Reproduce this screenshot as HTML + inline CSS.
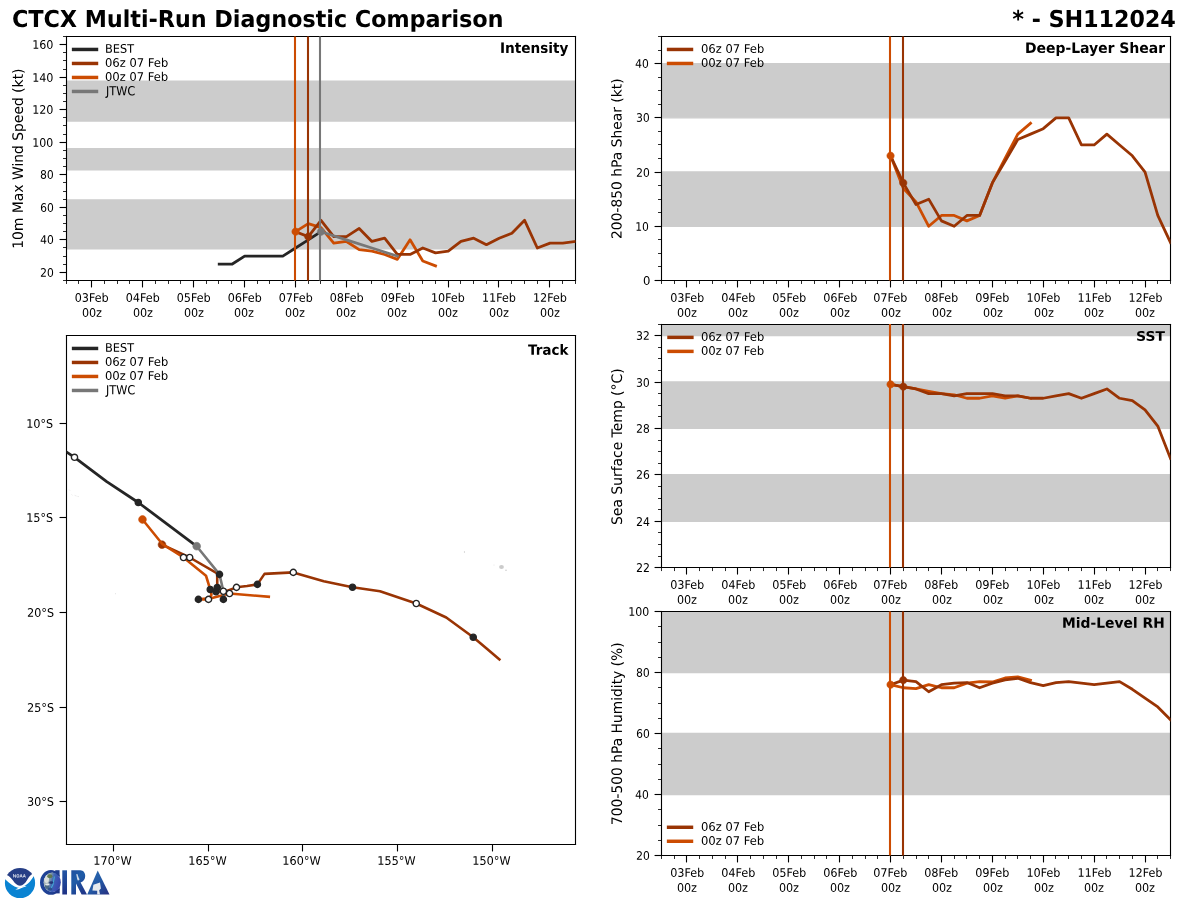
<!DOCTYPE html>
<html><head><meta charset="utf-8"><title>CTCX Multi-Run Diagnostic Comparison</title>
<style>
html,body{margin:0;padding:0;background:#fff;width:1200px;height:900px;overflow:hidden;font-family:"Liberation Sans",sans-serif;}
#fig{position:relative;width:1200px;height:900px;}
</style></head><body><div id="fig">
<svg width="1200" height="900" viewBox="0 0 864 648" style="display:block;position:absolute;left:0;top:0">
<defs>
<style type="text/css">*{stroke-linejoin: round; stroke-linecap: butt}</style>
</defs>
<g id="figure_1">
<g id="patch_1">
<path d="M 0 648 
L 864 648 
L 864 0 
L 0 0 
z
" style="fill: #ffffff"/>
</g>
<g id="axes_1">
<g id="patch_2">
<path d="M 47.88 201.96 
L 414.36 201.96 
L 414.36 26.28 
L 47.88 26.28 
z
" style="fill: #ffffff"/>
</g>
<g id="patch_3">
<path d="M 47.88 179.1216 
L 414.36 179.1216 
L 414.36 143.9856 
L 47.88 143.9856 
z
" clip-path="url(#pd9d3201587)" style="fill: #cccccc; stroke: #cccccc; stroke-linejoin: miter"/>
</g>
<g id="patch_4">
<path d="M 47.88 122.3184 
L 414.36 122.3184 
L 414.36 107.0928 
L 47.88 107.0928 
z
" clip-path="url(#pd9d3201587)" style="fill: #cccccc; stroke: #cccccc; stroke-linejoin: miter"/>
</g>
<g id="patch_5">
<path d="M 47.88 87.1824 
L 414.36 87.1824 
L 414.36 58.488 
L 47.88 58.488 
z
" clip-path="url(#pd9d3201587)" style="fill: #cccccc; stroke: #cccccc; stroke-linejoin: miter"/>
</g>
<g id="matplotlib.axis_1">
<g id="xtick_1">
<g id="line2d_1">
<defs>
<path id="me7126e2e17" d="M 0 0 
L 0 5 
" style="stroke: #000000; stroke-width: 0.8"/>
</defs>
<g>
<use href="#me7126e2e17" x="65.880" y="201.960" style="stroke: #000000; stroke-width: 0.8"/>
</g>
</g>
<g id="text_1">
<g transform="matrix(0.08029 0.00000 0.00000 -0.08500 53.801 217.311)">
<defs>
<path id="DejaVuSans-30" d="M 2034 4250 
Q 1547 4250 1301 3770 
Q 1056 3291 1056 2328 
Q 1056 1369 1301 889 
Q 1547 409 2034 409 
Q 2525 409 2770 889 
Q 3016 1369 3016 2328 
Q 3016 3291 2770 3770 
Q 2525 4250 2034 4250 
z
M 2034 4750 
Q 2819 4750 3233 4129 
Q 3647 3509 3647 2328 
Q 3647 1150 3233 529 
Q 2819 -91 2034 -91 
Q 1250 -91 836 529 
Q 422 1150 422 2328 
Q 422 3509 836 4129 
Q 1250 4750 2034 4750 
z
" transform="scale(0.015625)"/>
<path id="DejaVuSans-33" d="M 2597 2516 
Q 3050 2419 3304 2112 
Q 3559 1806 3559 1356 
Q 3559 666 3084 287 
Q 2609 -91 1734 -91 
Q 1441 -91 1130 -33 
Q 819 25 488 141 
L 488 750 
Q 750 597 1062 519 
Q 1375 441 1716 441 
Q 2309 441 2620 675 
Q 2931 909 2931 1356 
Q 2931 1769 2642 2001 
Q 2353 2234 1838 2234 
L 1294 2234 
L 1294 2753 
L 1863 2753 
Q 2328 2753 2575 2939 
Q 2822 3125 2822 3475 
Q 2822 3834 2567 4026 
Q 2313 4219 1838 4219 
Q 1578 4219 1281 4162 
Q 984 4106 628 3988 
L 628 4550 
Q 988 4650 1302 4700 
Q 1616 4750 1894 4750 
Q 2613 4750 3031 4423 
Q 3450 4097 3450 3541 
Q 3450 3153 3228 2886 
Q 3006 2619 2597 2516 
z
" transform="scale(0.015625)"/>
<path id="DejaVuSans-46" d="M 628 4666 
L 3309 4666 
L 3309 4134 
L 1259 4134 
L 1259 2759 
L 3109 2759 
L 3109 2228 
L 1259 2228 
L 1259 0 
L 628 0 
L 628 4666 
z
" transform="scale(0.015625)"/>
<path id="DejaVuSans-65" d="M 3597 1894 
L 3597 1613 
L 953 1613 
Q 991 1019 1311 708 
Q 1631 397 2203 397 
Q 2534 397 2845 478 
Q 3156 559 3463 722 
L 3463 178 
Q 3153 47 2828 -22 
Q 2503 -91 2169 -91 
Q 1331 -91 842 396 
Q 353 884 353 1716 
Q 353 2575 817 3079 
Q 1281 3584 2069 3584 
Q 2775 3584 3186 3129 
Q 3597 2675 3597 1894 
z
M 3022 2063 
Q 3016 2534 2758 2815 
Q 2500 3097 2075 3097 
Q 1594 3097 1305 2825 
Q 1016 2553 972 2059 
L 3022 2063 
z
" transform="scale(0.015625)"/>
<path id="DejaVuSans-62" d="M 3116 1747 
Q 3116 2381 2855 2742 
Q 2594 3103 2138 3103 
Q 1681 3103 1420 2742 
Q 1159 2381 1159 1747 
Q 1159 1113 1420 752 
Q 1681 391 2138 391 
Q 2594 391 2855 752 
Q 3116 1113 3116 1747 
z
M 1159 2969 
Q 1341 3281 1617 3432 
Q 1894 3584 2278 3584 
Q 2916 3584 3314 3078 
Q 3713 2572 3713 1747 
Q 3713 922 3314 415 
Q 2916 -91 2278 -91 
Q 1894 -91 1617 61 
Q 1341 213 1159 525 
L 1159 0 
L 581 0 
L 581 4863 
L 1159 4863 
L 1159 2969 
z
" transform="scale(0.015625)"/>
</defs>
<use href="#DejaVuSans-30"/>
<use href="#DejaVuSans-33" transform="translate(63.623047 0)"/>
<use href="#DejaVuSans-46" transform="translate(127.246094 0)"/>
<use href="#DejaVuSans-65" transform="translate(179.265625 0)"/>
<use href="#DejaVuSans-62" transform="translate(240.789062 0)"/>
</g>
<g transform="matrix(0.07965 0.00000 0.00000 -0.08507 59.063 228.102)">
<defs>
<path id="DejaVuSans-7a" d="M 353 3500 
L 3084 3500 
L 3084 2975 
L 922 459 
L 3084 459 
L 3084 0 
L 275 0 
L 275 525 
L 2438 3041 
L 353 3041 
L 353 3500 
z
" transform="scale(0.015625)"/>
</defs>
<use href="#DejaVuSans-30"/>
<use href="#DejaVuSans-30" transform="translate(63.623047 0)"/>
<use href="#DejaVuSans-7a" transform="translate(127.246094 0)"/>
</g>
</g>
</g>
<g id="xtick_2">
<g id="line2d_2">
<g>
<use href="#me7126e2e17" x="102.600" y="201.960" style="stroke: #000000; stroke-width: 0.8"/>
</g>
</g>
<g id="text_2">
<g transform="matrix(0.08060 0.00000 0.00000 -0.08500 90.520 217.319)">
<defs>
<path id="DejaVuSans-34" d="M 2419 4116 
L 825 1625 
L 2419 1625 
L 2419 4116 
z
M 2253 4666 
L 3047 4666 
L 3047 1625 
L 3713 1625 
L 3713 1100 
L 3047 1100 
L 3047 0 
L 2419 0 
L 2419 1100 
L 313 1100 
L 313 1709 
L 2253 4666 
z
" transform="scale(0.015625)"/>
</defs>
<use href="#DejaVuSans-30"/>
<use href="#DejaVuSans-34" transform="translate(63.623047 0)"/>
<use href="#DejaVuSans-46" transform="translate(127.246094 0)"/>
<use href="#DejaVuSans-65" transform="translate(179.265625 0)"/>
<use href="#DejaVuSans-62" transform="translate(240.789062 0)"/>
</g>
<g transform="matrix(0.07965 0.00000 0.00000 -0.08507 95.783 228.102)">
<use href="#DejaVuSans-30"/>
<use href="#DejaVuSans-30" transform="translate(63.623047 0)"/>
<use href="#DejaVuSans-7a" transform="translate(127.246094 0)"/>
</g>
</g>
</g>
<g id="xtick_3">
<g id="line2d_3">
<g>
<use href="#me7126e2e17" x="139.320" y="201.960" style="stroke: #000000; stroke-width: 0.8"/>
</g>
</g>
<g id="text_3">
<g transform="matrix(0.08029 0.00000 0.00000 -0.08500 127.241 217.311)">
<defs>
<path id="DejaVuSans-35" d="M 691 4666 
L 3169 4666 
L 3169 4134 
L 1269 4134 
L 1269 2991 
Q 1406 3038 1543 3061 
Q 1681 3084 1819 3084 
Q 2600 3084 3056 2656 
Q 3513 2228 3513 1497 
Q 3513 744 3044 326 
Q 2575 -91 1722 -91 
Q 1428 -91 1123 -41 
Q 819 9 494 109 
L 494 744 
Q 775 591 1075 516 
Q 1375 441 1709 441 
Q 2250 441 2565 725 
Q 2881 1009 2881 1497 
Q 2881 1984 2565 2268 
Q 2250 2553 1709 2553 
Q 1456 2553 1204 2497 
Q 953 2441 691 2322 
L 691 4666 
z
" transform="scale(0.015625)"/>
</defs>
<use href="#DejaVuSans-30"/>
<use href="#DejaVuSans-35" transform="translate(63.623047 0)"/>
<use href="#DejaVuSans-46" transform="translate(127.246094 0)"/>
<use href="#DejaVuSans-65" transform="translate(179.265625 0)"/>
<use href="#DejaVuSans-62" transform="translate(240.789062 0)"/>
</g>
<g transform="matrix(0.07965 0.00000 0.00000 -0.08507 132.503 228.102)">
<use href="#DejaVuSans-30"/>
<use href="#DejaVuSans-30" transform="translate(63.623047 0)"/>
<use href="#DejaVuSans-7a" transform="translate(127.246094 0)"/>
</g>
</g>
</g>
<g id="xtick_4">
<g id="line2d_4">
<g>
<use href="#me7126e2e17" x="176.040" y="201.960" style="stroke: #000000; stroke-width: 0.8"/>
</g>
</g>
<g id="text_4">
<g transform="matrix(0.08060 0.00000 0.00000 -0.08500 163.960 217.319)">
<defs>
<path id="DejaVuSans-36" d="M 2113 2584 
Q 1688 2584 1439 2293 
Q 1191 2003 1191 1497 
Q 1191 994 1439 701 
Q 1688 409 2113 409 
Q 2538 409 2786 701 
Q 3034 994 3034 1497 
Q 3034 2003 2786 2293 
Q 2538 2584 2113 2584 
z
M 3366 4563 
L 3366 3988 
Q 3128 4100 2886 4159 
Q 2644 4219 2406 4219 
Q 1781 4219 1451 3797 
Q 1122 3375 1075 2522 
Q 1259 2794 1537 2939 
Q 1816 3084 2150 3084 
Q 2853 3084 3261 2657 
Q 3669 2231 3669 1497 
Q 3669 778 3244 343 
Q 2819 -91 2113 -91 
Q 1303 -91 875 529 
Q 447 1150 447 2328 
Q 447 3434 972 4092 
Q 1497 4750 2381 4750 
Q 2619 4750 2861 4703 
Q 3103 4656 3366 4563 
z
" transform="scale(0.015625)"/>
</defs>
<use href="#DejaVuSans-30"/>
<use href="#DejaVuSans-36" transform="translate(63.623047 0)"/>
<use href="#DejaVuSans-46" transform="translate(127.246094 0)"/>
<use href="#DejaVuSans-65" transform="translate(179.265625 0)"/>
<use href="#DejaVuSans-62" transform="translate(240.789062 0)"/>
</g>
<g transform="matrix(0.07965 0.00000 0.00000 -0.08507 168.503 228.102)">
<use href="#DejaVuSans-30"/>
<use href="#DejaVuSans-30" transform="translate(63.623047 0)"/>
<use href="#DejaVuSans-7a" transform="translate(127.246094 0)"/>
</g>
</g>
</g>
<g id="xtick_5">
<g id="line2d_5">
<g>
<use href="#me7126e2e17" x="212.760" y="201.960" style="stroke: #000000; stroke-width: 0.8"/>
</g>
</g>
<g id="text_5">
<g transform="matrix(0.08060 0.00000 0.00000 -0.08500 200.680 217.319)">
<defs>
<path id="DejaVuSans-37" d="M 525 4666 
L 3525 4666 
L 3525 4397 
L 1831 0 
L 1172 0 
L 2766 4134 
L 525 4134 
L 525 4666 
z
" transform="scale(0.015625)"/>
</defs>
<use href="#DejaVuSans-30"/>
<use href="#DejaVuSans-37" transform="translate(63.623047 0)"/>
<use href="#DejaVuSans-46" transform="translate(127.246094 0)"/>
<use href="#DejaVuSans-65" transform="translate(179.265625 0)"/>
<use href="#DejaVuSans-62" transform="translate(240.789062 0)"/>
</g>
<g transform="matrix(0.07965 0.00000 0.00000 -0.08507 205.223 228.102)">
<use href="#DejaVuSans-30"/>
<use href="#DejaVuSans-30" transform="translate(63.623047 0)"/>
<use href="#DejaVuSans-7a" transform="translate(127.246094 0)"/>
</g>
</g>
</g>
<g id="xtick_6">
<g id="line2d_6">
<g>
<use href="#me7126e2e17" x="249.480" y="201.960" style="stroke: #000000; stroke-width: 0.8"/>
</g>
</g>
<g id="text_6">
<g transform="matrix(0.08029 0.00000 0.00000 -0.08500 237.401 217.311)">
<defs>
<path id="DejaVuSans-38" d="M 2034 2216 
Q 1584 2216 1326 1975 
Q 1069 1734 1069 1313 
Q 1069 891 1326 650 
Q 1584 409 2034 409 
Q 2484 409 2743 651 
Q 3003 894 3003 1313 
Q 3003 1734 2745 1975 
Q 2488 2216 2034 2216 
z
M 1403 2484 
Q 997 2584 770 2862 
Q 544 3141 544 3541 
Q 544 4100 942 4425 
Q 1341 4750 2034 4750 
Q 2731 4750 3128 4425 
Q 3525 4100 3525 3541 
Q 3525 3141 3298 2862 
Q 3072 2584 2669 2484 
Q 3125 2378 3379 2068 
Q 3634 1759 3634 1313 
Q 3634 634 3220 271 
Q 2806 -91 2034 -91 
Q 1263 -91 848 271 
Q 434 634 434 1313 
Q 434 1759 690 2068 
Q 947 2378 1403 2484 
z
M 1172 3481 
Q 1172 3119 1398 2916 
Q 1625 2713 2034 2713 
Q 2441 2713 2670 2916 
Q 2900 3119 2900 3481 
Q 2900 3844 2670 4047 
Q 2441 4250 2034 4250 
Q 1625 4250 1398 4047 
Q 1172 3844 1172 3481 
z
" transform="scale(0.015625)"/>
</defs>
<use href="#DejaVuSans-30"/>
<use href="#DejaVuSans-38" transform="translate(63.623047 0)"/>
<use href="#DejaVuSans-46" transform="translate(127.246094 0)"/>
<use href="#DejaVuSans-65" transform="translate(179.265625 0)"/>
<use href="#DejaVuSans-62" transform="translate(240.789062 0)"/>
</g>
<g transform="matrix(0.07965 0.00000 0.00000 -0.08507 241.943 228.102)">
<use href="#DejaVuSans-30"/>
<use href="#DejaVuSans-30" transform="translate(63.623047 0)"/>
<use href="#DejaVuSans-7a" transform="translate(127.246094 0)"/>
</g>
</g>
</g>
<g id="xtick_7">
<g id="line2d_7">
<g>
<use href="#me7126e2e17" x="286.200" y="201.960" style="stroke: #000000; stroke-width: 0.8"/>
</g>
</g>
<g id="text_7">
<g transform="matrix(0.08060 0.00000 0.00000 -0.08500 274.120 217.319)">
<defs>
<path id="DejaVuSans-39" d="M 703 97 
L 703 672 
Q 941 559 1184 500 
Q 1428 441 1663 441 
Q 2288 441 2617 861 
Q 2947 1281 2994 2138 
Q 2813 1869 2534 1725 
Q 2256 1581 1919 1581 
Q 1219 1581 811 2004 
Q 403 2428 403 3163 
Q 403 3881 828 4315 
Q 1253 4750 1959 4750 
Q 2769 4750 3195 4129 
Q 3622 3509 3622 2328 
Q 3622 1225 3098 567 
Q 2575 -91 1691 -91 
Q 1453 -91 1209 -44 
Q 966 3 703 97 
z
M 1959 2075 
Q 2384 2075 2632 2365 
Q 2881 2656 2881 3163 
Q 2881 3666 2632 3958 
Q 2384 4250 1959 4250 
Q 1534 4250 1286 3958 
Q 1038 3666 1038 3163 
Q 1038 2656 1286 2365 
Q 1534 2075 1959 2075 
z
" transform="scale(0.015625)"/>
</defs>
<use href="#DejaVuSans-30"/>
<use href="#DejaVuSans-39" transform="translate(63.623047 0)"/>
<use href="#DejaVuSans-46" transform="translate(127.246094 0)"/>
<use href="#DejaVuSans-65" transform="translate(179.265625 0)"/>
<use href="#DejaVuSans-62" transform="translate(240.789062 0)"/>
</g>
<g transform="matrix(0.07965 0.00000 0.00000 -0.08507 278.663 228.102)">
<use href="#DejaVuSans-30"/>
<use href="#DejaVuSans-30" transform="translate(63.623047 0)"/>
<use href="#DejaVuSans-7a" transform="translate(127.246094 0)"/>
</g>
</g>
</g>
<g id="xtick_8">
<g id="line2d_8">
<g>
<use href="#me7126e2e17" x="322.920" y="201.960" style="stroke: #000000; stroke-width: 0.8"/>
</g>
</g>
<g id="text_8">
<g transform="matrix(0.08001 0.00000 0.00000 -0.08500 310.299 217.319)">
<defs>
<path id="DejaVuSans-31" d="M 794 531 
L 1825 531 
L 1825 4091 
L 703 3866 
L 703 4441 
L 1819 4666 
L 2450 4666 
L 2450 531 
L 3481 531 
L 3481 0 
L 794 0 
L 794 531 
z
" transform="scale(0.015625)"/>
</defs>
<use href="#DejaVuSans-31"/>
<use href="#DejaVuSans-30" transform="translate(63.623047 0)"/>
<use href="#DejaVuSans-46" transform="translate(127.246094 0)"/>
<use href="#DejaVuSans-65" transform="translate(179.265625 0)"/>
<use href="#DejaVuSans-62" transform="translate(240.789062 0)"/>
</g>
<g transform="matrix(0.07965 0.00000 0.00000 -0.08507 315.383 228.102)">
<use href="#DejaVuSans-30"/>
<use href="#DejaVuSans-30" transform="translate(63.623047 0)"/>
<use href="#DejaVuSans-7a" transform="translate(127.246094 0)"/>
</g>
</g>
</g>
<g id="xtick_9">
<g id="line2d_9">
<g>
<use href="#me7126e2e17" x="358.920" y="201.960" style="stroke: #000000; stroke-width: 0.8"/>
</g>
</g>
<g id="text_9">
<g transform="matrix(0.08031 0.00000 0.00000 -0.08500 347.016 217.319)">
<use href="#DejaVuSans-31"/>
<use href="#DejaVuSans-31" transform="translate(63.623047 0)"/>
<use href="#DejaVuSans-46" transform="translate(127.246094 0)"/>
<use href="#DejaVuSans-65" transform="translate(179.265625 0)"/>
<use href="#DejaVuSans-62" transform="translate(240.789062 0)"/>
</g>
<g transform="matrix(0.07965 0.00000 0.00000 -0.08507 352.103 228.102)">
<use href="#DejaVuSans-30"/>
<use href="#DejaVuSans-30" transform="translate(63.623047 0)"/>
<use href="#DejaVuSans-7a" transform="translate(127.246094 0)"/>
</g>
</g>
</g>
<g id="xtick_10">
<g id="line2d_10">
<g>
<use href="#me7126e2e17" x="395.640" y="201.960" style="stroke: #000000; stroke-width: 0.8"/>
</g>
</g>
<g id="text_10">
<g transform="matrix(0.08031 0.00000 0.00000 -0.08500 383.736 217.319)">
<defs>
<path id="DejaVuSans-32" d="M 1228 531 
L 3431 531 
L 3431 0 
L 469 0 
L 469 531 
Q 828 903 1448 1529 
Q 2069 2156 2228 2338 
Q 2531 2678 2651 2914 
Q 2772 3150 2772 3378 
Q 2772 3750 2511 3984 
Q 2250 4219 1831 4219 
Q 1534 4219 1204 4116 
Q 875 4013 500 3803 
L 500 4441 
Q 881 4594 1212 4672 
Q 1544 4750 1819 4750 
Q 2544 4750 2975 4387 
Q 3406 4025 3406 3419 
Q 3406 3131 3298 2873 
Q 3191 2616 2906 2266 
Q 2828 2175 2409 1742 
Q 1991 1309 1228 531 
z
" transform="scale(0.015625)"/>
</defs>
<use href="#DejaVuSans-31"/>
<use href="#DejaVuSans-32" transform="translate(63.623047 0)"/>
<use href="#DejaVuSans-46" transform="translate(127.246094 0)"/>
<use href="#DejaVuSans-65" transform="translate(179.265625 0)"/>
<use href="#DejaVuSans-62" transform="translate(240.789062 0)"/>
</g>
<g transform="matrix(0.07965 0.00000 0.00000 -0.08507 388.823 228.102)">
<use href="#DejaVuSans-30"/>
<use href="#DejaVuSans-30" transform="translate(63.623047 0)"/>
<use href="#DejaVuSans-7a" transform="translate(127.246094 0)"/>
</g>
</g>
</g>
<g id="xtick_11">
<g id="line2d_11">
<defs>
<path id="me60ad57aef" d="M 0 0 
L 0 2.5 
" style="stroke: #000000; stroke-width: 0.6"/>
</defs>
<g>
<use href="#me60ad57aef" x="47.880" y="201.960" style="stroke: #000000; stroke-width: 0.6"/>
</g>
</g>
</g>
<g id="xtick_12">
<g id="line2d_12">
<g>
<use href="#me60ad57aef" x="56.520" y="201.960" style="stroke: #000000; stroke-width: 0.6"/>
</g>
</g>
</g>
<g id="xtick_13">
<g id="line2d_13">
<g>
<use href="#me60ad57aef" x="75.240" y="201.960" style="stroke: #000000; stroke-width: 0.6"/>
</g>
</g>
</g>
<g id="xtick_14">
<g id="line2d_14">
<g>
<use href="#me60ad57aef" x="84.600" y="201.960" style="stroke: #000000; stroke-width: 0.6"/>
</g>
</g>
</g>
<g id="xtick_15">
<g id="line2d_15">
<g>
<use href="#me60ad57aef" x="93.240" y="201.960" style="stroke: #000000; stroke-width: 0.6"/>
</g>
</g>
</g>
<g id="xtick_16">
<g id="line2d_16">
<g>
<use href="#me60ad57aef" x="111.960" y="201.960" style="stroke: #000000; stroke-width: 0.6"/>
</g>
</g>
</g>
<g id="xtick_17">
<g id="line2d_17">
<g>
<use href="#me60ad57aef" x="121.320" y="201.960" style="stroke: #000000; stroke-width: 0.6"/>
</g>
</g>
</g>
<g id="xtick_18">
<g id="line2d_18">
<g>
<use href="#me60ad57aef" x="129.960" y="201.960" style="stroke: #000000; stroke-width: 0.6"/>
</g>
</g>
</g>
<g id="xtick_19">
<g id="line2d_19">
<g>
<use href="#me60ad57aef" x="148.680" y="201.960" style="stroke: #000000; stroke-width: 0.6"/>
</g>
</g>
</g>
<g id="xtick_20">
<g id="line2d_20">
<g>
<use href="#me60ad57aef" x="157.320" y="201.960" style="stroke: #000000; stroke-width: 0.6"/>
</g>
</g>
</g>
<g id="xtick_21">
<g id="line2d_21">
<g>
<use href="#me60ad57aef" x="166.680" y="201.960" style="stroke: #000000; stroke-width: 0.6"/>
</g>
</g>
</g>
<g id="xtick_22">
<g id="line2d_22">
<g>
<use href="#me60ad57aef" x="185.400" y="201.960" style="stroke: #000000; stroke-width: 0.6"/>
</g>
</g>
</g>
<g id="xtick_23">
<g id="line2d_23">
<g>
<use href="#me60ad57aef" x="194.040" y="201.960" style="stroke: #000000; stroke-width: 0.6"/>
</g>
</g>
</g>
<g id="xtick_24">
<g id="line2d_24">
<g>
<use href="#me60ad57aef" x="203.400" y="201.960" style="stroke: #000000; stroke-width: 0.6"/>
</g>
</g>
</g>
<g id="xtick_25">
<g id="line2d_25">
<g>
<use href="#me60ad57aef" x="222.120" y="201.960" style="stroke: #000000; stroke-width: 0.6"/>
</g>
</g>
</g>
<g id="xtick_26">
<g id="line2d_26">
<g>
<use href="#me60ad57aef" x="230.760" y="201.960" style="stroke: #000000; stroke-width: 0.6"/>
</g>
</g>
</g>
<g id="xtick_27">
<g id="line2d_27">
<g>
<use href="#me60ad57aef" x="240.120" y="201.960" style="stroke: #000000; stroke-width: 0.6"/>
</g>
</g>
</g>
<g id="xtick_28">
<g id="line2d_28">
<g>
<use href="#me60ad57aef" x="258.120" y="201.960" style="stroke: #000000; stroke-width: 0.6"/>
</g>
</g>
</g>
<g id="xtick_29">
<g id="line2d_29">
<g>
<use href="#me60ad57aef" x="267.480" y="201.960" style="stroke: #000000; stroke-width: 0.6"/>
</g>
</g>
</g>
<g id="xtick_30">
<g id="line2d_30">
<g>
<use href="#me60ad57aef" x="276.840" y="201.960" style="stroke: #000000; stroke-width: 0.6"/>
</g>
</g>
</g>
<g id="xtick_31">
<g id="line2d_31">
<g>
<use href="#me60ad57aef" x="294.840" y="201.960" style="stroke: #000000; stroke-width: 0.6"/>
</g>
</g>
</g>
<g id="xtick_32">
<g id="line2d_32">
<g>
<use href="#me60ad57aef" x="304.200" y="201.960" style="stroke: #000000; stroke-width: 0.6"/>
</g>
</g>
</g>
<g id="xtick_33">
<g id="line2d_33">
<g>
<use href="#me60ad57aef" x="313.560" y="201.960" style="stroke: #000000; stroke-width: 0.6"/>
</g>
</g>
</g>
<g id="xtick_34">
<g id="line2d_34">
<g>
<use href="#me60ad57aef" x="331.560" y="201.960" style="stroke: #000000; stroke-width: 0.6"/>
</g>
</g>
</g>
<g id="xtick_35">
<g id="line2d_35">
<g>
<use href="#me60ad57aef" x="340.920" y="201.960" style="stroke: #000000; stroke-width: 0.6"/>
</g>
</g>
</g>
<g id="xtick_36">
<g id="line2d_36">
<g>
<use href="#me60ad57aef" x="350.280" y="201.960" style="stroke: #000000; stroke-width: 0.6"/>
</g>
</g>
</g>
<g id="xtick_37">
<g id="line2d_37">
<g>
<use href="#me60ad57aef" x="368.280" y="201.960" style="stroke: #000000; stroke-width: 0.6"/>
</g>
</g>
</g>
<g id="xtick_38">
<g id="line2d_38">
<g>
<use href="#me60ad57aef" x="377.640" y="201.960" style="stroke: #000000; stroke-width: 0.6"/>
</g>
</g>
</g>
<g id="xtick_39">
<g id="line2d_39">
<g>
<use href="#me60ad57aef" x="387.000" y="201.960" style="stroke: #000000; stroke-width: 0.6"/>
</g>
</g>
</g>
<g id="xtick_40">
<g id="line2d_40">
<g>
<use href="#me60ad57aef" x="405.000" y="201.960" style="stroke: #000000; stroke-width: 0.6"/>
</g>
</g>
</g>
<g id="xtick_41">
<g id="line2d_41">
<g>
<use href="#me60ad57aef" x="414.360" y="201.960" style="stroke: #000000; stroke-width: 0.6"/>
</g>
</g>
</g>
</g>
<g id="matplotlib.axis_2">
<g id="ytick_1">
<g id="line2d_42">
<defs>
<path id="med81453d1f" d="M 0 0 
L -5 0 
" style="stroke: #000000; stroke-width: 0.8"/>
</defs>
<g>
<use href="#med81453d1f" x="47.880" y="196.200" style="stroke: #000000; stroke-width: 0.8"/>
</g>
</g>
<g id="text_11">
<g transform="matrix(0.07777 0.00000 0.00000 -0.08522 28.863 199.319)">
<use href="#DejaVuSans-32"/>
<use href="#DejaVuSans-30" transform="translate(63.623047 0)"/>
</g>
</g>
</g>
<g id="ytick_2">
<g id="line2d_43">
<g>
<use href="#med81453d1f" x="47.880" y="172.440" style="stroke: #000000; stroke-width: 0.8"/>
</g>
</g>
<g id="text_12">
<g transform="matrix(0.07772 0.00000 0.00000 -0.08496 28.869 175.528)">
<use href="#DejaVuSans-34"/>
<use href="#DejaVuSans-30" transform="translate(63.623047 0)"/>
</g>
</g>
</g>
<g id="ytick_3">
<g id="line2d_44">
<g>
<use href="#med81453d1f" x="47.880" y="149.400" style="stroke: #000000; stroke-width: 0.8"/>
</g>
</g>
<g id="text_13">
<g transform="matrix(0.07741 0.00000 0.00000 -0.08488 28.906 152.488)">
<use href="#DejaVuSans-36"/>
<use href="#DejaVuSans-30" transform="translate(63.623047 0)"/>
</g>
</g>
</g>
<g id="ytick_4">
<g id="line2d_45">
<g>
<use href="#med81453d1f" x="47.880" y="125.640" style="stroke: #000000; stroke-width: 0.8"/>
</g>
</g>
<g id="text_14">
<g transform="matrix(0.07717 0.00000 0.00000 -0.08470 28.847 128.723)">
<use href="#DejaVuSans-38"/>
<use href="#DejaVuSans-30" transform="translate(63.623047 0)"/>
</g>
</g>
</g>
<g id="ytick_5">
<g id="line2d_46">
<g>
<use href="#med81453d1f" x="47.880" y="102.600" style="stroke: #000000; stroke-width: 0.8"/>
</g>
</g>
<g id="text_15">
<g transform="matrix(0.07893 0.00000 0.00000 -0.08556 23.252 105.718)">
<use href="#DejaVuSans-31"/>
<use href="#DejaVuSans-30" transform="translate(63.623047 0)"/>
<use href="#DejaVuSans-30" transform="translate(127.246094 0)"/>
</g>
</g>
</g>
<g id="ytick_6">
<g id="line2d_47">
<g>
<use href="#med81453d1f" x="47.880" y="78.840" style="stroke: #000000; stroke-width: 0.8"/>
</g>
</g>
<g id="text_16">
<g transform="matrix(0.07945 0.00000 0.00000 -0.08556 23.246 81.958)">
<use href="#DejaVuSans-31"/>
<use href="#DejaVuSans-32" transform="translate(63.623047 0)"/>
<use href="#DejaVuSans-30" transform="translate(127.246094 0)"/>
</g>
</g>
</g>
<g id="ytick_7">
<g id="line2d_48">
<g>
<use href="#med81453d1f" x="47.880" y="55.800" style="stroke: #000000; stroke-width: 0.8"/>
</g>
</g>
<g id="text_17">
<g transform="matrix(0.07945 0.00000 0.00000 -0.08567 23.246 58.918)">
<use href="#DejaVuSans-31"/>
<use href="#DejaVuSans-34" transform="translate(63.623047 0)"/>
<use href="#DejaVuSans-30" transform="translate(127.246094 0)"/>
</g>
</g>
</g>
<g id="ytick_8">
<g id="line2d_49">
<g>
<use href="#med81453d1f" x="47.880" y="32.040" style="stroke: #000000; stroke-width: 0.8"/>
</g>
</g>
<g id="text_18">
<g transform="matrix(0.07945 0.00000 0.00000 -0.08556 23.246 35.158)">
<use href="#DejaVuSans-31"/>
<use href="#DejaVuSans-36" transform="translate(63.623047 0)"/>
<use href="#DejaVuSans-30" transform="translate(127.246094 0)"/>
</g>
</g>
</g>
<g id="ytick_9">
<g id="line2d_50">
<defs>
<path id="mf9979f3be9" d="M 0 0 
L -2.5 0 
" style="stroke: #000000; stroke-width: 0.6"/>
</defs>
<g>
<use href="#mf9979f3be9" x="47.880" y="201.960" style="stroke: #000000; stroke-width: 0.6"/>
</g>
</g>
</g>
<g id="ytick_10">
<g id="line2d_51">
<g>
<use href="#mf9979f3be9" x="47.880" y="190.440" style="stroke: #000000; stroke-width: 0.6"/>
</g>
</g>
</g>
<g id="ytick_11">
<g id="line2d_52">
<g>
<use href="#mf9979f3be9" x="47.880" y="184.680" style="stroke: #000000; stroke-width: 0.6"/>
</g>
</g>
</g>
<g id="ytick_12">
<g id="line2d_53">
<g>
<use href="#mf9979f3be9" x="47.880" y="178.200" style="stroke: #000000; stroke-width: 0.6"/>
</g>
</g>
</g>
<g id="ytick_13">
<g id="line2d_54">
<g>
<use href="#mf9979f3be9" x="47.880" y="166.680" style="stroke: #000000; stroke-width: 0.6"/>
</g>
</g>
</g>
<g id="ytick_14">
<g id="line2d_55">
<g>
<use href="#mf9979f3be9" x="47.880" y="160.920" style="stroke: #000000; stroke-width: 0.6"/>
</g>
</g>
</g>
<g id="ytick_15">
<g id="line2d_56">
<g>
<use href="#mf9979f3be9" x="47.880" y="155.160" style="stroke: #000000; stroke-width: 0.6"/>
</g>
</g>
</g>
<g id="ytick_16">
<g id="line2d_57">
<g>
<use href="#mf9979f3be9" x="47.880" y="143.640" style="stroke: #000000; stroke-width: 0.6"/>
</g>
</g>
</g>
<g id="ytick_17">
<g id="line2d_58">
<g>
<use href="#mf9979f3be9" x="47.880" y="137.880" style="stroke: #000000; stroke-width: 0.6"/>
</g>
</g>
</g>
<g id="ytick_18">
<g id="line2d_59">
<g>
<use href="#mf9979f3be9" x="47.880" y="131.400" style="stroke: #000000; stroke-width: 0.6"/>
</g>
</g>
</g>
<g id="ytick_19">
<g id="line2d_60">
<g>
<use href="#mf9979f3be9" x="47.880" y="119.880" style="stroke: #000000; stroke-width: 0.6"/>
</g>
</g>
</g>
<g id="ytick_20">
<g id="line2d_61">
<g>
<use href="#mf9979f3be9" x="47.880" y="114.120" style="stroke: #000000; stroke-width: 0.6"/>
</g>
</g>
</g>
<g id="ytick_21">
<g id="line2d_62">
<g>
<use href="#mf9979f3be9" x="47.880" y="108.360" style="stroke: #000000; stroke-width: 0.6"/>
</g>
</g>
</g>
<g id="ytick_22">
<g id="line2d_63">
<g>
<use href="#mf9979f3be9" x="47.880" y="96.840" style="stroke: #000000; stroke-width: 0.6"/>
</g>
</g>
</g>
<g id="ytick_23">
<g id="line2d_64">
<g>
<use href="#mf9979f3be9" x="47.880" y="90.360" style="stroke: #000000; stroke-width: 0.6"/>
</g>
</g>
</g>
<g id="ytick_24">
<g id="line2d_65">
<g>
<use href="#mf9979f3be9" x="47.880" y="84.600" style="stroke: #000000; stroke-width: 0.6"/>
</g>
</g>
</g>
<g id="ytick_25">
<g id="line2d_66">
<g>
<use href="#mf9979f3be9" x="47.880" y="73.080" style="stroke: #000000; stroke-width: 0.6"/>
</g>
</g>
</g>
<g id="ytick_26">
<g id="line2d_67">
<g>
<use href="#mf9979f3be9" x="47.880" y="67.320" style="stroke: #000000; stroke-width: 0.6"/>
</g>
</g>
</g>
<g id="ytick_27">
<g id="line2d_68">
<g>
<use href="#mf9979f3be9" x="47.880" y="61.560" style="stroke: #000000; stroke-width: 0.6"/>
</g>
</g>
</g>
<g id="ytick_28">
<g id="line2d_69">
<g>
<use href="#mf9979f3be9" x="47.880" y="50.040" style="stroke: #000000; stroke-width: 0.6"/>
</g>
</g>
</g>
<g id="ytick_29">
<g id="line2d_70">
<g>
<use href="#mf9979f3be9" x="47.880" y="43.560" style="stroke: #000000; stroke-width: 0.6"/>
</g>
</g>
</g>
<g id="ytick_30">
<g id="line2d_71">
<g>
<use href="#mf9979f3be9" x="47.880" y="37.800" style="stroke: #000000; stroke-width: 0.6"/>
</g>
</g>
</g>
<g id="ytick_31">
<g id="line2d_72">
<g>
<use href="#mf9979f3be9" x="47.880" y="26.280" style="stroke: #000000; stroke-width: 0.6"/>
</g>
</g>
</g>
<g id="text_19">
<g transform="matrix(0.00000 -0.09997 -0.10316 -0.00000 16.481 179.141)">
<defs>
<path id="DejaVuSans-6d" d="M 3328 2828 
Q 3544 3216 3844 3400 
Q 4144 3584 4550 3584 
Q 5097 3584 5394 3201 
Q 5691 2819 5691 2113 
L 5691 0 
L 5113 0 
L 5113 2094 
Q 5113 2597 4934 2840 
Q 4756 3084 4391 3084 
Q 3944 3084 3684 2787 
Q 3425 2491 3425 1978 
L 3425 0 
L 2847 0 
L 2847 2094 
Q 2847 2600 2669 2842 
Q 2491 3084 2119 3084 
Q 1678 3084 1418 2786 
Q 1159 2488 1159 1978 
L 1159 0 
L 581 0 
L 581 3500 
L 1159 3500 
L 1159 2956 
Q 1356 3278 1631 3431 
Q 1906 3584 2284 3584 
Q 2666 3584 2933 3390 
Q 3200 3197 3328 2828 
z
" transform="scale(0.015625)"/>
<path id="DejaVuSans-20" transform="scale(0.015625)"/>
<path id="DejaVuSans-4d" d="M 628 4666 
L 1569 4666 
L 2759 1491 
L 3956 4666 
L 4897 4666 
L 4897 0 
L 4281 0 
L 4281 4097 
L 3078 897 
L 2444 897 
L 1241 4097 
L 1241 0 
L 628 0 
L 628 4666 
z
" transform="scale(0.015625)"/>
<path id="DejaVuSans-61" d="M 2194 1759 
Q 1497 1759 1228 1600 
Q 959 1441 959 1056 
Q 959 750 1161 570 
Q 1363 391 1709 391 
Q 2188 391 2477 730 
Q 2766 1069 2766 1631 
L 2766 1759 
L 2194 1759 
z
M 3341 1997 
L 3341 0 
L 2766 0 
L 2766 531 
Q 2569 213 2275 61 
Q 1981 -91 1556 -91 
Q 1019 -91 701 211 
Q 384 513 384 1019 
Q 384 1609 779 1909 
Q 1175 2209 1959 2209 
L 2766 2209 
L 2766 2266 
Q 2766 2663 2505 2880 
Q 2244 3097 1772 3097 
Q 1472 3097 1187 3025 
Q 903 2953 641 2809 
L 641 3341 
Q 956 3463 1253 3523 
Q 1550 3584 1831 3584 
Q 2591 3584 2966 3190 
Q 3341 2797 3341 1997 
z
" transform="scale(0.015625)"/>
<path id="DejaVuSans-78" d="M 3513 3500 
L 2247 1797 
L 3578 0 
L 2900 0 
L 1881 1375 
L 863 0 
L 184 0 
L 1544 1831 
L 300 3500 
L 978 3500 
L 1906 2253 
L 2834 3500 
L 3513 3500 
z
" transform="scale(0.015625)"/>
<path id="DejaVuSans-57" d="M 213 4666 
L 850 4666 
L 1831 722 
L 2809 4666 
L 3519 4666 
L 4500 722 
L 5478 4666 
L 6119 4666 
L 4947 0 
L 4153 0 
L 3169 4050 
L 2175 0 
L 1381 0 
L 213 4666 
z
" transform="scale(0.015625)"/>
<path id="DejaVuSans-69" d="M 603 3500 
L 1178 3500 
L 1178 0 
L 603 0 
L 603 3500 
z
M 603 4863 
L 1178 4863 
L 1178 4134 
L 603 4134 
L 603 4863 
z
" transform="scale(0.015625)"/>
<path id="DejaVuSans-6e" d="M 3513 2113 
L 3513 0 
L 2938 0 
L 2938 2094 
Q 2938 2591 2744 2837 
Q 2550 3084 2163 3084 
Q 1697 3084 1428 2787 
Q 1159 2491 1159 1978 
L 1159 0 
L 581 0 
L 581 3500 
L 1159 3500 
L 1159 2956 
Q 1366 3272 1645 3428 
Q 1925 3584 2291 3584 
Q 2894 3584 3203 3211 
Q 3513 2838 3513 2113 
z
" transform="scale(0.015625)"/>
<path id="DejaVuSans-64" d="M 2906 2969 
L 2906 4863 
L 3481 4863 
L 3481 0 
L 2906 0 
L 2906 525 
Q 2725 213 2448 61 
Q 2172 -91 1784 -91 
Q 1150 -91 751 415 
Q 353 922 353 1747 
Q 353 2572 751 3078 
Q 1150 3584 1784 3584 
Q 2172 3584 2448 3432 
Q 2725 3281 2906 2969 
z
M 947 1747 
Q 947 1113 1208 752 
Q 1469 391 1925 391 
Q 2381 391 2643 752 
Q 2906 1113 2906 1747 
Q 2906 2381 2643 2742 
Q 2381 3103 1925 3103 
Q 1469 3103 1208 2742 
Q 947 2381 947 1747 
z
" transform="scale(0.015625)"/>
<path id="DejaVuSans-53" d="M 3425 4513 
L 3425 3897 
Q 3066 4069 2747 4153 
Q 2428 4238 2131 4238 
Q 1616 4238 1336 4038 
Q 1056 3838 1056 3469 
Q 1056 3159 1242 3001 
Q 1428 2844 1947 2747 
L 2328 2669 
Q 3034 2534 3370 2195 
Q 3706 1856 3706 1288 
Q 3706 609 3251 259 
Q 2797 -91 1919 -91 
Q 1588 -91 1214 -16 
Q 841 59 441 206 
L 441 856 
Q 825 641 1194 531 
Q 1563 422 1919 422 
Q 2459 422 2753 634 
Q 3047 847 3047 1241 
Q 3047 1584 2836 1778 
Q 2625 1972 2144 2069 
L 1759 2144 
Q 1053 2284 737 2584 
Q 422 2884 422 3419 
Q 422 4038 858 4394 
Q 1294 4750 2059 4750 
Q 2388 4750 2728 4690 
Q 3069 4631 3425 4513 
z
" transform="scale(0.015625)"/>
<path id="DejaVuSans-70" d="M 1159 525 
L 1159 -1331 
L 581 -1331 
L 581 3500 
L 1159 3500 
L 1159 2969 
Q 1341 3281 1617 3432 
Q 1894 3584 2278 3584 
Q 2916 3584 3314 3078 
Q 3713 2572 3713 1747 
Q 3713 922 3314 415 
Q 2916 -91 2278 -91 
Q 1894 -91 1617 61 
Q 1341 213 1159 525 
z
M 3116 1747 
Q 3116 2381 2855 2742 
Q 2594 3103 2138 3103 
Q 1681 3103 1420 2742 
Q 1159 2381 1159 1747 
Q 1159 1113 1420 752 
Q 1681 391 2138 391 
Q 2594 391 2855 752 
Q 3116 1113 3116 1747 
z
" transform="scale(0.015625)"/>
<path id="DejaVuSans-28" d="M 1984 4856 
Q 1566 4138 1362 3434 
Q 1159 2731 1159 2009 
Q 1159 1288 1364 580 
Q 1569 -128 1984 -844 
L 1484 -844 
Q 1016 -109 783 600 
Q 550 1309 550 2009 
Q 550 2706 781 3412 
Q 1013 4119 1484 4856 
L 1984 4856 
z
" transform="scale(0.015625)"/>
<path id="DejaVuSans-6b" d="M 581 4863 
L 1159 4863 
L 1159 1991 
L 2875 3500 
L 3609 3500 
L 1753 1863 
L 3688 0 
L 2938 0 
L 1159 1709 
L 1159 0 
L 581 0 
L 581 4863 
z
" transform="scale(0.015625)"/>
<path id="DejaVuSans-74" d="M 1172 4494 
L 1172 3500 
L 2356 3500 
L 2356 3053 
L 1172 3053 
L 1172 1153 
Q 1172 725 1289 603 
Q 1406 481 1766 481 
L 2356 481 
L 2356 0 
L 1766 0 
Q 1100 0 847 248 
Q 594 497 594 1153 
L 594 3053 
L 172 3053 
L 172 3500 
L 594 3500 
L 594 4494 
L 1172 4494 
z
" transform="scale(0.015625)"/>
<path id="DejaVuSans-29" d="M 513 4856 
L 1013 4856 
Q 1481 4119 1714 3412 
Q 1947 2706 1947 2009 
Q 1947 1309 1714 600 
Q 1481 -109 1013 -844 
L 513 -844 
Q 928 -128 1133 580 
Q 1338 1288 1338 2009 
Q 1338 2731 1133 3434 
Q 928 4138 513 4856 
z
" transform="scale(0.015625)"/>
</defs>
<use href="#DejaVuSans-31"/>
<use href="#DejaVuSans-30" transform="translate(63.623047 0)"/>
<use href="#DejaVuSans-6d" transform="translate(127.246094 0)"/>
<use href="#DejaVuSans-20" transform="translate(224.658203 0)"/>
<use href="#DejaVuSans-4d" transform="translate(256.445312 0)"/>
<use href="#DejaVuSans-61" transform="translate(342.724609 0)"/>
<use href="#DejaVuSans-78" transform="translate(404.003906 0)"/>
<use href="#DejaVuSans-20" transform="translate(463.183594 0)"/>
<use href="#DejaVuSans-57" transform="translate(494.970703 0)"/>
<use href="#DejaVuSans-69" transform="translate(591.597656 0)"/>
<use href="#DejaVuSans-6e" transform="translate(619.380859 0)"/>
<use href="#DejaVuSans-64" transform="translate(682.759766 0)"/>
<use href="#DejaVuSans-20" transform="translate(746.236328 0)"/>
<use href="#DejaVuSans-53" transform="translate(778.023438 0)"/>
<use href="#DejaVuSans-70" transform="translate(841.5 0)"/>
<use href="#DejaVuSans-65" transform="translate(904.976562 0)"/>
<use href="#DejaVuSans-65" transform="translate(966.5 0)"/>
<use href="#DejaVuSans-64" transform="translate(1028.023438 0)"/>
<use href="#DejaVuSans-20" transform="translate(1091.5 0)"/>
<use href="#DejaVuSans-28" transform="translate(1123.287109 0)"/>
<use href="#DejaVuSans-6b" transform="translate(1162.300781 0)"/>
<use href="#DejaVuSans-74" transform="translate(1220.210938 0)"/>
<use href="#DejaVuSans-29" transform="translate(1259.419922 0)"/>
</g>
</g>
</g>
<g id="patch_6">
<path d="M 47.880 201.960 
L 47.880 26.280 
" style="fill: none; stroke: #000000; stroke-width: 0.8; stroke-linejoin: miter; stroke-linecap: square"/>
</g>
<g id="patch_7">
<path d="M 414.360 201.960 
L 414.360 26.280 
" style="fill: none; stroke: #000000; stroke-width: 0.8; stroke-linejoin: miter; stroke-linecap: square"/>
</g>
<g id="patch_8">
<path d="M 47.880 201.960 
L 414.360 201.960 
" style="fill: none; stroke: #000000; stroke-width: 0.8; stroke-linejoin: miter; stroke-linecap: square"/>
</g>
<g id="patch_9">
<path d="M 47.880 26.280 
L 414.360 26.280 
" style="fill: none; stroke: #000000; stroke-width: 0.8; stroke-linejoin: miter; stroke-linecap: square"/>
</g>
<g id="text_20">
<g transform="matrix(0.09804 0.00000 0.00000 -0.10332 359.997 38.091)">
<defs>
<path id="DejaVuSans-Bold-49" d="M 588 4666 
L 1791 4666 
L 1791 0 
L 588 0 
L 588 4666 
z
" transform="scale(0.015625)"/>
<path id="DejaVuSans-Bold-6e" d="M 4056 2131 
L 4056 0 
L 2931 0 
L 2931 347 
L 2931 1631 
Q 2931 2084 2911 2256 
Q 2891 2428 2841 2509 
Q 2775 2619 2662 2680 
Q 2550 2741 2406 2741 
Q 2056 2741 1856 2470 
Q 1656 2200 1656 1722 
L 1656 0 
L 538 0 
L 538 3500 
L 1656 3500 
L 1656 2988 
Q 1909 3294 2193 3439 
Q 2478 3584 2822 3584 
Q 3428 3584 3742 3212 
Q 4056 2841 4056 2131 
z
" transform="scale(0.015625)"/>
<path id="DejaVuSans-Bold-74" d="M 1759 4494 
L 1759 3500 
L 2913 3500 
L 2913 2700 
L 1759 2700 
L 1759 1216 
Q 1759 972 1856 886 
Q 1953 800 2241 800 
L 2816 800 
L 2816 0 
L 1856 0 
Q 1194 0 917 276 
Q 641 553 641 1216 
L 641 2700 
L 84 2700 
L 84 3500 
L 641 3500 
L 641 4494 
L 1759 4494 
z
" transform="scale(0.015625)"/>
<path id="DejaVuSans-Bold-65" d="M 4031 1759 
L 4031 1441 
L 1416 1441 
Q 1456 1047 1700 850 
Q 1944 653 2381 653 
Q 2734 653 3104 758 
Q 3475 863 3866 1075 
L 3866 213 
Q 3469 63 3072 -14 
Q 2675 -91 2278 -91 
Q 1328 -91 801 392 
Q 275 875 275 1747 
Q 275 2603 792 3093 
Q 1309 3584 2216 3584 
Q 3041 3584 3536 3087 
Q 4031 2591 4031 1759 
z
M 2881 2131 
Q 2881 2450 2695 2645 
Q 2509 2841 2209 2841 
Q 1884 2841 1681 2658 
Q 1478 2475 1428 2131 
L 2881 2131 
z
" transform="scale(0.015625)"/>
<path id="DejaVuSans-Bold-73" d="M 3272 3391 
L 3272 2541 
Q 2913 2691 2578 2766 
Q 2244 2841 1947 2841 
Q 1628 2841 1473 2761 
Q 1319 2681 1319 2516 
Q 1319 2381 1436 2309 
Q 1553 2238 1856 2203 
L 2053 2175 
Q 2913 2066 3209 1816 
Q 3506 1566 3506 1031 
Q 3506 472 3093 190 
Q 2681 -91 1863 -91 
Q 1516 -91 1145 -36 
Q 775 19 384 128 
L 384 978 
Q 719 816 1070 734 
Q 1422 653 1784 653 
Q 2113 653 2278 743 
Q 2444 834 2444 1013 
Q 2444 1163 2330 1236 
Q 2216 1309 1875 1350 
L 1678 1375 
Q 931 1469 631 1722 
Q 331 1975 331 2491 
Q 331 3047 712 3315 
Q 1094 3584 1881 3584 
Q 2191 3584 2531 3537 
Q 2872 3491 3272 3391 
z
" transform="scale(0.015625)"/>
<path id="DejaVuSans-Bold-69" d="M 538 3500 
L 1656 3500 
L 1656 0 
L 538 0 
L 538 3500 
z
M 538 4863 
L 1656 4863 
L 1656 3950 
L 538 3950 
L 538 4863 
z
" transform="scale(0.015625)"/>
<path id="DejaVuSans-Bold-79" d="M 78 3500 
L 1197 3500 
L 2138 1125 
L 2938 3500 
L 4056 3500 
L 2584 -331 
Q 2363 -916 2067 -1148 
Q 1772 -1381 1288 -1381 
L 641 -1381 
L 641 -647 
L 991 -647 
Q 1275 -647 1404 -556 
Q 1534 -466 1606 -231 
L 1638 -134 
L 78 3500 
z
" transform="scale(0.015625)"/>
</defs>
<use href="#DejaVuSans-Bold-49"/>
<use href="#DejaVuSans-Bold-6e" transform="translate(37.207031 0)"/>
<use href="#DejaVuSans-Bold-74" transform="translate(108.398438 0)"/>
<use href="#DejaVuSans-Bold-65" transform="translate(156.201172 0)"/>
<use href="#DejaVuSans-Bold-6e" transform="translate(224.023438 0)"/>
<use href="#DejaVuSans-Bold-73" transform="translate(295.214844 0)"/>
<use href="#DejaVuSans-Bold-69" transform="translate(354.736328 0)"/>
<use href="#DejaVuSans-Bold-74" transform="translate(389.013672 0)"/>
<use href="#DejaVuSans-Bold-79" transform="translate(436.816406 0)"/>
</g>
</g>
<g id="line2d_73">
<path d="M 157.824 190.248 
L 166.986 190.248 
L 176.148 184.392 
L 185.31 184.392 
L 194.472 184.392 
L 203.634 184.392 
L 212.796 178.536 
L 221.958 172.68 
L 231.12 166.824 
" clip-path="url(#pd9d3201587)" style="fill: none; stroke: #252525; stroke-width: 2; stroke-linecap: square"/>
</g>
<g id="line2d_74">
<path d="M 212.796 166.824 
L 221.958 160.968 
L 231.12 163.896 
L 240.282 175.0224 
L 249.444 173.8512 
L 258.606 179.7072 
L 267.768 180.8784 
L 276.93 183.2208 
L 286.092 186.7344 
L 295.254 172.68 
L 304.416 187.9056 
L 313.578 191.4192 
" clip-path="url(#pd9d3201587)" style="fill: none; stroke: #cc4c02; stroke-width: 2; stroke-linecap: square"/>
</g>
<g id="line2d_75">
<path d="M 212.4 201.96 
L 212.4 26.28 
" clip-path="url(#pd9d3201587)" style="fill: none; stroke: #cc4c02; stroke-width: 1.5; stroke-linecap: square"/>
</g>
<g id="line2d_76">
<path d="M 212.796 166.824 
L 221.958 170.3376 
L 231.12 158.6256 
L 240.282 170.3376 
L 249.444 170.3376 
L 258.606 164.4816 
L 267.768 173.8512 
L 276.93 171.5088 
L 286.092 183.2208 
L 295.254 183.2208 
L 304.416 178.536 
L 313.578 182.0496 
L 322.74 180.8784 
L 331.902 173.8512 
L 341.064 171.5088 
L 350.226 176.1936 
L 359.388 171.5088 
L 368.55 167.9952 
L 377.712 158.6256 
L 386.874 178.536 
L 396.036 175.0224 
L 405.198 175.0224 
L 414.36 173.8512 
" clip-path="url(#pd9d3201587)" style="fill: none; stroke: #993404; stroke-width: 2; stroke-linecap: square"/>
</g>
<g id="line2d_77">
<path d="M 221.76 201.96 
L 221.76 26.28 
" clip-path="url(#pd9d3201587)" style="fill: none; stroke: #993404; stroke-width: 1.5; stroke-linecap: square"/>
</g>
<g id="legend_1">
<g id="line2d_78">
<path d="M 52.98 35.605 
L 61.225 35.605 
L 69.47 35.605 
" style="fill: none; stroke: #252525; stroke-width: 2.5; stroke-linecap: square"/>
</g>
<g id="text_21">
<g transform="matrix(0.08167 0.00000 0.00000 -0.08556 75.606 38.030)">
<defs>
<path id="DejaVuSans-42" d="M 1259 2228 
L 1259 519 
L 2272 519 
Q 2781 519 3026 730 
Q 3272 941 3272 1375 
Q 3272 1813 3026 2020 
Q 2781 2228 2272 2228 
L 1259 2228 
z
M 1259 4147 
L 1259 2741 
L 2194 2741 
Q 2656 2741 2882 2914 
Q 3109 3088 3109 3444 
Q 3109 3797 2882 3972 
Q 2656 4147 2194 4147 
L 1259 4147 
z
M 628 4666 
L 2241 4666 
Q 2963 4666 3353 4366 
Q 3744 4066 3744 3513 
Q 3744 3084 3544 2831 
Q 3344 2578 2956 2516 
Q 3422 2416 3680 2098 
Q 3938 1781 3938 1306 
Q 3938 681 3513 340 
Q 3088 0 2303 0 
L 628 0 
L 628 4666 
z
" transform="scale(0.015625)"/>
<path id="DejaVuSans-45" d="M 628 4666 
L 3578 4666 
L 3578 4134 
L 1259 4134 
L 1259 2753 
L 3481 2753 
L 3481 2222 
L 1259 2222 
L 1259 531 
L 3634 531 
L 3634 0 
L 628 0 
L 628 4666 
z
" transform="scale(0.015625)"/>
<path id="DejaVuSans-54" d="M -19 4666 
L 3928 4666 
L 3928 4134 
L 2272 4134 
L 2272 0 
L 1638 0 
L 1638 4134 
L -19 4134 
L -19 4666 
z
" transform="scale(0.015625)"/>
</defs>
<use href="#DejaVuSans-42"/>
<use href="#DejaVuSans-45" transform="translate(68.603516 0)"/>
<use href="#DejaVuSans-53" transform="translate(131.787109 0)"/>
<use href="#DejaVuSans-54" transform="translate(195.263672 0)"/>
</g>
</g>
<g id="line2d_79">
<path d="M 52.98 45.6875 
L 61.225 45.6875 
L 69.47 45.6875 
" style="fill: none; stroke: #993404; stroke-width: 2.5; stroke-linecap: square"/>
</g>
<g id="text_22">
<g transform="matrix(0.08321 0.00000 0.00000 -0.08500 75.599 48.111)">
<use href="#DejaVuSans-30"/>
<use href="#DejaVuSans-36" transform="translate(63.623047 0)"/>
<use href="#DejaVuSans-7a" transform="translate(127.246094 0)"/>
<use href="#DejaVuSans-20" transform="translate(179.736328 0)"/>
<use href="#DejaVuSans-30" transform="translate(211.523438 0)"/>
<use href="#DejaVuSans-37" transform="translate(275.146484 0)"/>
<use href="#DejaVuSans-20" transform="translate(338.769531 0)"/>
<use href="#DejaVuSans-46" transform="translate(370.556641 0)"/>
<use href="#DejaVuSans-65" transform="translate(422.576172 0)"/>
<use href="#DejaVuSans-62" transform="translate(484.099609 0)"/>
</g>
</g>
<g id="line2d_80">
<path d="M 52.98 55.77 
L 61.225 55.77 
L 69.47 55.77 
" style="fill: none; stroke: #cc4c02; stroke-width: 2.5; stroke-linecap: square"/>
</g>
<g id="text_23">
<g transform="matrix(0.08304 0.00000 0.00000 -0.08500 75.600 58.182)">
<use href="#DejaVuSans-30"/>
<use href="#DejaVuSans-30" transform="translate(63.623047 0)"/>
<use href="#DejaVuSans-7a" transform="translate(127.246094 0)"/>
<use href="#DejaVuSans-20" transform="translate(179.736328 0)"/>
<use href="#DejaVuSans-30" transform="translate(211.523438 0)"/>
<use href="#DejaVuSans-37" transform="translate(275.146484 0)"/>
<use href="#DejaVuSans-20" transform="translate(338.769531 0)"/>
<use href="#DejaVuSans-46" transform="translate(370.556641 0)"/>
<use href="#DejaVuSans-65" transform="translate(422.576172 0)"/>
<use href="#DejaVuSans-62" transform="translate(484.099609 0)"/>
</g>
</g>
<g id="line2d_81">
<path d="M 52.98 65.8525 
L 61.225 65.8525 
L 69.47 65.8525 
" style="fill: none; stroke: #777777; stroke-width: 2.5; stroke-linecap: square"/>
</g>
<g id="text_24">
<g transform="matrix(0.08117 0.00000 0.00000 -0.09079 76.308 68.658)">
<defs>
<path id="DejaVuSans-4a" d="M 628 4666 
L 1259 4666 
L 1259 325 
Q 1259 -519 939 -900 
Q 619 -1281 -91 -1281 
L -331 -1281 
L -331 -750 
L -134 -750 
Q 284 -750 456 -515 
Q 628 -281 628 325 
L 628 4666 
z
" transform="scale(0.015625)"/>
<path id="DejaVuSans-43" d="M 4122 4306 
L 4122 3641 
Q 3803 3938 3442 4084 
Q 3081 4231 2675 4231 
Q 1875 4231 1450 3742 
Q 1025 3253 1025 2328 
Q 1025 1406 1450 917 
Q 1875 428 2675 428 
Q 3081 428 3442 575 
Q 3803 722 4122 1019 
L 4122 359 
Q 3791 134 3420 21 
Q 3050 -91 2638 -91 
Q 1578 -91 968 557 
Q 359 1206 359 2328 
Q 359 3453 968 4101 
Q 1578 4750 2638 4750 
Q 3056 4750 3426 4639 
Q 3797 4528 4122 4306 
z
" transform="scale(0.015625)"/>
</defs>
<use href="#DejaVuSans-4a"/>
<use href="#DejaVuSans-54" transform="translate(29.492188 0)"/>
<use href="#DejaVuSans-57" transform="translate(90.576172 0)"/>
<use href="#DejaVuSans-43" transform="translate(189.453125 0)"/>
</g>
</g>
</g>
<g id="line2d_82">
<path d="M 231.12 166.824 
L 249.444 172.68 
L 267.768 178.536 
L 286.092 184.392 
" clip-path="url(#pd9d3201587)" style="fill: none; stroke: #777777; stroke-width: 2; stroke-linecap: square"/>
</g>
<g id="line2d_83">
<path d="M 230.4 201.96 
L 230.4 26.28 
" clip-path="url(#pd9d3201587)" style="fill: none; stroke: #777777; stroke-width: 1.5; stroke-linecap: square"/>
</g>
<g id="line2d_84">
<defs>
<path id="m52fd444e23" d="M 0 2.65 
C 0.702788 2.65 1.376887 2.370779 1.873833 1.873833 
C 2.370779 1.376887 2.65 0.702788 2.65 0 
C 2.65 -0.702788 2.370779 -1.376887 1.873833 -1.873833 
C 1.376887 -2.370779 0.702788 -2.65 0 -2.65 
C -0.702788 -2.65 -1.376887 -2.370779 -1.873833 -1.873833 
C -2.370779 -1.376887 -2.65 -0.702788 -2.65 0 
C -2.65 0.702788 -2.370779 1.376887 -1.873833 1.873833 
C -1.376887 2.370779 -0.702788 2.65 0 2.65 
z
" style="stroke: #cc4c02; stroke-width: 0.4"/>
</defs>
<g clip-path="url(#pd9d3201587)">
<use href="#m52fd444e23" x="212.796" y="166.824" style="fill: #cc4c02; stroke: #cc4c02; stroke-width: 0.4"/>
</g>
</g>
<g id="line2d_85">
<defs>
<path id="m0b1e01c222" d="M 0 2.65 
C 0.702788 2.65 1.376887 2.370779 1.873833 1.873833 
C 2.370779 1.376887 2.65 0.702788 2.65 0 
C 2.65 -0.702788 2.370779 -1.376887 1.873833 -1.873833 
C 1.376887 -2.370779 0.702788 -2.65 0 -2.65 
C -0.702788 -2.65 -1.376887 -2.370779 -1.873833 -1.873833 
C -2.370779 -1.376887 -2.65 -0.702788 -2.65 0 
C -2.65 0.702788 -2.370779 1.376887 -1.873833 1.873833 
C -1.376887 2.370779 -0.702788 2.65 0 2.65 
z
" style="stroke: #993404; stroke-width: 0.4"/>
</defs>
<g clip-path="url(#pd9d3201587)">
<use href="#m0b1e01c222" x="221.958" y="170.3376" style="fill: #993404; stroke: #993404; stroke-width: 0.4"/>
</g>
</g>
<g id="line2d_86">
<defs>
<path id="m88cc70218a" d="M 0 2.65 
C 0.702788 2.65 1.376887 2.370779 1.873833 1.873833 
C 2.370779 1.376887 2.65 0.702788 2.65 0 
C 2.65 -0.702788 2.370779 -1.376887 1.873833 -1.873833 
C 1.376887 -2.370779 0.702788 -2.65 0 -2.65 
C -0.702788 -2.65 -1.376887 -2.370779 -1.873833 -1.873833 
C -2.370779 -1.376887 -2.65 -0.702788 -2.65 0 
C -2.65 0.702788 -2.370779 1.376887 -1.873833 1.873833 
C -1.376887 2.370779 -0.702788 2.65 0 2.65 
z
" style="stroke: #777777; stroke-width: 0.4"/>
</defs>
<g clip-path="url(#pd9d3201587)">
<use href="#m88cc70218a" x="231.12" y="166.824" style="fill: #777777; stroke: #777777; stroke-width: 0.4"/>
</g>
</g>
</g>
<g id="axes_2">
<g id="patch_10">
<path d="M 476.28 201.96 
L 842.76 201.96 
L 842.76 26.28 
L 476.28 26.28 
z
" style="fill: #ffffff"/>
</g>
<g id="patch_11">
<path d="M 476.28 162.92 
L 842.76 162.92 
L 842.76 123.88 
L 476.28 123.88 
z
" clip-path="url(#pa40de9cebc)" style="fill: #cccccc; stroke: #cccccc; stroke-linejoin: miter"/>
</g>
<g id="patch_12">
<path d="M 476.28 84.84 
L 842.76 84.84 
L 842.76 45.8 
L 476.28 45.8 
z
" clip-path="url(#pa40de9cebc)" style="fill: #cccccc; stroke: #cccccc; stroke-linejoin: miter"/>
</g>
<g id="matplotlib.axis_3">
<g id="xtick_42">
<g id="line2d_87">
<g>
<use href="#me7126e2e17" x="494.280" y="201.960" style="stroke: #000000; stroke-width: 0.8"/>
</g>
</g>
<g id="text_25">
<g transform="matrix(0.08029 0.00000 0.00000 -0.08500 482.597 217.311)">
<use href="#DejaVuSans-30"/>
<use href="#DejaVuSans-33" transform="translate(63.623047 0)"/>
<use href="#DejaVuSans-46" transform="translate(127.246094 0)"/>
<use href="#DejaVuSans-65" transform="translate(179.265625 0)"/>
<use href="#DejaVuSans-62" transform="translate(240.789062 0)"/>
</g>
<g transform="matrix(0.07965 0.00000 0.00000 -0.08507 487.463 228.102)">
<use href="#DejaVuSans-30"/>
<use href="#DejaVuSans-30" transform="translate(63.623047 0)"/>
<use href="#DejaVuSans-7a" transform="translate(127.246094 0)"/>
</g>
</g>
</g>
<g id="xtick_43">
<g id="line2d_88">
<g>
<use href="#me7126e2e17" x="531.000" y="201.960" style="stroke: #000000; stroke-width: 0.8"/>
</g>
</g>
<g id="text_26">
<g transform="matrix(0.08060 0.00000 0.00000 -0.08500 519.316 217.319)">
<use href="#DejaVuSans-30"/>
<use href="#DejaVuSans-34" transform="translate(63.623047 0)"/>
<use href="#DejaVuSans-46" transform="translate(127.246094 0)"/>
<use href="#DejaVuSans-65" transform="translate(179.265625 0)"/>
<use href="#DejaVuSans-62" transform="translate(240.789062 0)"/>
</g>
<g transform="matrix(0.07965 0.00000 0.00000 -0.08507 524.183 228.102)">
<use href="#DejaVuSans-30"/>
<use href="#DejaVuSans-30" transform="translate(63.623047 0)"/>
<use href="#DejaVuSans-7a" transform="translate(127.246094 0)"/>
</g>
</g>
</g>
<g id="xtick_44">
<g id="line2d_89">
<g>
<use href="#me7126e2e17" x="567.720" y="201.960" style="stroke: #000000; stroke-width: 0.8"/>
</g>
</g>
<g id="text_27">
<g transform="matrix(0.08029 0.00000 0.00000 -0.08500 556.037 217.311)">
<use href="#DejaVuSans-30"/>
<use href="#DejaVuSans-35" transform="translate(63.623047 0)"/>
<use href="#DejaVuSans-46" transform="translate(127.246094 0)"/>
<use href="#DejaVuSans-65" transform="translate(179.265625 0)"/>
<use href="#DejaVuSans-62" transform="translate(240.789062 0)"/>
</g>
<g transform="matrix(0.07965 0.00000 0.00000 -0.08507 560.903 228.102)">
<use href="#DejaVuSans-30"/>
<use href="#DejaVuSans-30" transform="translate(63.623047 0)"/>
<use href="#DejaVuSans-7a" transform="translate(127.246094 0)"/>
</g>
</g>
</g>
<g id="xtick_45">
<g id="line2d_90">
<g>
<use href="#me7126e2e17" x="604.440" y="201.960" style="stroke: #000000; stroke-width: 0.8"/>
</g>
</g>
<g id="text_28">
<g transform="matrix(0.08060 0.00000 0.00000 -0.08500 592.756 217.319)">
<use href="#DejaVuSans-30"/>
<use href="#DejaVuSans-36" transform="translate(63.623047 0)"/>
<use href="#DejaVuSans-46" transform="translate(127.246094 0)"/>
<use href="#DejaVuSans-65" transform="translate(179.265625 0)"/>
<use href="#DejaVuSans-62" transform="translate(240.789062 0)"/>
</g>
<g transform="matrix(0.07965 0.00000 0.00000 -0.08507 597.623 228.102)">
<use href="#DejaVuSans-30"/>
<use href="#DejaVuSans-30" transform="translate(63.623047 0)"/>
<use href="#DejaVuSans-7a" transform="translate(127.246094 0)"/>
</g>
</g>
</g>
<g id="xtick_46">
<g id="line2d_91">
<g>
<use href="#me7126e2e17" x="641.160" y="201.960" style="stroke: #000000; stroke-width: 0.8"/>
</g>
</g>
<g id="text_29">
<g transform="matrix(0.08060 0.00000 0.00000 -0.08500 628.756 217.319)">
<use href="#DejaVuSans-30"/>
<use href="#DejaVuSans-37" transform="translate(63.623047 0)"/>
<use href="#DejaVuSans-46" transform="translate(127.246094 0)"/>
<use href="#DejaVuSans-65" transform="translate(179.265625 0)"/>
<use href="#DejaVuSans-62" transform="translate(240.789062 0)"/>
</g>
<g transform="matrix(0.07965 0.00000 0.00000 -0.08507 634.343 228.102)">
<use href="#DejaVuSans-30"/>
<use href="#DejaVuSans-30" transform="translate(63.623047 0)"/>
<use href="#DejaVuSans-7a" transform="translate(127.246094 0)"/>
</g>
</g>
</g>
<g id="xtick_47">
<g id="line2d_92">
<g>
<use href="#me7126e2e17" x="677.880" y="201.960" style="stroke: #000000; stroke-width: 0.8"/>
</g>
</g>
<g id="text_30">
<g transform="matrix(0.08029 0.00000 0.00000 -0.08500 665.477 217.311)">
<use href="#DejaVuSans-30"/>
<use href="#DejaVuSans-38" transform="translate(63.623047 0)"/>
<use href="#DejaVuSans-46" transform="translate(127.246094 0)"/>
<use href="#DejaVuSans-65" transform="translate(179.265625 0)"/>
<use href="#DejaVuSans-62" transform="translate(240.789062 0)"/>
</g>
<g transform="matrix(0.07965 0.00000 0.00000 -0.08507 671.063 228.102)">
<use href="#DejaVuSans-30"/>
<use href="#DejaVuSans-30" transform="translate(63.623047 0)"/>
<use href="#DejaVuSans-7a" transform="translate(127.246094 0)"/>
</g>
</g>
</g>
<g id="xtick_48">
<g id="line2d_93">
<g>
<use href="#me7126e2e17" x="714.600" y="201.960" style="stroke: #000000; stroke-width: 0.8"/>
</g>
</g>
<g id="text_31">
<g transform="matrix(0.08060 0.00000 0.00000 -0.08500 702.196 217.319)">
<use href="#DejaVuSans-30"/>
<use href="#DejaVuSans-39" transform="translate(63.623047 0)"/>
<use href="#DejaVuSans-46" transform="translate(127.246094 0)"/>
<use href="#DejaVuSans-65" transform="translate(179.265625 0)"/>
<use href="#DejaVuSans-62" transform="translate(240.789062 0)"/>
</g>
<g transform="matrix(0.07965 0.00000 0.00000 -0.08507 707.783 228.102)">
<use href="#DejaVuSans-30"/>
<use href="#DejaVuSans-30" transform="translate(63.623047 0)"/>
<use href="#DejaVuSans-7a" transform="translate(127.246094 0)"/>
</g>
</g>
</g>
<g id="xtick_49">
<g id="line2d_94">
<g>
<use href="#me7126e2e17" x="751.320" y="201.960" style="stroke: #000000; stroke-width: 0.8"/>
</g>
</g>
<g id="text_32">
<g transform="matrix(0.08001 0.00000 0.00000 -0.08500 739.095 217.319)">
<use href="#DejaVuSans-31"/>
<use href="#DejaVuSans-30" transform="translate(63.623047 0)"/>
<use href="#DejaVuSans-46" transform="translate(127.246094 0)"/>
<use href="#DejaVuSans-65" transform="translate(179.265625 0)"/>
<use href="#DejaVuSans-62" transform="translate(240.789062 0)"/>
</g>
<g transform="matrix(0.07965 0.00000 0.00000 -0.08507 744.503 228.102)">
<use href="#DejaVuSans-30"/>
<use href="#DejaVuSans-30" transform="translate(63.623047 0)"/>
<use href="#DejaVuSans-7a" transform="translate(127.246094 0)"/>
</g>
</g>
</g>
<g id="xtick_50">
<g id="line2d_95">
<g>
<use href="#me7126e2e17" x="788.040" y="201.960" style="stroke: #000000; stroke-width: 0.8"/>
</g>
</g>
<g id="text_33">
<g transform="matrix(0.08031 0.00000 0.00000 -0.08500 775.812 217.319)">
<use href="#DejaVuSans-31"/>
<use href="#DejaVuSans-31" transform="translate(63.623047 0)"/>
<use href="#DejaVuSans-46" transform="translate(127.246094 0)"/>
<use href="#DejaVuSans-65" transform="translate(179.265625 0)"/>
<use href="#DejaVuSans-62" transform="translate(240.789062 0)"/>
</g>
<g transform="matrix(0.07965 0.00000 0.00000 -0.08507 780.503 228.102)">
<use href="#DejaVuSans-30"/>
<use href="#DejaVuSans-30" transform="translate(63.623047 0)"/>
<use href="#DejaVuSans-7a" transform="translate(127.246094 0)"/>
</g>
</g>
</g>
<g id="xtick_51">
<g id="line2d_96">
<g>
<use href="#me7126e2e17" x="824.760" y="201.960" style="stroke: #000000; stroke-width: 0.8"/>
</g>
</g>
<g id="text_34">
<g transform="matrix(0.08031 0.00000 0.00000 -0.08500 812.532 217.319)">
<use href="#DejaVuSans-31"/>
<use href="#DejaVuSans-32" transform="translate(63.623047 0)"/>
<use href="#DejaVuSans-46" transform="translate(127.246094 0)"/>
<use href="#DejaVuSans-65" transform="translate(179.265625 0)"/>
<use href="#DejaVuSans-62" transform="translate(240.789062 0)"/>
</g>
<g transform="matrix(0.07965 0.00000 0.00000 -0.08507 817.223 228.102)">
<use href="#DejaVuSans-30"/>
<use href="#DejaVuSans-30" transform="translate(63.623047 0)"/>
<use href="#DejaVuSans-7a" transform="translate(127.246094 0)"/>
</g>
</g>
</g>
<g id="xtick_52">
<g id="line2d_97">
<g>
<use href="#me60ad57aef" x="476.280" y="201.960" style="stroke: #000000; stroke-width: 0.6"/>
</g>
</g>
</g>
<g id="xtick_53">
<g id="line2d_98">
<g>
<use href="#me60ad57aef" x="485.640" y="201.960" style="stroke: #000000; stroke-width: 0.6"/>
</g>
</g>
</g>
<g id="xtick_54">
<g id="line2d_99">
<g>
<use href="#me60ad57aef" x="503.640" y="201.960" style="stroke: #000000; stroke-width: 0.6"/>
</g>
</g>
</g>
<g id="xtick_55">
<g id="line2d_100">
<g>
<use href="#me60ad57aef" x="513.000" y="201.960" style="stroke: #000000; stroke-width: 0.6"/>
</g>
</g>
</g>
<g id="xtick_56">
<g id="line2d_101">
<g>
<use href="#me60ad57aef" x="522.360" y="201.960" style="stroke: #000000; stroke-width: 0.6"/>
</g>
</g>
</g>
<g id="xtick_57">
<g id="line2d_102">
<g>
<use href="#me60ad57aef" x="540.360" y="201.960" style="stroke: #000000; stroke-width: 0.6"/>
</g>
</g>
</g>
<g id="xtick_58">
<g id="line2d_103">
<g>
<use href="#me60ad57aef" x="549.720" y="201.960" style="stroke: #000000; stroke-width: 0.6"/>
</g>
</g>
</g>
<g id="xtick_59">
<g id="line2d_104">
<g>
<use href="#me60ad57aef" x="559.080" y="201.960" style="stroke: #000000; stroke-width: 0.6"/>
</g>
</g>
</g>
<g id="xtick_60">
<g id="line2d_105">
<g>
<use href="#me60ad57aef" x="577.080" y="201.960" style="stroke: #000000; stroke-width: 0.6"/>
</g>
</g>
</g>
<g id="xtick_61">
<g id="line2d_106">
<g>
<use href="#me60ad57aef" x="586.440" y="201.960" style="stroke: #000000; stroke-width: 0.6"/>
</g>
</g>
</g>
<g id="xtick_62">
<g id="line2d_107">
<g>
<use href="#me60ad57aef" x="595.080" y="201.960" style="stroke: #000000; stroke-width: 0.6"/>
</g>
</g>
</g>
<g id="xtick_63">
<g id="line2d_108">
<g>
<use href="#me60ad57aef" x="613.800" y="201.960" style="stroke: #000000; stroke-width: 0.6"/>
</g>
</g>
</g>
<g id="xtick_64">
<g id="line2d_109">
<g>
<use href="#me60ad57aef" x="623.160" y="201.960" style="stroke: #000000; stroke-width: 0.6"/>
</g>
</g>
</g>
<g id="xtick_65">
<g id="line2d_110">
<g>
<use href="#me60ad57aef" x="631.800" y="201.960" style="stroke: #000000; stroke-width: 0.6"/>
</g>
</g>
</g>
<g id="xtick_66">
<g id="line2d_111">
<g>
<use href="#me60ad57aef" x="650.520" y="201.960" style="stroke: #000000; stroke-width: 0.6"/>
</g>
</g>
</g>
<g id="xtick_67">
<g id="line2d_112">
<g>
<use href="#me60ad57aef" x="659.880" y="201.960" style="stroke: #000000; stroke-width: 0.6"/>
</g>
</g>
</g>
<g id="xtick_68">
<g id="line2d_113">
<g>
<use href="#me60ad57aef" x="668.520" y="201.960" style="stroke: #000000; stroke-width: 0.6"/>
</g>
</g>
</g>
<g id="xtick_69">
<g id="line2d_114">
<g>
<use href="#me60ad57aef" x="687.240" y="201.960" style="stroke: #000000; stroke-width: 0.6"/>
</g>
</g>
</g>
<g id="xtick_70">
<g id="line2d_115">
<g>
<use href="#me60ad57aef" x="695.880" y="201.960" style="stroke: #000000; stroke-width: 0.6"/>
</g>
</g>
</g>
<g id="xtick_71">
<g id="line2d_116">
<g>
<use href="#me60ad57aef" x="705.240" y="201.960" style="stroke: #000000; stroke-width: 0.6"/>
</g>
</g>
</g>
<g id="xtick_72">
<g id="line2d_117">
<g>
<use href="#me60ad57aef" x="723.960" y="201.960" style="stroke: #000000; stroke-width: 0.6"/>
</g>
</g>
</g>
<g id="xtick_73">
<g id="line2d_118">
<g>
<use href="#me60ad57aef" x="732.600" y="201.960" style="stroke: #000000; stroke-width: 0.6"/>
</g>
</g>
</g>
<g id="xtick_74">
<g id="line2d_119">
<g>
<use href="#me60ad57aef" x="741.960" y="201.960" style="stroke: #000000; stroke-width: 0.6"/>
</g>
</g>
</g>
<g id="xtick_75">
<g id="line2d_120">
<g>
<use href="#me60ad57aef" x="759.960" y="201.960" style="stroke: #000000; stroke-width: 0.6"/>
</g>
</g>
</g>
<g id="xtick_76">
<g id="line2d_121">
<g>
<use href="#me60ad57aef" x="769.320" y="201.960" style="stroke: #000000; stroke-width: 0.6"/>
</g>
</g>
</g>
<g id="xtick_77">
<g id="line2d_122">
<g>
<use href="#me60ad57aef" x="778.680" y="201.960" style="stroke: #000000; stroke-width: 0.6"/>
</g>
</g>
</g>
<g id="xtick_78">
<g id="line2d_123">
<g>
<use href="#me60ad57aef" x="796.680" y="201.960" style="stroke: #000000; stroke-width: 0.6"/>
</g>
</g>
</g>
<g id="xtick_79">
<g id="line2d_124">
<g>
<use href="#me60ad57aef" x="806.040" y="201.960" style="stroke: #000000; stroke-width: 0.6"/>
</g>
</g>
</g>
<g id="xtick_80">
<g id="line2d_125">
<g>
<use href="#me60ad57aef" x="815.400" y="201.960" style="stroke: #000000; stroke-width: 0.6"/>
</g>
</g>
</g>
<g id="xtick_81">
<g id="line2d_126">
<g>
<use href="#me60ad57aef" x="833.400" y="201.960" style="stroke: #000000; stroke-width: 0.6"/>
</g>
</g>
</g>
<g id="xtick_82">
<g id="line2d_127">
<g>
<use href="#me60ad57aef" x="842.760" y="201.960" style="stroke: #000000; stroke-width: 0.6"/>
</g>
</g>
</g>
</g>
<g id="matplotlib.axis_4">
<g id="ytick_32">
<g id="line2d_128">
<g>
<use href="#med81453d1f" x="476.280" y="201.960" style="stroke: #000000; stroke-width: 0.8"/>
</g>
</g>
<g id="text_35">
<g transform="matrix(0.08366 0.00000 0.00000 -0.08496 462.956 205.054)">
<use href="#DejaVuSans-30"/>
</g>
</g>
</g>
<g id="ytick_33">
<g id="line2d_129">
<g>
<use href="#med81453d1f" x="476.280" y="163.080" style="stroke: #000000; stroke-width: 0.8"/>
</g>
</g>
<g id="text_36">
<g transform="matrix(0.07629 0.00000 0.00000 -0.08556 457.441 166.198)">
<use href="#DejaVuSans-31"/>
<use href="#DejaVuSans-30" transform="translate(63.623047 0)"/>
</g>
</g>
</g>
<g id="ytick_34">
<g id="line2d_130">
<g>
<use href="#med81453d1f" x="476.280" y="124.200" style="stroke: #000000; stroke-width: 0.8"/>
</g>
</g>
<g id="text_37">
<g transform="matrix(0.07777 0.00000 0.00000 -0.08522 457.983 127.319)">
<use href="#DejaVuSans-32"/>
<use href="#DejaVuSans-30" transform="translate(63.623047 0)"/>
</g>
</g>
</g>
<g id="ytick_35">
<g id="line2d_131">
<g>
<use href="#med81453d1f" x="476.280" y="84.600" style="stroke: #000000; stroke-width: 0.8"/>
</g>
</g>
<g id="text_38">
<g transform="matrix(0.07707 0.00000 0.00000 -0.08466 457.979 87.680)">
<use href="#DejaVuSans-33"/>
<use href="#DejaVuSans-30" transform="translate(63.623047 0)"/>
</g>
</g>
</g>
<g id="ytick_36">
<g id="line2d_132">
<g>
<use href="#med81453d1f" x="476.280" y="45.720" style="stroke: #000000; stroke-width: 0.8"/>
</g>
</g>
<g id="text_39">
<g transform="matrix(0.07772 0.00000 0.00000 -0.08496 457.269 48.808)">
<use href="#DejaVuSans-34"/>
<use href="#DejaVuSans-30" transform="translate(63.623047 0)"/>
</g>
</g>
</g>
<g id="ytick_37">
<g id="line2d_133">
<g>
<use href="#mf9979f3be9" x="476.280" y="191.880" style="stroke: #000000; stroke-width: 0.6"/>
</g>
</g>
</g>
<g id="ytick_38">
<g id="line2d_134">
<g>
<use href="#mf9979f3be9" x="476.280" y="182.520" style="stroke: #000000; stroke-width: 0.6"/>
</g>
</g>
</g>
<g id="ytick_39">
<g id="line2d_135">
<g>
<use href="#mf9979f3be9" x="476.280" y="172.440" style="stroke: #000000; stroke-width: 0.6"/>
</g>
</g>
</g>
<g id="ytick_40">
<g id="line2d_136">
<g>
<use href="#mf9979f3be9" x="476.280" y="153.000" style="stroke: #000000; stroke-width: 0.6"/>
</g>
</g>
</g>
<g id="ytick_41">
<g id="line2d_137">
<g>
<use href="#mf9979f3be9" x="476.280" y="143.640" style="stroke: #000000; stroke-width: 0.6"/>
</g>
</g>
</g>
<g id="ytick_42">
<g id="line2d_138">
<g>
<use href="#mf9979f3be9" x="476.280" y="133.560" style="stroke: #000000; stroke-width: 0.6"/>
</g>
</g>
</g>
<g id="ytick_43">
<g id="line2d_139">
<g>
<use href="#mf9979f3be9" x="476.280" y="114.120" style="stroke: #000000; stroke-width: 0.6"/>
</g>
</g>
</g>
<g id="ytick_44">
<g id="line2d_140">
<g>
<use href="#mf9979f3be9" x="476.280" y="104.040" style="stroke: #000000; stroke-width: 0.6"/>
</g>
</g>
</g>
<g id="ytick_45">
<g id="line2d_141">
<g>
<use href="#mf9979f3be9" x="476.280" y="94.680" style="stroke: #000000; stroke-width: 0.6"/>
</g>
</g>
</g>
<g id="ytick_46">
<g id="line2d_142">
<g>
<use href="#mf9979f3be9" x="476.280" y="75.240" style="stroke: #000000; stroke-width: 0.6"/>
</g>
</g>
</g>
<g id="ytick_47">
<g id="line2d_143">
<g>
<use href="#mf9979f3be9" x="476.280" y="65.160" style="stroke: #000000; stroke-width: 0.6"/>
</g>
</g>
</g>
<g id="ytick_48">
<g id="line2d_144">
<g>
<use href="#mf9979f3be9" x="476.280" y="55.800" style="stroke: #000000; stroke-width: 0.6"/>
</g>
</g>
</g>
<g id="ytick_49">
<g id="line2d_145">
<g>
<use href="#mf9979f3be9" x="476.280" y="36.360" style="stroke: #000000; stroke-width: 0.6"/>
</g>
</g>
</g>
<g id="ytick_50">
<g id="line2d_146">
<g>
<use href="#mf9979f3be9" x="476.280" y="26.280" style="stroke: #000000; stroke-width: 0.6"/>
</g>
</g>
</g>
<g id="text_40">
<g transform="matrix(0.00000 -0.09972 -0.09984 -0.00000 447.509 172.088)">
<defs>
<path id="DejaVuSans-2d" d="M 313 2009 
L 1997 2009 
L 1997 1497 
L 313 1497 
L 313 2009 
z
" transform="scale(0.015625)"/>
<path id="DejaVuSans-68" d="M 3513 2113 
L 3513 0 
L 2938 0 
L 2938 2094 
Q 2938 2591 2744 2837 
Q 2550 3084 2163 3084 
Q 1697 3084 1428 2787 
Q 1159 2491 1159 1978 
L 1159 0 
L 581 0 
L 581 4863 
L 1159 4863 
L 1159 2956 
Q 1366 3272 1645 3428 
Q 1925 3584 2291 3584 
Q 2894 3584 3203 3211 
Q 3513 2838 3513 2113 
z
" transform="scale(0.015625)"/>
<path id="DejaVuSans-50" d="M 1259 4147 
L 1259 2394 
L 2053 2394 
Q 2494 2394 2734 2622 
Q 2975 2850 2975 3272 
Q 2975 3691 2734 3919 
Q 2494 4147 2053 4147 
L 1259 4147 
z
M 628 4666 
L 2053 4666 
Q 2838 4666 3239 4311 
Q 3641 3956 3641 3272 
Q 3641 2581 3239 2228 
Q 2838 1875 2053 1875 
L 1259 1875 
L 1259 0 
L 628 0 
L 628 4666 
z
" transform="scale(0.015625)"/>
<path id="DejaVuSans-72" d="M 2631 2963 
Q 2534 3019 2420 3045 
Q 2306 3072 2169 3072 
Q 1681 3072 1420 2755 
Q 1159 2438 1159 1844 
L 1159 0 
L 581 0 
L 581 3500 
L 1159 3500 
L 1159 2956 
Q 1341 3275 1631 3429 
Q 1922 3584 2338 3584 
Q 2397 3584 2469 3576 
Q 2541 3569 2628 3553 
L 2631 2963 
z
" transform="scale(0.015625)"/>
</defs>
<use href="#DejaVuSans-32"/>
<use href="#DejaVuSans-30" transform="translate(63.623047 0)"/>
<use href="#DejaVuSans-30" transform="translate(127.246094 0)"/>
<use href="#DejaVuSans-2d" transform="translate(190.869141 0)"/>
<use href="#DejaVuSans-38" transform="translate(226.953125 0)"/>
<use href="#DejaVuSans-35" transform="translate(290.576172 0)"/>
<use href="#DejaVuSans-30" transform="translate(354.199219 0)"/>
<use href="#DejaVuSans-20" transform="translate(417.822266 0)"/>
<use href="#DejaVuSans-68" transform="translate(449.609375 0)"/>
<use href="#DejaVuSans-50" transform="translate(512.988281 0)"/>
<use href="#DejaVuSans-61" transform="translate(568.791016 0)"/>
<use href="#DejaVuSans-20" transform="translate(630.070312 0)"/>
<use href="#DejaVuSans-53" transform="translate(661.857422 0)"/>
<use href="#DejaVuSans-68" transform="translate(725.333984 0)"/>
<use href="#DejaVuSans-65" transform="translate(788.712891 0)"/>
<use href="#DejaVuSans-61" transform="translate(850.236328 0)"/>
<use href="#DejaVuSans-72" transform="translate(911.515625 0)"/>
<use href="#DejaVuSans-20" transform="translate(952.628906 0)"/>
<use href="#DejaVuSans-28" transform="translate(984.416016 0)"/>
<use href="#DejaVuSans-6b" transform="translate(1023.429688 0)"/>
<use href="#DejaVuSans-74" transform="translate(1081.339844 0)"/>
<use href="#DejaVuSans-29" transform="translate(1120.548828 0)"/>
</g>
</g>
</g>
<g id="patch_13">
<path d="M 476.280 201.960 
L 476.280 26.280 
" style="fill: none; stroke: #000000; stroke-width: 0.8; stroke-linejoin: miter; stroke-linecap: square"/>
</g>
<g id="patch_14">
<path d="M 842.760 201.960 
L 842.760 26.280 
" style="fill: none; stroke: #000000; stroke-width: 0.8; stroke-linejoin: miter; stroke-linecap: square"/>
</g>
<g id="patch_15">
<path d="M 476.280 201.960 
L 842.760 201.960 
" style="fill: none; stroke: #000000; stroke-width: 0.8; stroke-linejoin: miter; stroke-linecap: square"/>
</g>
<g id="patch_16">
<path d="M 476.280 26.280 
L 842.760 26.280 
" style="fill: none; stroke: #000000; stroke-width: 0.8; stroke-linejoin: miter; stroke-linecap: square"/>
</g>
<g id="text_41">
<g transform="matrix(0.10037 0.00000 0.00000 -0.10332 737.976 38.091)">
<defs>
<path id="DejaVuSans-Bold-44" d="M 1791 3756 
L 1791 909 
L 2222 909 
Q 2959 909 3348 1275 
Q 3738 1641 3738 2338 
Q 3738 3031 3350 3393 
Q 2963 3756 2222 3756 
L 1791 3756 
z
M 588 4666 
L 1856 4666 
Q 2919 4666 3439 4514 
Q 3959 4363 4331 4000 
Q 4659 3684 4818 3271 
Q 4978 2859 4978 2338 
Q 4978 1809 4818 1395 
Q 4659 981 4331 666 
Q 3956 303 3431 151 
Q 2906 0 1856 0 
L 588 0 
L 588 4666 
z
" transform="scale(0.015625)"/>
<path id="DejaVuSans-Bold-70" d="M 1656 506 
L 1656 -1331 
L 538 -1331 
L 538 3500 
L 1656 3500 
L 1656 2988 
Q 1888 3294 2169 3439 
Q 2450 3584 2816 3584 
Q 3463 3584 3878 3070 
Q 4294 2556 4294 1747 
Q 4294 938 3878 423 
Q 3463 -91 2816 -91 
Q 2450 -91 2169 54 
Q 1888 200 1656 506 
z
M 2400 2772 
Q 2041 2772 1848 2508 
Q 1656 2244 1656 1747 
Q 1656 1250 1848 986 
Q 2041 722 2400 722 
Q 2759 722 2948 984 
Q 3138 1247 3138 1747 
Q 3138 2247 2948 2509 
Q 2759 2772 2400 2772 
z
" transform="scale(0.015625)"/>
<path id="DejaVuSans-Bold-2d" d="M 347 2297 
L 2309 2297 
L 2309 1388 
L 347 1388 
L 347 2297 
z
" transform="scale(0.015625)"/>
<path id="DejaVuSans-Bold-4c" d="M 588 4666 
L 1791 4666 
L 1791 909 
L 3903 909 
L 3903 0 
L 588 0 
L 588 4666 
z
" transform="scale(0.015625)"/>
<path id="DejaVuSans-Bold-61" d="M 2106 1575 
Q 1756 1575 1579 1456 
Q 1403 1338 1403 1106 
Q 1403 894 1545 773 
Q 1688 653 1941 653 
Q 2256 653 2472 879 
Q 2688 1106 2688 1447 
L 2688 1575 
L 2106 1575 
z
M 3816 1997 
L 3816 0 
L 2688 0 
L 2688 519 
Q 2463 200 2181 54 
Q 1900 -91 1497 -91 
Q 953 -91 614 226 
Q 275 544 275 1050 
Q 275 1666 698 1953 
Q 1122 2241 2028 2241 
L 2688 2241 
L 2688 2328 
Q 2688 2594 2478 2717 
Q 2269 2841 1825 2841 
Q 1466 2841 1156 2769 
Q 847 2697 581 2553 
L 581 3406 
Q 941 3494 1303 3539 
Q 1666 3584 2028 3584 
Q 2975 3584 3395 3211 
Q 3816 2838 3816 1997 
z
" transform="scale(0.015625)"/>
<path id="DejaVuSans-Bold-72" d="M 3138 2547 
Q 2991 2616 2845 2648 
Q 2700 2681 2553 2681 
Q 2122 2681 1889 2404 
Q 1656 2128 1656 1613 
L 1656 0 
L 538 0 
L 538 3500 
L 1656 3500 
L 1656 2925 
Q 1872 3269 2151 3426 
Q 2431 3584 2822 3584 
Q 2878 3584 2943 3579 
Q 3009 3575 3134 3559 
L 3138 2547 
z
" transform="scale(0.015625)"/>
<path id="DejaVuSans-Bold-20" transform="scale(0.015625)"/>
<path id="DejaVuSans-Bold-53" d="M 3834 4519 
L 3834 3531 
Q 3450 3703 3084 3790 
Q 2719 3878 2394 3878 
Q 1963 3878 1756 3759 
Q 1550 3641 1550 3391 
Q 1550 3203 1689 3098 
Q 1828 2994 2194 2919 
L 2706 2816 
Q 3484 2659 3812 2340 
Q 4141 2022 4141 1434 
Q 4141 663 3683 286 
Q 3225 -91 2284 -91 
Q 1841 -91 1394 -6 
Q 947 78 500 244 
L 500 1259 
Q 947 1022 1364 901 
Q 1781 781 2169 781 
Q 2563 781 2772 912 
Q 2981 1044 2981 1288 
Q 2981 1506 2839 1625 
Q 2697 1744 2272 1838 
L 1806 1941 
Q 1106 2091 782 2419 
Q 459 2747 459 3303 
Q 459 4000 909 4375 
Q 1359 4750 2203 4750 
Q 2588 4750 2994 4692 
Q 3400 4634 3834 4519 
z
" transform="scale(0.015625)"/>
<path id="DejaVuSans-Bold-68" d="M 4056 2131 
L 4056 0 
L 2931 0 
L 2931 347 
L 2931 1625 
Q 2931 2084 2911 2256 
Q 2891 2428 2841 2509 
Q 2775 2619 2662 2680 
Q 2550 2741 2406 2741 
Q 2056 2741 1856 2470 
Q 1656 2200 1656 1722 
L 1656 0 
L 538 0 
L 538 4863 
L 1656 4863 
L 1656 2988 
Q 1909 3294 2193 3439 
Q 2478 3584 2822 3584 
Q 3428 3584 3742 3212 
Q 4056 2841 4056 2131 
z
" transform="scale(0.015625)"/>
</defs>
<use href="#DejaVuSans-Bold-44"/>
<use href="#DejaVuSans-Bold-65" transform="translate(83.007812 0)"/>
<use href="#DejaVuSans-Bold-65" transform="translate(150.830078 0)"/>
<use href="#DejaVuSans-Bold-70" transform="translate(218.652344 0)"/>
<use href="#DejaVuSans-Bold-2d" transform="translate(290.234375 0)"/>
<use href="#DejaVuSans-Bold-4c" transform="translate(331.738281 0)"/>
<use href="#DejaVuSans-Bold-61" transform="translate(395.458984 0)"/>
<use href="#DejaVuSans-Bold-79" transform="translate(459.814453 0)"/>
<use href="#DejaVuSans-Bold-65" transform="translate(525 0)"/>
<use href="#DejaVuSans-Bold-72" transform="translate(592.822266 0)"/>
<use href="#DejaVuSans-Bold-20" transform="translate(642.138672 0)"/>
<use href="#DejaVuSans-Bold-53" transform="translate(676.953125 0)"/>
<use href="#DejaVuSans-Bold-68" transform="translate(748.974609 0)"/>
<use href="#DejaVuSans-Bold-65" transform="translate(820.166016 0)"/>
<use href="#DejaVuSans-Bold-61" transform="translate(887.988281 0)"/>
<use href="#DejaVuSans-Bold-72" transform="translate(955.46875 0)"/>
</g>
</g>
<g id="line2d_147">
<path d="M 641.196 112.168 
L 650.358 135.592 
L 659.52 145.352 
L 668.682 162.92 
L 677.844 155.112 
L 687.006 155.112 
L 696.168 159.016 
L 705.33 155.112 
L 714.492 131.688 
L 723.654 114.12 
L 732.816 96.552 
L 741.978 88.744 
" clip-path="url(#pa40de9cebc)" style="fill: none; stroke: #cc4c02; stroke-width: 2; stroke-linecap: square"/>
</g>
<g id="line2d_148">
<path d="M 640.8 201.96 
L 640.8 26.28 
" clip-path="url(#pa40de9cebc)" style="fill: none; stroke: #cc4c02; stroke-width: 1.5; stroke-linecap: square"/>
</g>
<g id="line2d_149">
<path d="M 641.196 112.168 
L 650.358 131.688 
L 659.52 147.304 
L 668.682 143.4 
L 677.844 159.016 
L 687.006 162.92 
L 696.168 155.112 
L 705.33 155.112 
L 714.492 131.688 
L 723.654 116.072 
L 732.816 100.456 
L 741.978 96.552 
L 751.14 92.648 
L 760.302 84.84 
L 769.464 84.84 
L 778.626 104.36 
L 787.788 104.36 
L 796.95 96.552 
L 806.112 104.36 
L 815.274 112.168 
L 824.436 123.88 
L 833.598 155.112 
L 842.76 174.632 
" clip-path="url(#pa40de9cebc)" style="fill: none; stroke: #993404; stroke-width: 2; stroke-linecap: square"/>
</g>
<g id="line2d_150">
<path d="M 650.16 201.96 
L 650.16 26.28 
" clip-path="url(#pa40de9cebc)" style="fill: none; stroke: #993404; stroke-width: 1.5; stroke-linecap: square"/>
</g>
<g id="legend_2">
<g id="line2d_151">
<path d="M 481.38 35.605 
L 489.625 35.605 
L 497.87 35.605 
" style="fill: none; stroke: #993404; stroke-width: 2.5; stroke-linecap: square"/>
</g>
<g id="text_42">
<g transform="matrix(0.08321 0.00000 0.00000 -0.08500 504.719 38.031)">
<use href="#DejaVuSans-30"/>
<use href="#DejaVuSans-36" transform="translate(63.623047 0)"/>
<use href="#DejaVuSans-7a" transform="translate(127.246094 0)"/>
<use href="#DejaVuSans-20" transform="translate(179.736328 0)"/>
<use href="#DejaVuSans-30" transform="translate(211.523438 0)"/>
<use href="#DejaVuSans-37" transform="translate(275.146484 0)"/>
<use href="#DejaVuSans-20" transform="translate(338.769531 0)"/>
<use href="#DejaVuSans-46" transform="translate(370.556641 0)"/>
<use href="#DejaVuSans-65" transform="translate(422.576172 0)"/>
<use href="#DejaVuSans-62" transform="translate(484.099609 0)"/>
</g>
</g>
<g id="line2d_152">
<path d="M 481.38 45.6875 
L 489.625 45.6875 
L 497.87 45.6875 
" style="fill: none; stroke: #cc4c02; stroke-width: 2.5; stroke-linecap: square"/>
</g>
<g id="text_43">
<g transform="matrix(0.08304 0.00000 0.00000 -0.08500 504.720 48.102)">
<use href="#DejaVuSans-30"/>
<use href="#DejaVuSans-30" transform="translate(63.623047 0)"/>
<use href="#DejaVuSans-7a" transform="translate(127.246094 0)"/>
<use href="#DejaVuSans-20" transform="translate(179.736328 0)"/>
<use href="#DejaVuSans-30" transform="translate(211.523438 0)"/>
<use href="#DejaVuSans-37" transform="translate(275.146484 0)"/>
<use href="#DejaVuSans-20" transform="translate(338.769531 0)"/>
<use href="#DejaVuSans-46" transform="translate(370.556641 0)"/>
<use href="#DejaVuSans-65" transform="translate(422.576172 0)"/>
<use href="#DejaVuSans-62" transform="translate(484.099609 0)"/>
</g>
</g>
</g>
<g id="line2d_153">
<g clip-path="url(#pa40de9cebc)">
<use href="#m52fd444e23" x="641.196" y="112.168" style="fill: #cc4c02; stroke: #cc4c02; stroke-width: 0.4"/>
</g>
</g>
<g id="line2d_154">
<g clip-path="url(#pa40de9cebc)">
<use href="#m0b1e01c222" x="650.358" y="131.688" style="fill: #993404; stroke: #993404; stroke-width: 0.4"/>
</g>
</g>
</g>
<g id="axes_3">
<g id="patch_17">
<path d="M 476.28 408.672 
L 842.76 408.672 
L 842.76 233.2944 
L 476.28 233.2944 
z
" style="fill: #ffffff"/>
</g>
<g id="patch_18">
<path d="M 476.28 375.266743 
L 842.76 375.266743 
L 842.76 341.861486 
L 476.28 341.861486 
z
" clip-path="url(#pa3eb995bca)" style="fill: #cccccc; stroke: #cccccc; stroke-linejoin: miter"/>
</g>
<g id="patch_19">
<path d="M 476.28 308.456229 
L 842.76 308.456229 
L 842.76 275.050971 
L 476.28 275.050971 
z
" clip-path="url(#pa3eb995bca)" style="fill: #cccccc; stroke: #cccccc; stroke-linejoin: miter"/>
</g>
<g id="patch_20">
<path d="M 476.28 241.645714 
L 842.76 241.645714 
L 842.76 208.240457 
L 476.28 208.240457 
z
" clip-path="url(#pa3eb995bca)" style="fill: #cccccc; stroke: #cccccc; stroke-linejoin: miter"/>
</g>
<g id="matplotlib.axis_5">
<g id="xtick_83">
<g id="line2d_155">
<g>
<use href="#me7126e2e17" x="494.280" y="408.672" style="stroke: #000000; stroke-width: 0.8"/>
</g>
</g>
<g id="text_44">
<g transform="matrix(0.08029 0.00000 0.00000 -0.08500 482.597 423.951)">
<use href="#DejaVuSans-30"/>
<use href="#DejaVuSans-33" transform="translate(63.623047 0)"/>
<use href="#DejaVuSans-46" transform="translate(127.246094 0)"/>
<use href="#DejaVuSans-65" transform="translate(179.265625 0)"/>
<use href="#DejaVuSans-62" transform="translate(240.789062 0)"/>
</g>
<g transform="matrix(0.07965 0.00000 0.00000 -0.08507 487.463 434.742)">
<use href="#DejaVuSans-30"/>
<use href="#DejaVuSans-30" transform="translate(63.623047 0)"/>
<use href="#DejaVuSans-7a" transform="translate(127.246094 0)"/>
</g>
</g>
</g>
<g id="xtick_84">
<g id="line2d_156">
<g>
<use href="#me7126e2e17" x="531.000" y="408.672" style="stroke: #000000; stroke-width: 0.8"/>
</g>
</g>
<g id="text_45">
<g transform="matrix(0.08060 0.00000 0.00000 -0.08500 519.316 423.959)">
<use href="#DejaVuSans-30"/>
<use href="#DejaVuSans-34" transform="translate(63.623047 0)"/>
<use href="#DejaVuSans-46" transform="translate(127.246094 0)"/>
<use href="#DejaVuSans-65" transform="translate(179.265625 0)"/>
<use href="#DejaVuSans-62" transform="translate(240.789062 0)"/>
</g>
<g transform="matrix(0.07965 0.00000 0.00000 -0.08507 524.183 434.742)">
<use href="#DejaVuSans-30"/>
<use href="#DejaVuSans-30" transform="translate(63.623047 0)"/>
<use href="#DejaVuSans-7a" transform="translate(127.246094 0)"/>
</g>
</g>
</g>
<g id="xtick_85">
<g id="line2d_157">
<g>
<use href="#me7126e2e17" x="567.720" y="408.672" style="stroke: #000000; stroke-width: 0.8"/>
</g>
</g>
<g id="text_46">
<g transform="matrix(0.08029 0.00000 0.00000 -0.08500 556.037 423.951)">
<use href="#DejaVuSans-30"/>
<use href="#DejaVuSans-35" transform="translate(63.623047 0)"/>
<use href="#DejaVuSans-46" transform="translate(127.246094 0)"/>
<use href="#DejaVuSans-65" transform="translate(179.265625 0)"/>
<use href="#DejaVuSans-62" transform="translate(240.789062 0)"/>
</g>
<g transform="matrix(0.07965 0.00000 0.00000 -0.08507 560.903 434.742)">
<use href="#DejaVuSans-30"/>
<use href="#DejaVuSans-30" transform="translate(63.623047 0)"/>
<use href="#DejaVuSans-7a" transform="translate(127.246094 0)"/>
</g>
</g>
</g>
<g id="xtick_86">
<g id="line2d_158">
<g>
<use href="#me7126e2e17" x="604.440" y="408.672" style="stroke: #000000; stroke-width: 0.8"/>
</g>
</g>
<g id="text_47">
<g transform="matrix(0.08060 0.00000 0.00000 -0.08500 592.756 423.959)">
<use href="#DejaVuSans-30"/>
<use href="#DejaVuSans-36" transform="translate(63.623047 0)"/>
<use href="#DejaVuSans-46" transform="translate(127.246094 0)"/>
<use href="#DejaVuSans-65" transform="translate(179.265625 0)"/>
<use href="#DejaVuSans-62" transform="translate(240.789062 0)"/>
</g>
<g transform="matrix(0.07965 0.00000 0.00000 -0.08507 597.623 434.742)">
<use href="#DejaVuSans-30"/>
<use href="#DejaVuSans-30" transform="translate(63.623047 0)"/>
<use href="#DejaVuSans-7a" transform="translate(127.246094 0)"/>
</g>
</g>
</g>
<g id="xtick_87">
<g id="line2d_159">
<g>
<use href="#me7126e2e17" x="641.160" y="408.672" style="stroke: #000000; stroke-width: 0.8"/>
</g>
</g>
<g id="text_48">
<g transform="matrix(0.08060 0.00000 0.00000 -0.08500 628.756 423.959)">
<use href="#DejaVuSans-30"/>
<use href="#DejaVuSans-37" transform="translate(63.623047 0)"/>
<use href="#DejaVuSans-46" transform="translate(127.246094 0)"/>
<use href="#DejaVuSans-65" transform="translate(179.265625 0)"/>
<use href="#DejaVuSans-62" transform="translate(240.789062 0)"/>
</g>
<g transform="matrix(0.07965 0.00000 0.00000 -0.08507 634.343 434.742)">
<use href="#DejaVuSans-30"/>
<use href="#DejaVuSans-30" transform="translate(63.623047 0)"/>
<use href="#DejaVuSans-7a" transform="translate(127.246094 0)"/>
</g>
</g>
</g>
<g id="xtick_88">
<g id="line2d_160">
<g>
<use href="#me7126e2e17" x="677.880" y="408.672" style="stroke: #000000; stroke-width: 0.8"/>
</g>
</g>
<g id="text_49">
<g transform="matrix(0.08029 0.00000 0.00000 -0.08500 665.477 423.951)">
<use href="#DejaVuSans-30"/>
<use href="#DejaVuSans-38" transform="translate(63.623047 0)"/>
<use href="#DejaVuSans-46" transform="translate(127.246094 0)"/>
<use href="#DejaVuSans-65" transform="translate(179.265625 0)"/>
<use href="#DejaVuSans-62" transform="translate(240.789062 0)"/>
</g>
<g transform="matrix(0.07965 0.00000 0.00000 -0.08507 671.063 434.742)">
<use href="#DejaVuSans-30"/>
<use href="#DejaVuSans-30" transform="translate(63.623047 0)"/>
<use href="#DejaVuSans-7a" transform="translate(127.246094 0)"/>
</g>
</g>
</g>
<g id="xtick_89">
<g id="line2d_161">
<g>
<use href="#me7126e2e17" x="714.600" y="408.672" style="stroke: #000000; stroke-width: 0.8"/>
</g>
</g>
<g id="text_50">
<g transform="matrix(0.08060 0.00000 0.00000 -0.08500 702.196 423.959)">
<use href="#DejaVuSans-30"/>
<use href="#DejaVuSans-39" transform="translate(63.623047 0)"/>
<use href="#DejaVuSans-46" transform="translate(127.246094 0)"/>
<use href="#DejaVuSans-65" transform="translate(179.265625 0)"/>
<use href="#DejaVuSans-62" transform="translate(240.789062 0)"/>
</g>
<g transform="matrix(0.07965 0.00000 0.00000 -0.08507 707.783 434.742)">
<use href="#DejaVuSans-30"/>
<use href="#DejaVuSans-30" transform="translate(63.623047 0)"/>
<use href="#DejaVuSans-7a" transform="translate(127.246094 0)"/>
</g>
</g>
</g>
<g id="xtick_90">
<g id="line2d_162">
<g>
<use href="#me7126e2e17" x="751.320" y="408.672" style="stroke: #000000; stroke-width: 0.8"/>
</g>
</g>
<g id="text_51">
<g transform="matrix(0.08001 0.00000 0.00000 -0.08500 739.095 423.959)">
<use href="#DejaVuSans-31"/>
<use href="#DejaVuSans-30" transform="translate(63.623047 0)"/>
<use href="#DejaVuSans-46" transform="translate(127.246094 0)"/>
<use href="#DejaVuSans-65" transform="translate(179.265625 0)"/>
<use href="#DejaVuSans-62" transform="translate(240.789062 0)"/>
</g>
<g transform="matrix(0.07965 0.00000 0.00000 -0.08507 744.503 434.742)">
<use href="#DejaVuSans-30"/>
<use href="#DejaVuSans-30" transform="translate(63.623047 0)"/>
<use href="#DejaVuSans-7a" transform="translate(127.246094 0)"/>
</g>
</g>
</g>
<g id="xtick_91">
<g id="line2d_163">
<g>
<use href="#me7126e2e17" x="788.040" y="408.672" style="stroke: #000000; stroke-width: 0.8"/>
</g>
</g>
<g id="text_52">
<g transform="matrix(0.08031 0.00000 0.00000 -0.08500 775.812 423.959)">
<use href="#DejaVuSans-31"/>
<use href="#DejaVuSans-31" transform="translate(63.623047 0)"/>
<use href="#DejaVuSans-46" transform="translate(127.246094 0)"/>
<use href="#DejaVuSans-65" transform="translate(179.265625 0)"/>
<use href="#DejaVuSans-62" transform="translate(240.789062 0)"/>
</g>
<g transform="matrix(0.07965 0.00000 0.00000 -0.08507 780.503 434.742)">
<use href="#DejaVuSans-30"/>
<use href="#DejaVuSans-30" transform="translate(63.623047 0)"/>
<use href="#DejaVuSans-7a" transform="translate(127.246094 0)"/>
</g>
</g>
</g>
<g id="xtick_92">
<g id="line2d_164">
<g>
<use href="#me7126e2e17" x="824.760" y="408.672" style="stroke: #000000; stroke-width: 0.8"/>
</g>
</g>
<g id="text_53">
<g transform="matrix(0.08031 0.00000 0.00000 -0.08500 812.532 423.959)">
<use href="#DejaVuSans-31"/>
<use href="#DejaVuSans-32" transform="translate(63.623047 0)"/>
<use href="#DejaVuSans-46" transform="translate(127.246094 0)"/>
<use href="#DejaVuSans-65" transform="translate(179.265625 0)"/>
<use href="#DejaVuSans-62" transform="translate(240.789062 0)"/>
</g>
<g transform="matrix(0.07965 0.00000 0.00000 -0.08507 817.223 434.742)">
<use href="#DejaVuSans-30"/>
<use href="#DejaVuSans-30" transform="translate(63.623047 0)"/>
<use href="#DejaVuSans-7a" transform="translate(127.246094 0)"/>
</g>
</g>
</g>
<g id="xtick_93">
<g id="line2d_165">
<g>
<use href="#me60ad57aef" x="476.280" y="408.672" style="stroke: #000000; stroke-width: 0.6"/>
</g>
</g>
</g>
<g id="xtick_94">
<g id="line2d_166">
<g>
<use href="#me60ad57aef" x="485.640" y="408.672" style="stroke: #000000; stroke-width: 0.6"/>
</g>
</g>
</g>
<g id="xtick_95">
<g id="line2d_167">
<g>
<use href="#me60ad57aef" x="503.640" y="408.672" style="stroke: #000000; stroke-width: 0.6"/>
</g>
</g>
</g>
<g id="xtick_96">
<g id="line2d_168">
<g>
<use href="#me60ad57aef" x="513.000" y="408.672" style="stroke: #000000; stroke-width: 0.6"/>
</g>
</g>
</g>
<g id="xtick_97">
<g id="line2d_169">
<g>
<use href="#me60ad57aef" x="522.360" y="408.672" style="stroke: #000000; stroke-width: 0.6"/>
</g>
</g>
</g>
<g id="xtick_98">
<g id="line2d_170">
<g>
<use href="#me60ad57aef" x="540.360" y="408.672" style="stroke: #000000; stroke-width: 0.6"/>
</g>
</g>
</g>
<g id="xtick_99">
<g id="line2d_171">
<g>
<use href="#me60ad57aef" x="549.720" y="408.672" style="stroke: #000000; stroke-width: 0.6"/>
</g>
</g>
</g>
<g id="xtick_100">
<g id="line2d_172">
<g>
<use href="#me60ad57aef" x="559.080" y="408.672" style="stroke: #000000; stroke-width: 0.6"/>
</g>
</g>
</g>
<g id="xtick_101">
<g id="line2d_173">
<g>
<use href="#me60ad57aef" x="577.080" y="408.672" style="stroke: #000000; stroke-width: 0.6"/>
</g>
</g>
</g>
<g id="xtick_102">
<g id="line2d_174">
<g>
<use href="#me60ad57aef" x="586.440" y="408.672" style="stroke: #000000; stroke-width: 0.6"/>
</g>
</g>
</g>
<g id="xtick_103">
<g id="line2d_175">
<g>
<use href="#me60ad57aef" x="595.080" y="408.672" style="stroke: #000000; stroke-width: 0.6"/>
</g>
</g>
</g>
<g id="xtick_104">
<g id="line2d_176">
<g>
<use href="#me60ad57aef" x="613.800" y="408.672" style="stroke: #000000; stroke-width: 0.6"/>
</g>
</g>
</g>
<g id="xtick_105">
<g id="line2d_177">
<g>
<use href="#me60ad57aef" x="623.160" y="408.672" style="stroke: #000000; stroke-width: 0.6"/>
</g>
</g>
</g>
<g id="xtick_106">
<g id="line2d_178">
<g>
<use href="#me60ad57aef" x="631.800" y="408.672" style="stroke: #000000; stroke-width: 0.6"/>
</g>
</g>
</g>
<g id="xtick_107">
<g id="line2d_179">
<g>
<use href="#me60ad57aef" x="650.520" y="408.672" style="stroke: #000000; stroke-width: 0.6"/>
</g>
</g>
</g>
<g id="xtick_108">
<g id="line2d_180">
<g>
<use href="#me60ad57aef" x="659.880" y="408.672" style="stroke: #000000; stroke-width: 0.6"/>
</g>
</g>
</g>
<g id="xtick_109">
<g id="line2d_181">
<g>
<use href="#me60ad57aef" x="668.520" y="408.672" style="stroke: #000000; stroke-width: 0.6"/>
</g>
</g>
</g>
<g id="xtick_110">
<g id="line2d_182">
<g>
<use href="#me60ad57aef" x="687.240" y="408.672" style="stroke: #000000; stroke-width: 0.6"/>
</g>
</g>
</g>
<g id="xtick_111">
<g id="line2d_183">
<g>
<use href="#me60ad57aef" x="695.880" y="408.672" style="stroke: #000000; stroke-width: 0.6"/>
</g>
</g>
</g>
<g id="xtick_112">
<g id="line2d_184">
<g>
<use href="#me60ad57aef" x="705.240" y="408.672" style="stroke: #000000; stroke-width: 0.6"/>
</g>
</g>
</g>
<g id="xtick_113">
<g id="line2d_185">
<g>
<use href="#me60ad57aef" x="723.960" y="408.672" style="stroke: #000000; stroke-width: 0.6"/>
</g>
</g>
</g>
<g id="xtick_114">
<g id="line2d_186">
<g>
<use href="#me60ad57aef" x="732.600" y="408.672" style="stroke: #000000; stroke-width: 0.6"/>
</g>
</g>
</g>
<g id="xtick_115">
<g id="line2d_187">
<g>
<use href="#me60ad57aef" x="741.960" y="408.672" style="stroke: #000000; stroke-width: 0.6"/>
</g>
</g>
</g>
<g id="xtick_116">
<g id="line2d_188">
<g>
<use href="#me60ad57aef" x="759.960" y="408.672" style="stroke: #000000; stroke-width: 0.6"/>
</g>
</g>
</g>
<g id="xtick_117">
<g id="line2d_189">
<g>
<use href="#me60ad57aef" x="769.320" y="408.672" style="stroke: #000000; stroke-width: 0.6"/>
</g>
</g>
</g>
<g id="xtick_118">
<g id="line2d_190">
<g>
<use href="#me60ad57aef" x="778.680" y="408.672" style="stroke: #000000; stroke-width: 0.6"/>
</g>
</g>
</g>
<g id="xtick_119">
<g id="line2d_191">
<g>
<use href="#me60ad57aef" x="796.680" y="408.672" style="stroke: #000000; stroke-width: 0.6"/>
</g>
</g>
</g>
<g id="xtick_120">
<g id="line2d_192">
<g>
<use href="#me60ad57aef" x="806.040" y="408.672" style="stroke: #000000; stroke-width: 0.6"/>
</g>
</g>
</g>
<g id="xtick_121">
<g id="line2d_193">
<g>
<use href="#me60ad57aef" x="815.400" y="408.672" style="stroke: #000000; stroke-width: 0.6"/>
</g>
</g>
</g>
<g id="xtick_122">
<g id="line2d_194">
<g>
<use href="#me60ad57aef" x="833.400" y="408.672" style="stroke: #000000; stroke-width: 0.6"/>
</g>
</g>
</g>
<g id="xtick_123">
<g id="line2d_195">
<g>
<use href="#me60ad57aef" x="842.760" y="408.672" style="stroke: #000000; stroke-width: 0.6"/>
</g>
</g>
</g>
</g>
<g id="matplotlib.axis_6">
<g id="ytick_51">
<g id="line2d_196">
<g>
<use href="#med81453d1f" x="476.280" y="408.600" style="stroke: #000000; stroke-width: 0.8"/>
</g>
</g>
<g id="text_54">
<g transform="matrix(0.07833 0.00000 0.00000 -0.08681 457.978 411.840)">
<use href="#DejaVuSans-32"/>
<use href="#DejaVuSans-32" transform="translate(63.623047 0)"/>
</g>
</g>
</g>
<g id="ytick_52">
<g id="line2d_197">
<g>
<use href="#med81453d1f" x="476.280" y="375.480" style="stroke: #000000; stroke-width: 0.8"/>
</g>
</g>
<g id="text_55">
<g transform="matrix(0.07830 0.00000 0.00000 -0.08731 457.979 378.720)">
<use href="#DejaVuSans-32"/>
<use href="#DejaVuSans-34" transform="translate(63.623047 0)"/>
</g>
</g>
</g>
<g id="ytick_53">
<g id="line2d_198">
<g>
<use href="#med81453d1f" x="476.280" y="341.640" style="stroke: #000000; stroke-width: 0.8"/>
</g>
</g>
<g id="text_56">
<g transform="matrix(0.07790 0.00000 0.00000 -0.08518 457.982 344.759)">
<use href="#DejaVuSans-32"/>
<use href="#DejaVuSans-36" transform="translate(63.623047 0)"/>
</g>
</g>
</g>
<g id="ytick_54">
<g id="line2d_199">
<g>
<use href="#med81453d1f" x="476.280" y="308.520" style="stroke: #000000; stroke-width: 0.8"/>
</g>
</g>
<g id="text_57">
<g transform="matrix(0.07758 0.00000 0.00000 -0.08518 457.984 311.639)">
<use href="#DejaVuSans-32"/>
<use href="#DejaVuSans-38" transform="translate(63.623047 0)"/>
</g>
</g>
</g>
<g id="ytick_55">
<g id="line2d_200">
<g>
<use href="#med81453d1f" x="476.280" y="275.400" style="stroke: #000000; stroke-width: 0.8"/>
</g>
</g>
<g id="text_58">
<g transform="matrix(0.07707 0.00000 0.00000 -0.08466 457.979 278.480)">
<use href="#DejaVuSans-33"/>
<use href="#DejaVuSans-30" transform="translate(63.623047 0)"/>
</g>
</g>
</g>
<g id="ytick_56">
<g id="line2d_201">
<g>
<use href="#med81453d1f" x="476.280" y="241.560" style="stroke: #000000; stroke-width: 0.8"/>
</g>
</g>
<g id="text_59">
<g transform="matrix(0.07764 0.00000 0.00000 -0.08507 457.975 244.671)">
<use href="#DejaVuSans-33"/>
<use href="#DejaVuSans-32" transform="translate(63.623047 0)"/>
</g>
</g>
</g>
<g id="ytick_57">
<g id="line2d_202">
<g>
<use href="#mf9979f3be9" x="476.280" y="400.680" style="stroke: #000000; stroke-width: 0.6"/>
</g>
</g>
</g>
<g id="ytick_58">
<g id="line2d_203">
<g>
<use href="#mf9979f3be9" x="476.280" y="392.040" style="stroke: #000000; stroke-width: 0.6"/>
</g>
</g>
</g>
<g id="ytick_59">
<g id="line2d_204">
<g>
<use href="#mf9979f3be9" x="476.280" y="383.400" style="stroke: #000000; stroke-width: 0.6"/>
</g>
</g>
</g>
<g id="ytick_60">
<g id="line2d_205">
<g>
<use href="#mf9979f3be9" x="476.280" y="366.840" style="stroke: #000000; stroke-width: 0.6"/>
</g>
</g>
</g>
<g id="ytick_61">
<g id="line2d_206">
<g>
<use href="#mf9979f3be9" x="476.280" y="358.920" style="stroke: #000000; stroke-width: 0.6"/>
</g>
</g>
</g>
<g id="ytick_62">
<g id="line2d_207">
<g>
<use href="#mf9979f3be9" x="476.280" y="350.280" style="stroke: #000000; stroke-width: 0.6"/>
</g>
</g>
</g>
<g id="ytick_63">
<g id="line2d_208">
<g>
<use href="#mf9979f3be9" x="476.280" y="333.720" style="stroke: #000000; stroke-width: 0.6"/>
</g>
</g>
</g>
<g id="ytick_64">
<g id="line2d_209">
<g>
<use href="#mf9979f3be9" x="476.280" y="325.080" style="stroke: #000000; stroke-width: 0.6"/>
</g>
</g>
</g>
<g id="ytick_65">
<g id="line2d_210">
<g>
<use href="#mf9979f3be9" x="476.280" y="317.160" style="stroke: #000000; stroke-width: 0.6"/>
</g>
</g>
</g>
<g id="ytick_66">
<g id="line2d_211">
<g>
<use href="#mf9979f3be9" x="476.280" y="299.880" style="stroke: #000000; stroke-width: 0.6"/>
</g>
</g>
</g>
<g id="ytick_67">
<g id="line2d_212">
<g>
<use href="#mf9979f3be9" x="476.280" y="291.960" style="stroke: #000000; stroke-width: 0.6"/>
</g>
</g>
</g>
<g id="ytick_68">
<g id="line2d_213">
<g>
<use href="#mf9979f3be9" x="476.280" y="283.320" style="stroke: #000000; stroke-width: 0.6"/>
</g>
</g>
</g>
<g id="ytick_69">
<g id="line2d_214">
<g>
<use href="#mf9979f3be9" x="476.280" y="266.760" style="stroke: #000000; stroke-width: 0.6"/>
</g>
</g>
</g>
<g id="ytick_70">
<g id="line2d_215">
<g>
<use href="#mf9979f3be9" x="476.280" y="258.120" style="stroke: #000000; stroke-width: 0.6"/>
</g>
</g>
</g>
<g id="ytick_71">
<g id="line2d_216">
<g>
<use href="#mf9979f3be9" x="476.280" y="250.200" style="stroke: #000000; stroke-width: 0.6"/>
</g>
</g>
</g>
<g id="ytick_72">
<g id="line2d_217">
<g>
<use href="#mf9979f3be9" x="476.280" y="233.640" style="stroke: #000000; stroke-width: 0.6"/>
</g>
</g>
</g>
<g id="text_60">
<g transform="matrix(0.00000 -0.10004 -0.10395 -0.00000 447.833 377.990)">
<defs>
<path id="DejaVuSans-75" d="M 544 1381 
L 544 3500 
L 1119 3500 
L 1119 1403 
Q 1119 906 1312 657 
Q 1506 409 1894 409 
Q 2359 409 2629 706 
Q 2900 1003 2900 1516 
L 2900 3500 
L 3475 3500 
L 3475 0 
L 2900 0 
L 2900 538 
Q 2691 219 2414 64 
Q 2138 -91 1772 -91 
Q 1169 -91 856 284 
Q 544 659 544 1381 
z
M 1991 3584 
L 1991 3584 
z
" transform="scale(0.015625)"/>
<path id="DejaVuSans-66" d="M 2375 4863 
L 2375 4384 
L 1825 4384 
Q 1516 4384 1395 4259 
Q 1275 4134 1275 3809 
L 1275 3500 
L 2222 3500 
L 2222 3053 
L 1275 3053 
L 1275 0 
L 697 0 
L 697 3053 
L 147 3053 
L 147 3500 
L 697 3500 
L 697 3744 
Q 697 4328 969 4595 
Q 1241 4863 1831 4863 
L 2375 4863 
z
" transform="scale(0.015625)"/>
<path id="DejaVuSans-63" d="M 3122 3366 
L 3122 2828 
Q 2878 2963 2633 3030 
Q 2388 3097 2138 3097 
Q 1578 3097 1268 2742 
Q 959 2388 959 1747 
Q 959 1106 1268 751 
Q 1578 397 2138 397 
Q 2388 397 2633 464 
Q 2878 531 3122 666 
L 3122 134 
Q 2881 22 2623 -34 
Q 2366 -91 2075 -91 
Q 1284 -91 818 406 
Q 353 903 353 1747 
Q 353 2603 823 3093 
Q 1294 3584 2113 3584 
Q 2378 3584 2631 3529 
Q 2884 3475 3122 3366 
z
" transform="scale(0.015625)"/>
<path id="DejaVuSans-b0" d="M 1600 4347 
Q 1350 4347 1178 4173 
Q 1006 4000 1006 3750 
Q 1006 3503 1178 3333 
Q 1350 3163 1600 3163 
Q 1850 3163 2022 3333 
Q 2194 3503 2194 3750 
Q 2194 3997 2020 4172 
Q 1847 4347 1600 4347 
z
M 1600 4750 
Q 1800 4750 1984 4673 
Q 2169 4597 2303 4453 
Q 2447 4313 2519 4134 
Q 2591 3956 2591 3750 
Q 2591 3338 2302 3052 
Q 2013 2766 1594 2766 
Q 1172 2766 890 3047 
Q 609 3328 609 3750 
Q 609 4169 896 4459 
Q 1184 4750 1600 4750 
z
" transform="scale(0.015625)"/>
</defs>
<use href="#DejaVuSans-53"/>
<use href="#DejaVuSans-65" transform="translate(63.476562 0)"/>
<use href="#DejaVuSans-61" transform="translate(125 0)"/>
<use href="#DejaVuSans-20" transform="translate(186.279297 0)"/>
<use href="#DejaVuSans-53" transform="translate(218.066406 0)"/>
<use href="#DejaVuSans-75" transform="translate(281.542969 0)"/>
<use href="#DejaVuSans-72" transform="translate(344.921875 0)"/>
<use href="#DejaVuSans-66" transform="translate(386.035156 0)"/>
<use href="#DejaVuSans-61" transform="translate(421.240234 0)"/>
<use href="#DejaVuSans-63" transform="translate(482.519531 0)"/>
<use href="#DejaVuSans-65" transform="translate(537.5 0)"/>
<use href="#DejaVuSans-20" transform="translate(599.023438 0)"/>
<use href="#DejaVuSans-54" transform="translate(630.810547 0)"/>
<use href="#DejaVuSans-65" transform="translate(674.894531 0)"/>
<use href="#DejaVuSans-6d" transform="translate(736.417969 0)"/>
<use href="#DejaVuSans-70" transform="translate(833.830078 0)"/>
<use href="#DejaVuSans-20" transform="translate(897.306641 0)"/>
<use href="#DejaVuSans-28" transform="translate(929.09375 0)"/>
<use href="#DejaVuSans-b0" transform="translate(968.107422 0)"/>
<use href="#DejaVuSans-43" transform="translate(1018.107422 0)"/>
<use href="#DejaVuSans-29" transform="translate(1087.931641 0)"/>
</g>
</g>
</g>
<g id="patch_21">
<path d="M 476.280 408.600 
L 476.280 233.640 
" style="fill: none; stroke: #000000; stroke-width: 0.8; stroke-linejoin: miter; stroke-linecap: square"/>
</g>
<g id="patch_22">
<path d="M 842.760 408.600 
L 842.760 233.640 
" style="fill: none; stroke: #000000; stroke-width: 0.8; stroke-linejoin: miter; stroke-linecap: square"/>
</g>
<g id="patch_23">
<path d="M 476.280 408.600 
L 842.760 408.600 
" style="fill: none; stroke: #000000; stroke-width: 0.8; stroke-linejoin: miter; stroke-linecap: square"/>
</g>
<g id="patch_24">
<path d="M 476.280 233.640 
L 842.760 233.640 
" style="fill: none; stroke: #000000; stroke-width: 0.8; stroke-linejoin: miter; stroke-linecap: square"/>
</g>
<g id="text_61">
<g transform="matrix(0.10004 0.00000 0.00000 -0.09519 817.982 245.385)">
<defs>
<path id="DejaVuSans-Bold-54" d="M 31 4666 
L 4331 4666 
L 4331 3756 
L 2784 3756 
L 2784 0 
L 1581 0 
L 1581 3756 
L 31 3756 
L 31 4666 
z
" transform="scale(0.015625)"/>
</defs>
<use href="#DejaVuSans-Bold-53"/>
<use href="#DejaVuSans-Bold-53" transform="translate(67.521484 0)"/>
<use href="#DejaVuSans-Bold-54" transform="translate(139.542969 0)"/>
</g>
</g>
<g id="line2d_218">
<path d="M 641.196 276.721234 
L 650.358 278.391497 
L 659.52 280.06176 
L 668.682 281.732023 
L 677.844 283.402286 
L 687.006 284.237417 
L 696.168 286.742811 
L 705.33 286.742811 
L 714.492 285.072549 
L 723.654 286.742811 
L 732.816 285.072549 
L 741.978 286.742811 
" clip-path="url(#pa3eb995bca)" style="fill: none; stroke: #cc4c02; stroke-width: 2; stroke-linecap: square"/>
</g>
<g id="line2d_219">
<path d="M 640.8 408.672 
L 640.8 233.2944 
" clip-path="url(#pa3eb995bca)" style="fill: none; stroke: #cc4c02; stroke-width: 1.5; stroke-linecap: square"/>
</g>
<g id="line2d_220">
<path d="M 641.196 276.721234 
L 650.358 278.391497 
L 659.52 280.06176 
L 668.682 283.402286 
L 677.844 283.402286 
L 687.006 285.072549 
L 696.168 283.402286 
L 705.33 283.402286 
L 714.492 283.402286 
L 723.654 285.072549 
L 732.816 285.072549 
L 741.978 286.742811 
L 751.14 286.742811 
L 760.302 285.072549 
L 769.464 283.402286 
L 778.626 286.742811 
L 787.788 283.402286 
L 796.95 280.06176 
L 806.112 286.742811 
L 815.274 288.413074 
L 824.436 295.094126 
L 833.598 306.785966 
L 842.76 330.169646 
" clip-path="url(#pa3eb995bca)" style="fill: none; stroke: #993404; stroke-width: 2; stroke-linecap: square"/>
</g>
<g id="line2d_221">
<path d="M 650.16 408.672 
L 650.16 233.2944 
" clip-path="url(#pa3eb995bca)" style="fill: none; stroke: #993404; stroke-width: 1.5; stroke-linecap: square"/>
</g>
<g id="legend_3">
<g id="line2d_222">
<path d="M 481.6775 242.9169 
L 489.9225 242.9169 
L 498.1675 242.9169 
" style="fill: none; stroke: #993404; stroke-width: 2.5; stroke-linecap: square"/>
</g>
<g id="text_62">
<g transform="matrix(0.08321 0.00000 0.00000 -0.08500 504.719 245.391)">
<use href="#DejaVuSans-30"/>
<use href="#DejaVuSans-36" transform="translate(63.623047 0)"/>
<use href="#DejaVuSans-7a" transform="translate(127.246094 0)"/>
<use href="#DejaVuSans-20" transform="translate(179.736328 0)"/>
<use href="#DejaVuSans-30" transform="translate(211.523438 0)"/>
<use href="#DejaVuSans-37" transform="translate(275.146484 0)"/>
<use href="#DejaVuSans-20" transform="translate(338.769531 0)"/>
<use href="#DejaVuSans-46" transform="translate(370.556641 0)"/>
<use href="#DejaVuSans-65" transform="translate(422.576172 0)"/>
<use href="#DejaVuSans-62" transform="translate(484.099609 0)"/>
</g>
</g>
<g id="line2d_223">
<path d="M 481.6775 252.9994 
L 489.9225 252.9994 
L 498.1675 252.9994 
" style="fill: none; stroke: #cc4c02; stroke-width: 2.5; stroke-linecap: square"/>
</g>
<g id="text_63">
<g transform="matrix(0.08304 0.00000 0.00000 -0.08500 504.720 255.462)">
<use href="#DejaVuSans-30"/>
<use href="#DejaVuSans-30" transform="translate(63.623047 0)"/>
<use href="#DejaVuSans-7a" transform="translate(127.246094 0)"/>
<use href="#DejaVuSans-20" transform="translate(179.736328 0)"/>
<use href="#DejaVuSans-30" transform="translate(211.523438 0)"/>
<use href="#DejaVuSans-37" transform="translate(275.146484 0)"/>
<use href="#DejaVuSans-20" transform="translate(338.769531 0)"/>
<use href="#DejaVuSans-46" transform="translate(370.556641 0)"/>
<use href="#DejaVuSans-65" transform="translate(422.576172 0)"/>
<use href="#DejaVuSans-62" transform="translate(484.099609 0)"/>
</g>
</g>
</g>
<g id="line2d_224">
<g clip-path="url(#pa3eb995bca)">
<use href="#m52fd444e23" x="641.196" y="276.721234" style="fill: #cc4c02; stroke: #cc4c02; stroke-width: 0.4"/>
</g>
</g>
<g id="line2d_225">
<g clip-path="url(#pa3eb995bca)">
<use href="#m0b1e01c222" x="650.358" y="278.391497" style="fill: #993404; stroke: #993404; stroke-width: 0.4"/>
</g>
</g>
</g>
<g id="axes_4">
<g id="patch_25">
<path d="M 476.28 615.96 
L 842.76 615.96 
L 842.76 440.28 
L 476.28 440.28 
z
" style="fill: #ffffff"/>
</g>
<g id="patch_26">
<path d="M 476.28 572.04 
L 842.76 572.04 
L 842.76 528.12 
L 476.28 528.12 
z
" clip-path="url(#p1802058db7)" style="fill: #cccccc; stroke: #cccccc; stroke-linejoin: miter"/>
</g>
<g id="patch_27">
<path d="M 476.28 484.2 
L 842.76 484.2 
L 842.76 440.28 
L 476.28 440.28 
z
" clip-path="url(#p1802058db7)" style="fill: #cccccc; stroke: #cccccc; stroke-linejoin: miter"/>
</g>
<g id="matplotlib.axis_7">
<g id="xtick_124">
<g id="line2d_226">
<g>
<use href="#me7126e2e17" x="494.280" y="615.960" style="stroke: #000000; stroke-width: 0.8"/>
</g>
</g>
<g id="text_64">
<g transform="matrix(0.08029 0.00000 0.00000 -0.08500 482.597 631.311)">
<use href="#DejaVuSans-30"/>
<use href="#DejaVuSans-33" transform="translate(63.623047 0)"/>
<use href="#DejaVuSans-46" transform="translate(127.246094 0)"/>
<use href="#DejaVuSans-65" transform="translate(179.265625 0)"/>
<use href="#DejaVuSans-62" transform="translate(240.789062 0)"/>
</g>
<g transform="matrix(0.07965 0.00000 0.00000 -0.08507 487.463 642.102)">
<use href="#DejaVuSans-30"/>
<use href="#DejaVuSans-30" transform="translate(63.623047 0)"/>
<use href="#DejaVuSans-7a" transform="translate(127.246094 0)"/>
</g>
</g>
</g>
<g id="xtick_125">
<g id="line2d_227">
<g>
<use href="#me7126e2e17" x="531.000" y="615.960" style="stroke: #000000; stroke-width: 0.8"/>
</g>
</g>
<g id="text_65">
<g transform="matrix(0.08060 0.00000 0.00000 -0.08500 519.316 631.319)">
<use href="#DejaVuSans-30"/>
<use href="#DejaVuSans-34" transform="translate(63.623047 0)"/>
<use href="#DejaVuSans-46" transform="translate(127.246094 0)"/>
<use href="#DejaVuSans-65" transform="translate(179.265625 0)"/>
<use href="#DejaVuSans-62" transform="translate(240.789062 0)"/>
</g>
<g transform="matrix(0.07965 0.00000 0.00000 -0.08507 524.183 642.102)">
<use href="#DejaVuSans-30"/>
<use href="#DejaVuSans-30" transform="translate(63.623047 0)"/>
<use href="#DejaVuSans-7a" transform="translate(127.246094 0)"/>
</g>
</g>
</g>
<g id="xtick_126">
<g id="line2d_228">
<g>
<use href="#me7126e2e17" x="567.720" y="615.960" style="stroke: #000000; stroke-width: 0.8"/>
</g>
</g>
<g id="text_66">
<g transform="matrix(0.08029 0.00000 0.00000 -0.08500 556.037 631.311)">
<use href="#DejaVuSans-30"/>
<use href="#DejaVuSans-35" transform="translate(63.623047 0)"/>
<use href="#DejaVuSans-46" transform="translate(127.246094 0)"/>
<use href="#DejaVuSans-65" transform="translate(179.265625 0)"/>
<use href="#DejaVuSans-62" transform="translate(240.789062 0)"/>
</g>
<g transform="matrix(0.07965 0.00000 0.00000 -0.08507 560.903 642.102)">
<use href="#DejaVuSans-30"/>
<use href="#DejaVuSans-30" transform="translate(63.623047 0)"/>
<use href="#DejaVuSans-7a" transform="translate(127.246094 0)"/>
</g>
</g>
</g>
<g id="xtick_127">
<g id="line2d_229">
<g>
<use href="#me7126e2e17" x="604.440" y="615.960" style="stroke: #000000; stroke-width: 0.8"/>
</g>
</g>
<g id="text_67">
<g transform="matrix(0.08060 0.00000 0.00000 -0.08500 592.756 631.319)">
<use href="#DejaVuSans-30"/>
<use href="#DejaVuSans-36" transform="translate(63.623047 0)"/>
<use href="#DejaVuSans-46" transform="translate(127.246094 0)"/>
<use href="#DejaVuSans-65" transform="translate(179.265625 0)"/>
<use href="#DejaVuSans-62" transform="translate(240.789062 0)"/>
</g>
<g transform="matrix(0.07965 0.00000 0.00000 -0.08507 597.623 642.102)">
<use href="#DejaVuSans-30"/>
<use href="#DejaVuSans-30" transform="translate(63.623047 0)"/>
<use href="#DejaVuSans-7a" transform="translate(127.246094 0)"/>
</g>
</g>
</g>
<g id="xtick_128">
<g id="line2d_230">
<g>
<use href="#me7126e2e17" x="641.160" y="615.960" style="stroke: #000000; stroke-width: 0.8"/>
</g>
</g>
<g id="text_68">
<g transform="matrix(0.08060 0.00000 0.00000 -0.08500 628.756 631.319)">
<use href="#DejaVuSans-30"/>
<use href="#DejaVuSans-37" transform="translate(63.623047 0)"/>
<use href="#DejaVuSans-46" transform="translate(127.246094 0)"/>
<use href="#DejaVuSans-65" transform="translate(179.265625 0)"/>
<use href="#DejaVuSans-62" transform="translate(240.789062 0)"/>
</g>
<g transform="matrix(0.07965 0.00000 0.00000 -0.08507 634.343 642.102)">
<use href="#DejaVuSans-30"/>
<use href="#DejaVuSans-30" transform="translate(63.623047 0)"/>
<use href="#DejaVuSans-7a" transform="translate(127.246094 0)"/>
</g>
</g>
</g>
<g id="xtick_129">
<g id="line2d_231">
<g>
<use href="#me7126e2e17" x="677.880" y="615.960" style="stroke: #000000; stroke-width: 0.8"/>
</g>
</g>
<g id="text_69">
<g transform="matrix(0.08029 0.00000 0.00000 -0.08500 665.477 631.311)">
<use href="#DejaVuSans-30"/>
<use href="#DejaVuSans-38" transform="translate(63.623047 0)"/>
<use href="#DejaVuSans-46" transform="translate(127.246094 0)"/>
<use href="#DejaVuSans-65" transform="translate(179.265625 0)"/>
<use href="#DejaVuSans-62" transform="translate(240.789062 0)"/>
</g>
<g transform="matrix(0.07965 0.00000 0.00000 -0.08507 671.063 642.102)">
<use href="#DejaVuSans-30"/>
<use href="#DejaVuSans-30" transform="translate(63.623047 0)"/>
<use href="#DejaVuSans-7a" transform="translate(127.246094 0)"/>
</g>
</g>
</g>
<g id="xtick_130">
<g id="line2d_232">
<g>
<use href="#me7126e2e17" x="714.600" y="615.960" style="stroke: #000000; stroke-width: 0.8"/>
</g>
</g>
<g id="text_70">
<g transform="matrix(0.08060 0.00000 0.00000 -0.08500 702.196 631.319)">
<use href="#DejaVuSans-30"/>
<use href="#DejaVuSans-39" transform="translate(63.623047 0)"/>
<use href="#DejaVuSans-46" transform="translate(127.246094 0)"/>
<use href="#DejaVuSans-65" transform="translate(179.265625 0)"/>
<use href="#DejaVuSans-62" transform="translate(240.789062 0)"/>
</g>
<g transform="matrix(0.07965 0.00000 0.00000 -0.08507 707.783 642.102)">
<use href="#DejaVuSans-30"/>
<use href="#DejaVuSans-30" transform="translate(63.623047 0)"/>
<use href="#DejaVuSans-7a" transform="translate(127.246094 0)"/>
</g>
</g>
</g>
<g id="xtick_131">
<g id="line2d_233">
<g>
<use href="#me7126e2e17" x="751.320" y="615.960" style="stroke: #000000; stroke-width: 0.8"/>
</g>
</g>
<g id="text_71">
<g transform="matrix(0.08001 0.00000 0.00000 -0.08500 739.095 631.319)">
<use href="#DejaVuSans-31"/>
<use href="#DejaVuSans-30" transform="translate(63.623047 0)"/>
<use href="#DejaVuSans-46" transform="translate(127.246094 0)"/>
<use href="#DejaVuSans-65" transform="translate(179.265625 0)"/>
<use href="#DejaVuSans-62" transform="translate(240.789062 0)"/>
</g>
<g transform="matrix(0.07965 0.00000 0.00000 -0.08507 744.503 642.102)">
<use href="#DejaVuSans-30"/>
<use href="#DejaVuSans-30" transform="translate(63.623047 0)"/>
<use href="#DejaVuSans-7a" transform="translate(127.246094 0)"/>
</g>
</g>
</g>
<g id="xtick_132">
<g id="line2d_234">
<g>
<use href="#me7126e2e17" x="788.040" y="615.960" style="stroke: #000000; stroke-width: 0.8"/>
</g>
</g>
<g id="text_72">
<g transform="matrix(0.08031 0.00000 0.00000 -0.08500 775.812 631.319)">
<use href="#DejaVuSans-31"/>
<use href="#DejaVuSans-31" transform="translate(63.623047 0)"/>
<use href="#DejaVuSans-46" transform="translate(127.246094 0)"/>
<use href="#DejaVuSans-65" transform="translate(179.265625 0)"/>
<use href="#DejaVuSans-62" transform="translate(240.789062 0)"/>
</g>
<g transform="matrix(0.07965 0.00000 0.00000 -0.08507 780.503 642.102)">
<use href="#DejaVuSans-30"/>
<use href="#DejaVuSans-30" transform="translate(63.623047 0)"/>
<use href="#DejaVuSans-7a" transform="translate(127.246094 0)"/>
</g>
</g>
</g>
<g id="xtick_133">
<g id="line2d_235">
<g>
<use href="#me7126e2e17" x="824.760" y="615.960" style="stroke: #000000; stroke-width: 0.8"/>
</g>
</g>
<g id="text_73">
<g transform="matrix(0.08031 0.00000 0.00000 -0.08500 812.532 631.319)">
<use href="#DejaVuSans-31"/>
<use href="#DejaVuSans-32" transform="translate(63.623047 0)"/>
<use href="#DejaVuSans-46" transform="translate(127.246094 0)"/>
<use href="#DejaVuSans-65" transform="translate(179.265625 0)"/>
<use href="#DejaVuSans-62" transform="translate(240.789062 0)"/>
</g>
<g transform="matrix(0.07965 0.00000 0.00000 -0.08507 817.223 642.102)">
<use href="#DejaVuSans-30"/>
<use href="#DejaVuSans-30" transform="translate(63.623047 0)"/>
<use href="#DejaVuSans-7a" transform="translate(127.246094 0)"/>
</g>
</g>
</g>
<g id="xtick_134">
<g id="line2d_236">
<g>
<use href="#me60ad57aef" x="476.280" y="615.960" style="stroke: #000000; stroke-width: 0.6"/>
</g>
</g>
</g>
<g id="xtick_135">
<g id="line2d_237">
<g>
<use href="#me60ad57aef" x="485.640" y="615.960" style="stroke: #000000; stroke-width: 0.6"/>
</g>
</g>
</g>
<g id="xtick_136">
<g id="line2d_238">
<g>
<use href="#me60ad57aef" x="503.640" y="615.960" style="stroke: #000000; stroke-width: 0.6"/>
</g>
</g>
</g>
<g id="xtick_137">
<g id="line2d_239">
<g>
<use href="#me60ad57aef" x="513.000" y="615.960" style="stroke: #000000; stroke-width: 0.6"/>
</g>
</g>
</g>
<g id="xtick_138">
<g id="line2d_240">
<g>
<use href="#me60ad57aef" x="522.360" y="615.960" style="stroke: #000000; stroke-width: 0.6"/>
</g>
</g>
</g>
<g id="xtick_139">
<g id="line2d_241">
<g>
<use href="#me60ad57aef" x="540.360" y="615.960" style="stroke: #000000; stroke-width: 0.6"/>
</g>
</g>
</g>
<g id="xtick_140">
<g id="line2d_242">
<g>
<use href="#me60ad57aef" x="549.720" y="615.960" style="stroke: #000000; stroke-width: 0.6"/>
</g>
</g>
</g>
<g id="xtick_141">
<g id="line2d_243">
<g>
<use href="#me60ad57aef" x="559.080" y="615.960" style="stroke: #000000; stroke-width: 0.6"/>
</g>
</g>
</g>
<g id="xtick_142">
<g id="line2d_244">
<g>
<use href="#me60ad57aef" x="577.080" y="615.960" style="stroke: #000000; stroke-width: 0.6"/>
</g>
</g>
</g>
<g id="xtick_143">
<g id="line2d_245">
<g>
<use href="#me60ad57aef" x="586.440" y="615.960" style="stroke: #000000; stroke-width: 0.6"/>
</g>
</g>
</g>
<g id="xtick_144">
<g id="line2d_246">
<g>
<use href="#me60ad57aef" x="595.080" y="615.960" style="stroke: #000000; stroke-width: 0.6"/>
</g>
</g>
</g>
<g id="xtick_145">
<g id="line2d_247">
<g>
<use href="#me60ad57aef" x="613.800" y="615.960" style="stroke: #000000; stroke-width: 0.6"/>
</g>
</g>
</g>
<g id="xtick_146">
<g id="line2d_248">
<g>
<use href="#me60ad57aef" x="623.160" y="615.960" style="stroke: #000000; stroke-width: 0.6"/>
</g>
</g>
</g>
<g id="xtick_147">
<g id="line2d_249">
<g>
<use href="#me60ad57aef" x="631.800" y="615.960" style="stroke: #000000; stroke-width: 0.6"/>
</g>
</g>
</g>
<g id="xtick_148">
<g id="line2d_250">
<g>
<use href="#me60ad57aef" x="650.520" y="615.960" style="stroke: #000000; stroke-width: 0.6"/>
</g>
</g>
</g>
<g id="xtick_149">
<g id="line2d_251">
<g>
<use href="#me60ad57aef" x="659.880" y="615.960" style="stroke: #000000; stroke-width: 0.6"/>
</g>
</g>
</g>
<g id="xtick_150">
<g id="line2d_252">
<g>
<use href="#me60ad57aef" x="668.520" y="615.960" style="stroke: #000000; stroke-width: 0.6"/>
</g>
</g>
</g>
<g id="xtick_151">
<g id="line2d_253">
<g>
<use href="#me60ad57aef" x="687.240" y="615.960" style="stroke: #000000; stroke-width: 0.6"/>
</g>
</g>
</g>
<g id="xtick_152">
<g id="line2d_254">
<g>
<use href="#me60ad57aef" x="695.880" y="615.960" style="stroke: #000000; stroke-width: 0.6"/>
</g>
</g>
</g>
<g id="xtick_153">
<g id="line2d_255">
<g>
<use href="#me60ad57aef" x="705.240" y="615.960" style="stroke: #000000; stroke-width: 0.6"/>
</g>
</g>
</g>
<g id="xtick_154">
<g id="line2d_256">
<g>
<use href="#me60ad57aef" x="723.960" y="615.960" style="stroke: #000000; stroke-width: 0.6"/>
</g>
</g>
</g>
<g id="xtick_155">
<g id="line2d_257">
<g>
<use href="#me60ad57aef" x="732.600" y="615.960" style="stroke: #000000; stroke-width: 0.6"/>
</g>
</g>
</g>
<g id="xtick_156">
<g id="line2d_258">
<g>
<use href="#me60ad57aef" x="741.960" y="615.960" style="stroke: #000000; stroke-width: 0.6"/>
</g>
</g>
</g>
<g id="xtick_157">
<g id="line2d_259">
<g>
<use href="#me60ad57aef" x="759.960" y="615.960" style="stroke: #000000; stroke-width: 0.6"/>
</g>
</g>
</g>
<g id="xtick_158">
<g id="line2d_260">
<g>
<use href="#me60ad57aef" x="769.320" y="615.960" style="stroke: #000000; stroke-width: 0.6"/>
</g>
</g>
</g>
<g id="xtick_159">
<g id="line2d_261">
<g>
<use href="#me60ad57aef" x="778.680" y="615.960" style="stroke: #000000; stroke-width: 0.6"/>
</g>
</g>
</g>
<g id="xtick_160">
<g id="line2d_262">
<g>
<use href="#me60ad57aef" x="796.680" y="615.960" style="stroke: #000000; stroke-width: 0.6"/>
</g>
</g>
</g>
<g id="xtick_161">
<g id="line2d_263">
<g>
<use href="#me60ad57aef" x="806.040" y="615.960" style="stroke: #000000; stroke-width: 0.6"/>
</g>
</g>
</g>
<g id="xtick_162">
<g id="line2d_264">
<g>
<use href="#me60ad57aef" x="815.400" y="615.960" style="stroke: #000000; stroke-width: 0.6"/>
</g>
</g>
</g>
<g id="xtick_163">
<g id="line2d_265">
<g>
<use href="#me60ad57aef" x="833.400" y="615.960" style="stroke: #000000; stroke-width: 0.6"/>
</g>
</g>
</g>
<g id="xtick_164">
<g id="line2d_266">
<g>
<use href="#me60ad57aef" x="842.760" y="615.960" style="stroke: #000000; stroke-width: 0.6"/>
</g>
</g>
</g>
</g>
<g id="matplotlib.axis_8">
<g id="ytick_73">
<g id="line2d_267">
<g>
<use href="#med81453d1f" x="476.280" y="615.960" style="stroke: #000000; stroke-width: 0.8"/>
</g>
</g>
<g id="text_74">
<g transform="matrix(0.07777 0.00000 0.00000 -0.08522 457.983 619.079)">
<use href="#DejaVuSans-32"/>
<use href="#DejaVuSans-30" transform="translate(63.623047 0)"/>
</g>
</g>
</g>
<g id="ytick_74">
<g id="line2d_268">
<g>
<use href="#med81453d1f" x="476.280" y="572.040" style="stroke: #000000; stroke-width: 0.8"/>
</g>
</g>
<g id="text_75">
<g transform="matrix(0.07772 0.00000 0.00000 -0.08496 457.269 575.128)">
<use href="#DejaVuSans-34"/>
<use href="#DejaVuSans-30" transform="translate(63.623047 0)"/>
</g>
</g>
</g>
<g id="ytick_75">
<g id="line2d_269">
<g>
<use href="#med81453d1f" x="476.280" y="528.120" style="stroke: #000000; stroke-width: 0.8"/>
</g>
</g>
<g id="text_76">
<g transform="matrix(0.07741 0.00000 0.00000 -0.08488 458.026 531.208)">
<use href="#DejaVuSans-36"/>
<use href="#DejaVuSans-30" transform="translate(63.623047 0)"/>
</g>
</g>
</g>
<g id="ytick_76">
<g id="line2d_270">
<g>
<use href="#med81453d1f" x="476.280" y="484.200" style="stroke: #000000; stroke-width: 0.8"/>
</g>
</g>
<g id="text_77">
<g transform="matrix(0.07717 0.00000 0.00000 -0.08470 457.967 487.283)">
<use href="#DejaVuSans-38"/>
<use href="#DejaVuSans-30" transform="translate(63.623047 0)"/>
</g>
</g>
</g>
<g id="ytick_77">
<g id="line2d_271">
<g>
<use href="#med81453d1f" x="476.280" y="440.280" style="stroke: #000000; stroke-width: 0.8"/>
</g>
</g>
<g id="text_78">
<g transform="matrix(0.07893 0.00000 0.00000 -0.08556 452.372 443.398)">
<use href="#DejaVuSans-31"/>
<use href="#DejaVuSans-30" transform="translate(63.623047 0)"/>
<use href="#DejaVuSans-30" transform="translate(127.246094 0)"/>
</g>
</g>
</g>
<g id="ytick_78">
<g id="line2d_272">
<g>
<use href="#mf9979f3be9" x="476.280" y="605.160" style="stroke: #000000; stroke-width: 0.6"/>
</g>
</g>
</g>
<g id="ytick_79">
<g id="line2d_273">
<g>
<use href="#mf9979f3be9" x="476.280" y="594.360" style="stroke: #000000; stroke-width: 0.6"/>
</g>
</g>
</g>
<g id="ytick_80">
<g id="line2d_274">
<g>
<use href="#mf9979f3be9" x="476.280" y="582.840" style="stroke: #000000; stroke-width: 0.6"/>
</g>
</g>
</g>
<g id="ytick_81">
<g id="line2d_275">
<g>
<use href="#mf9979f3be9" x="476.280" y="561.240" style="stroke: #000000; stroke-width: 0.6"/>
</g>
</g>
</g>
<g id="ytick_82">
<g id="line2d_276">
<g>
<use href="#mf9979f3be9" x="476.280" y="550.440" style="stroke: #000000; stroke-width: 0.6"/>
</g>
</g>
</g>
<g id="ytick_83">
<g id="line2d_277">
<g>
<use href="#mf9979f3be9" x="476.280" y="538.920" style="stroke: #000000; stroke-width: 0.6"/>
</g>
</g>
</g>
<g id="ytick_84">
<g id="line2d_278">
<g>
<use href="#mf9979f3be9" x="476.280" y="517.320" style="stroke: #000000; stroke-width: 0.6"/>
</g>
</g>
</g>
<g id="ytick_85">
<g id="line2d_279">
<g>
<use href="#mf9979f3be9" x="476.280" y="506.520" style="stroke: #000000; stroke-width: 0.6"/>
</g>
</g>
</g>
<g id="ytick_86">
<g id="line2d_280">
<g>
<use href="#mf9979f3be9" x="476.280" y="495.000" style="stroke: #000000; stroke-width: 0.6"/>
</g>
</g>
</g>
<g id="ytick_87">
<g id="line2d_281">
<g>
<use href="#mf9979f3be9" x="476.280" y="473.400" style="stroke: #000000; stroke-width: 0.6"/>
</g>
</g>
</g>
<g id="ytick_88">
<g id="line2d_282">
<g>
<use href="#mf9979f3be9" x="476.280" y="462.600" style="stroke: #000000; stroke-width: 0.6"/>
</g>
</g>
</g>
<g id="ytick_89">
<g id="line2d_283">
<g>
<use href="#mf9979f3be9" x="476.280" y="451.080" style="stroke: #000000; stroke-width: 0.6"/>
</g>
</g>
</g>
<g id="text_79">
<g transform="matrix(0.00000 -0.09959 -0.10366 -0.00000 447.799 594.007)">
<defs>
<path id="DejaVuSans-48" d="M 628 4666 
L 1259 4666 
L 1259 2753 
L 3553 2753 
L 3553 4666 
L 4184 4666 
L 4184 0 
L 3553 0 
L 3553 2222 
L 1259 2222 
L 1259 0 
L 628 0 
L 628 4666 
z
" transform="scale(0.015625)"/>
<path id="DejaVuSans-79" d="M 2059 -325 
Q 1816 -950 1584 -1140 
Q 1353 -1331 966 -1331 
L 506 -1331 
L 506 -850 
L 844 -850 
Q 1081 -850 1212 -737 
Q 1344 -625 1503 -206 
L 1606 56 
L 191 3500 
L 800 3500 
L 1894 763 
L 2988 3500 
L 3597 3500 
L 2059 -325 
z
" transform="scale(0.015625)"/>
<path id="DejaVuSans-25" d="M 4653 2053 
Q 4381 2053 4226 1822 
Q 4072 1591 4072 1178 
Q 4072 772 4226 539 
Q 4381 306 4653 306 
Q 4919 306 5073 539 
Q 5228 772 5228 1178 
Q 5228 1588 5073 1820 
Q 4919 2053 4653 2053 
z
M 4653 2450 
Q 5147 2450 5437 2106 
Q 5728 1763 5728 1178 
Q 5728 594 5436 251 
Q 5144 -91 4653 -91 
Q 4153 -91 3862 251 
Q 3572 594 3572 1178 
Q 3572 1766 3864 2108 
Q 4156 2450 4653 2450 
z
M 1428 4353 
Q 1159 4353 1004 4120 
Q 850 3888 850 3481 
Q 850 3069 1003 2837 
Q 1156 2606 1428 2606 
Q 1700 2606 1854 2837 
Q 2009 3069 2009 3481 
Q 2009 3884 1853 4118 
Q 1697 4353 1428 4353 
z
M 4250 4750 
L 4750 4750 
L 1831 -91 
L 1331 -91 
L 4250 4750 
z
M 1428 4750 
Q 1922 4750 2215 4408 
Q 2509 4066 2509 3481 
Q 2509 2891 2217 2550 
Q 1925 2209 1428 2209 
Q 931 2209 642 2551 
Q 353 2894 353 3481 
Q 353 4063 643 4406 
Q 934 4750 1428 4750 
z
" transform="scale(0.015625)"/>
</defs>
<use href="#DejaVuSans-37"/>
<use href="#DejaVuSans-30" transform="translate(63.623047 0)"/>
<use href="#DejaVuSans-30" transform="translate(127.246094 0)"/>
<use href="#DejaVuSans-2d" transform="translate(190.869141 0)"/>
<use href="#DejaVuSans-35" transform="translate(226.953125 0)"/>
<use href="#DejaVuSans-30" transform="translate(290.576172 0)"/>
<use href="#DejaVuSans-30" transform="translate(354.199219 0)"/>
<use href="#DejaVuSans-20" transform="translate(417.822266 0)"/>
<use href="#DejaVuSans-68" transform="translate(449.609375 0)"/>
<use href="#DejaVuSans-50" transform="translate(512.988281 0)"/>
<use href="#DejaVuSans-61" transform="translate(568.791016 0)"/>
<use href="#DejaVuSans-20" transform="translate(630.070312 0)"/>
<use href="#DejaVuSans-48" transform="translate(661.857422 0)"/>
<use href="#DejaVuSans-75" transform="translate(737.052734 0)"/>
<use href="#DejaVuSans-6d" transform="translate(800.431641 0)"/>
<use href="#DejaVuSans-69" transform="translate(897.84375 0)"/>
<use href="#DejaVuSans-64" transform="translate(925.626953 0)"/>
<use href="#DejaVuSans-69" transform="translate(989.103516 0)"/>
<use href="#DejaVuSans-74" transform="translate(1016.886719 0)"/>
<use href="#DejaVuSans-79" transform="translate(1056.095703 0)"/>
<use href="#DejaVuSans-20" transform="translate(1115.275391 0)"/>
<use href="#DejaVuSans-28" transform="translate(1147.0625 0)"/>
<use href="#DejaVuSans-25" transform="translate(1186.076172 0)"/>
<use href="#DejaVuSans-29" transform="translate(1281.095703 0)"/>
</g>
</g>
</g>
<g id="patch_28">
<path d="M 476.280 615.960 
L 476.280 440.280 
" style="fill: none; stroke: #000000; stroke-width: 0.8; stroke-linejoin: miter; stroke-linecap: square"/>
</g>
<g id="patch_29">
<path d="M 842.760 615.960 
L 842.760 440.280 
" style="fill: none; stroke: #000000; stroke-width: 0.8; stroke-linejoin: miter; stroke-linecap: square"/>
</g>
<g id="patch_30">
<path d="M 476.280 615.960 
L 842.760 615.960 
" style="fill: none; stroke: #000000; stroke-width: 0.8; stroke-linejoin: miter; stroke-linecap: square"/>
</g>
<g id="patch_31">
<path d="M 476.280 440.280 
L 842.760 440.280 
" style="fill: none; stroke: #000000; stroke-width: 0.8; stroke-linejoin: miter; stroke-linecap: square"/>
</g>
<g id="text_80">
<g transform="matrix(0.09986 0.00000 0.00000 -0.10232 764.620 452.015)">
<defs>
<path id="DejaVuSans-Bold-4d" d="M 588 4666 
L 2119 4666 
L 3181 2169 
L 4250 4666 
L 5778 4666 
L 5778 0 
L 4641 0 
L 4641 3413 
L 3566 897 
L 2803 897 
L 1728 3413 
L 1728 0 
L 588 0 
L 588 4666 
z
" transform="scale(0.015625)"/>
<path id="DejaVuSans-Bold-64" d="M 2919 2988 
L 2919 4863 
L 4044 4863 
L 4044 0 
L 2919 0 
L 2919 506 
Q 2688 197 2409 53 
Q 2131 -91 1766 -91 
Q 1119 -91 703 423 
Q 288 938 288 1747 
Q 288 2556 703 3070 
Q 1119 3584 1766 3584 
Q 2128 3584 2408 3439 
Q 2688 3294 2919 2988 
z
M 2181 722 
Q 2541 722 2730 984 
Q 2919 1247 2919 1747 
Q 2919 2247 2730 2509 
Q 2541 2772 2181 2772 
Q 1825 2772 1636 2509 
Q 1447 2247 1447 1747 
Q 1447 1247 1636 984 
Q 1825 722 2181 722 
z
" transform="scale(0.015625)"/>
<path id="DejaVuSans-Bold-76" d="M 97 3500 
L 1216 3500 
L 2088 1081 
L 2956 3500 
L 4078 3500 
L 2700 0 
L 1472 0 
L 97 3500 
z
" transform="scale(0.015625)"/>
<path id="DejaVuSans-Bold-6c" d="M 538 4863 
L 1656 4863 
L 1656 0 
L 538 0 
L 538 4863 
z
" transform="scale(0.015625)"/>
<path id="DejaVuSans-Bold-52" d="M 2297 2597 
Q 2675 2597 2839 2737 
Q 3003 2878 3003 3200 
Q 3003 3519 2839 3656 
Q 2675 3794 2297 3794 
L 1791 3794 
L 1791 2597 
L 2297 2597 
z
M 1791 1766 
L 1791 0 
L 588 0 
L 588 4666 
L 2425 4666 
Q 3347 4666 3776 4356 
Q 4206 4047 4206 3378 
Q 4206 2916 3982 2619 
Q 3759 2322 3309 2181 
Q 3556 2125 3751 1926 
Q 3947 1728 4147 1325 
L 4800 0 
L 3519 0 
L 2950 1159 
Q 2778 1509 2601 1637 
Q 2425 1766 2131 1766 
L 1791 1766 
z
" transform="scale(0.015625)"/>
<path id="DejaVuSans-Bold-48" d="M 588 4666 
L 1791 4666 
L 1791 2888 
L 3566 2888 
L 3566 4666 
L 4769 4666 
L 4769 0 
L 3566 0 
L 3566 1978 
L 1791 1978 
L 1791 0 
L 588 0 
L 588 4666 
z
" transform="scale(0.015625)"/>
</defs>
<use href="#DejaVuSans-Bold-4d"/>
<use href="#DejaVuSans-Bold-69" transform="translate(99.511719 0)"/>
<use href="#DejaVuSans-Bold-64" transform="translate(133.789062 0)"/>
<use href="#DejaVuSans-Bold-2d" transform="translate(205.371094 0)"/>
<use href="#DejaVuSans-Bold-4c" transform="translate(246.875 0)"/>
<use href="#DejaVuSans-Bold-65" transform="translate(310.595703 0)"/>
<use href="#DejaVuSans-Bold-76" transform="translate(378.417969 0)"/>
<use href="#DejaVuSans-Bold-65" transform="translate(443.603516 0)"/>
<use href="#DejaVuSans-Bold-6c" transform="translate(511.425781 0)"/>
<use href="#DejaVuSans-Bold-20" transform="translate(545.703125 0)"/>
<use href="#DejaVuSans-Bold-52" transform="translate(580.517578 0)"/>
<use href="#DejaVuSans-Bold-48" transform="translate(657.519531 0)"/>
</g>
</g>
<g id="line2d_284">
<path d="M 641.196 492.984 
L 650.358 495.18 
L 659.52 495.8388 
L 668.682 492.984 
L 677.844 495.18 
L 687.006 495.18 
L 696.168 491.886 
L 705.33 490.788 
L 714.492 491.0076 
L 723.654 488.1528 
L 732.816 487.2744 
L 741.978 489.69 
" clip-path="url(#p1802058db7)" style="fill: none; stroke: #cc4c02; stroke-width: 2; stroke-linecap: square"/>
</g>
<g id="line2d_285">
<path d="M 640.8 615.96 
L 640.8 440.28 
" clip-path="url(#p1802058db7)" style="fill: none; stroke: #cc4c02; stroke-width: 1.5; stroke-linecap: square"/>
</g>
<g id="line2d_286">
<path d="M 641.196 492.984 
L 650.358 489.69 
L 659.52 490.788 
L 668.682 498.0348 
L 677.844 492.984 
L 687.006 491.886 
L 696.168 491.4468 
L 705.33 495.18 
L 714.492 491.886 
L 723.654 489.4704 
L 732.816 488.3724 
L 741.978 491.4468 
L 751.14 493.6428 
L 760.302 491.5566 
L 769.464 490.788 
L 778.626 491.886 
L 787.788 492.984 
L 796.95 491.886 
L 806.112 490.788 
L 815.274 496.278 
L 824.436 502.6464 
L 833.598 509.0148 
L 842.76 518.238 
" clip-path="url(#p1802058db7)" style="fill: none; stroke: #993404; stroke-width: 2; stroke-linecap: square"/>
</g>
<g id="line2d_287">
<path d="M 650.16 615.96 
L 650.16 440.28 
" clip-path="url(#p1802058db7)" style="fill: none; stroke: #993404; stroke-width: 1.5; stroke-linecap: square"/>
</g>
<g id="legend_4">
<g id="line2d_288">
<path d="M 481.38 595.6425 
L 489.625 595.6425 
L 497.87 595.6425 
" style="fill: none; stroke: #993404; stroke-width: 2.5; stroke-linecap: square"/>
</g>
<g id="text_81">
<g transform="matrix(0.08321 0.00000 0.00000 -0.08500 504.719 598.191)">
<use href="#DejaVuSans-30"/>
<use href="#DejaVuSans-36" transform="translate(63.623047 0)"/>
<use href="#DejaVuSans-7a" transform="translate(127.246094 0)"/>
<use href="#DejaVuSans-20" transform="translate(179.736328 0)"/>
<use href="#DejaVuSans-30" transform="translate(211.523438 0)"/>
<use href="#DejaVuSans-37" transform="translate(275.146484 0)"/>
<use href="#DejaVuSans-20" transform="translate(338.769531 0)"/>
<use href="#DejaVuSans-46" transform="translate(370.556641 0)"/>
<use href="#DejaVuSans-65" transform="translate(422.576172 0)"/>
<use href="#DejaVuSans-62" transform="translate(484.099609 0)"/>
</g>
</g>
<g id="line2d_289">
<path d="M 481.38 605.725 
L 489.625 605.725 
L 497.87 605.725 
" style="fill: none; stroke: #cc4c02; stroke-width: 2.5; stroke-linecap: square"/>
</g>
<g id="text_82">
<g transform="matrix(0.08304 0.00000 0.00000 -0.08500 504.720 608.262)">
<use href="#DejaVuSans-30"/>
<use href="#DejaVuSans-30" transform="translate(63.623047 0)"/>
<use href="#DejaVuSans-7a" transform="translate(127.246094 0)"/>
<use href="#DejaVuSans-20" transform="translate(179.736328 0)"/>
<use href="#DejaVuSans-30" transform="translate(211.523438 0)"/>
<use href="#DejaVuSans-37" transform="translate(275.146484 0)"/>
<use href="#DejaVuSans-20" transform="translate(338.769531 0)"/>
<use href="#DejaVuSans-46" transform="translate(370.556641 0)"/>
<use href="#DejaVuSans-65" transform="translate(422.576172 0)"/>
<use href="#DejaVuSans-62" transform="translate(484.099609 0)"/>
</g>
</g>
</g>
<g id="line2d_290">
<g clip-path="url(#p1802058db7)">
<use href="#m52fd444e23" x="641.196" y="492.984" style="fill: #cc4c02; stroke: #cc4c02; stroke-width: 0.4"/>
</g>
</g>
<g id="line2d_291">
<g clip-path="url(#p1802058db7)">
<use href="#m0b1e01c222" x="650.358" y="489.69" style="fill: #993404; stroke: #993404; stroke-width: 0.4"/>
</g>
</g>
</g>
<g id="axes_5">
<g id="patch_32">
<path d="M 47.88 608.04 
L 414.36 608.04 
L 414.36 241.56 
L 47.88 241.56 
z
" style="fill: #ffffff"/>
</g>
<g id="matplotlib.axis_9">
<g id="xtick_165">
<g id="line2d_292">
<g>
<use href="#me7126e2e17" x="81.720" y="608.040" style="stroke: #000000; stroke-width: 0.8"/>
</g>
</g>
<g id="text_83">
<g transform="matrix(0.08155 0.00000 0.00000 -0.08556 67.143 622.678)">
<use href="#DejaVuSans-31"/>
<use href="#DejaVuSans-37" transform="translate(63.623047 0)"/>
<use href="#DejaVuSans-30" transform="translate(127.246094 0)"/>
<use href="#DejaVuSans-b0" transform="translate(190.869141 0)"/>
<use href="#DejaVuSans-57" transform="translate(240.869141 0)"/>
</g>
</g>
</g>
<g id="xtick_166">
<g id="line2d_293">
<g>
<use href="#me7126e2e17" x="150.120" y="608.040" style="stroke: #000000; stroke-width: 0.8"/>
</g>
</g>
<g id="text_84">
<g transform="matrix(0.08155 0.00000 0.00000 -0.08556 135.543 622.678)">
<use href="#DejaVuSans-31"/>
<use href="#DejaVuSans-36" transform="translate(63.623047 0)"/>
<use href="#DejaVuSans-35" transform="translate(127.246094 0)"/>
<use href="#DejaVuSans-b0" transform="translate(190.869141 0)"/>
<use href="#DejaVuSans-57" transform="translate(240.869141 0)"/>
</g>
</g>
</g>
<g id="xtick_167">
<g id="line2d_294">
<g>
<use href="#me7126e2e17" x="217.800" y="608.040" style="stroke: #000000; stroke-width: 0.8"/>
</g>
</g>
<g id="text_85">
<g transform="matrix(0.08155 0.00000 0.00000 -0.08556 203.223 622.678)">
<use href="#DejaVuSans-31"/>
<use href="#DejaVuSans-36" transform="translate(63.623047 0)"/>
<use href="#DejaVuSans-30" transform="translate(127.246094 0)"/>
<use href="#DejaVuSans-b0" transform="translate(190.869141 0)"/>
<use href="#DejaVuSans-57" transform="translate(240.869141 0)"/>
</g>
</g>
</g>
<g id="xtick_168">
<g id="line2d_295">
<g>
<use href="#me7126e2e17" x="286.200" y="608.040" style="stroke: #000000; stroke-width: 0.8"/>
</g>
</g>
<g id="text_86">
<g transform="matrix(0.08127 0.00000 0.00000 -0.08563 271.626 622.678)">
<use href="#DejaVuSans-31"/>
<use href="#DejaVuSans-35" transform="translate(63.623047 0)"/>
<use href="#DejaVuSans-35" transform="translate(127.246094 0)"/>
<use href="#DejaVuSans-b0" transform="translate(190.869141 0)"/>
<use href="#DejaVuSans-57" transform="translate(240.869141 0)"/>
</g>
</g>
</g>
<g id="xtick_169">
<g id="line2d_296">
<g>
<use href="#me7126e2e17" x="354.600" y="608.040" style="stroke: #000000; stroke-width: 0.8"/>
</g>
</g>
<g id="text_87">
<g transform="matrix(0.08127 0.00000 0.00000 -0.08563 340.026 622.678)">
<use href="#DejaVuSans-31"/>
<use href="#DejaVuSans-35" transform="translate(63.623047 0)"/>
<use href="#DejaVuSans-30" transform="translate(127.246094 0)"/>
<use href="#DejaVuSans-b0" transform="translate(190.869141 0)"/>
<use href="#DejaVuSans-57" transform="translate(240.869141 0)"/>
</g>
</g>
</g>
</g>
<g id="matplotlib.axis_10">
<g id="ytick_90">
<g id="line2d_297">
<g>
<use href="#med81453d1f" x="47.880" y="304.920" style="stroke: #000000; stroke-width: 0.8"/>
</g>
</g>
<g id="text_88">
<g transform="matrix(0.08016 0.00000 0.00000 -0.08556 18.918 308.038)">
<use href="#DejaVuSans-31"/>
<use href="#DejaVuSans-30" transform="translate(63.623047 0)"/>
<use href="#DejaVuSans-b0" transform="translate(127.246094 0)"/>
<use href="#DejaVuSans-53" transform="translate(177.246094 0)"/>
</g>
</g>
</g>
<g id="ytick_91">
<g id="line2d_298">
<g>
<use href="#med81453d1f" x="47.880" y="372.600" style="stroke: #000000; stroke-width: 0.8"/>
</g>
</g>
<g id="text_89">
<g transform="matrix(0.08016 0.00000 0.00000 -0.08563 18.918 375.718)">
<use href="#DejaVuSans-31"/>
<use href="#DejaVuSans-35" transform="translate(63.623047 0)"/>
<use href="#DejaVuSans-b0" transform="translate(127.246094 0)"/>
<use href="#DejaVuSans-53" transform="translate(177.246094 0)"/>
</g>
</g>
</g>
<g id="ytick_92">
<g id="line2d_299">
<g>
<use href="#med81453d1f" x="47.880" y="441.000" style="stroke: #000000; stroke-width: 0.8"/>
</g>
</g>
<g id="text_90">
<g transform="matrix(0.08083 0.00000 0.00000 -0.08526 19.480 444.119)">
<use href="#DejaVuSans-32"/>
<use href="#DejaVuSans-30" transform="translate(63.623047 0)"/>
<use href="#DejaVuSans-b0" transform="translate(127.246094 0)"/>
<use href="#DejaVuSans-53" transform="translate(177.246094 0)"/>
</g>
</g>
</g>
<g id="ytick_93">
<g id="line2d_300">
<g>
<use href="#med81453d1f" x="47.880" y="509.400" style="stroke: #000000; stroke-width: 0.8"/>
</g>
</g>
<g id="text_91">
<g transform="matrix(0.08083 0.00000 0.00000 -0.08563 19.480 512.518)">
<use href="#DejaVuSans-32"/>
<use href="#DejaVuSans-35" transform="translate(63.623047 0)"/>
<use href="#DejaVuSans-b0" transform="translate(127.246094 0)"/>
<use href="#DejaVuSans-53" transform="translate(177.246094 0)"/>
</g>
</g>
</g>
<g id="ytick_94">
<g id="line2d_301">
<g>
<use href="#med81453d1f" x="47.880" y="577.080" style="stroke: #000000; stroke-width: 0.8"/>
</g>
</g>
<g id="text_92">
<g transform="matrix(0.08048 0.00000 0.00000 -0.08474 19.473 580.160)">
<use href="#DejaVuSans-33"/>
<use href="#DejaVuSans-30" transform="translate(63.623047 0)"/>
<use href="#DejaVuSans-b0" transform="translate(127.246094 0)"/>
<use href="#DejaVuSans-53" transform="translate(177.246094 0)"/>
</g>
</g>
</g>
</g>
<g id="patch_33">
<path d="M 47.880 608.040 
L 47.880 241.560 
" style="fill: none; stroke: #000000; stroke-width: 0.8; stroke-linejoin: miter; stroke-linecap: square"/>
</g>
<g id="patch_34">
<path d="M 414.360 608.040 
L 414.360 241.560 
" style="fill: none; stroke: #000000; stroke-width: 0.8; stroke-linejoin: miter; stroke-linecap: square"/>
</g>
<g id="patch_35">
<path d="M 47.880 608.040 
L 414.360 608.040 
" style="fill: none; stroke: #000000; stroke-width: 0.8; stroke-linejoin: miter; stroke-linecap: square"/>
</g>
<g id="patch_36">
<path d="M 47.880 241.560 
L 414.360 241.560 
" style="fill: none; stroke: #000000; stroke-width: 0.8; stroke-linejoin: miter; stroke-linecap: square"/>
</g>
<g id="text_93">
<g transform="matrix(0.09696 0.00000 0.00000 -0.10232 380.201 255.455)">
<defs>
<path id="DejaVuSans-Bold-63" d="M 3366 3391 
L 3366 2478 
Q 3138 2634 2908 2709 
Q 2678 2784 2431 2784 
Q 1963 2784 1702 2511 
Q 1441 2238 1441 1747 
Q 1441 1256 1702 982 
Q 1963 709 2431 709 
Q 2694 709 2930 787 
Q 3166 866 3366 1019 
L 3366 103 
Q 3103 6 2833 -42 
Q 2563 -91 2291 -91 
Q 1344 -91 809 395 
Q 275 881 275 1747 
Q 275 2613 809 3098 
Q 1344 3584 2291 3584 
Q 2566 3584 2833 3536 
Q 3100 3488 3366 3391 
z
" transform="scale(0.015625)"/>
<path id="DejaVuSans-Bold-6b" d="M 538 4863 
L 1656 4863 
L 1656 2216 
L 2944 3500 
L 4244 3500 
L 2534 1894 
L 4378 0 
L 3022 0 
L 1656 1459 
L 1656 0 
L 538 0 
L 538 4863 
z
" transform="scale(0.015625)"/>
</defs>
<use href="#DejaVuSans-Bold-54"/>
<use href="#DejaVuSans-Bold-72" transform="translate(57.212891 0)"/>
<use href="#DejaVuSans-Bold-61" transform="translate(106.529297 0)"/>
<use href="#DejaVuSans-Bold-63" transform="translate(174.009766 0)"/>
<use href="#DejaVuSans-Bold-6b" transform="translate(233.287109 0)"/>
</g>
</g>
<g id="line2d_302">
<path d="M 28.8 312.48 
L 53.64 329.256 
L 76.824 346.824 
L 99.576 361.8 
L 120.6 377.496 
L 141.624 393.264 
" clip-path="url(#p7c9f272d39)" style="fill: none; stroke: #252525; stroke-width: 2; stroke-linecap: square"/>
</g>
<g id="line2d_303">
<path d="M 116.64 392.184 
L 136.584 401.4 
L 156.384 412.776 
L 156.42 423 
L 156.24 424.08 
L 155.88 424.584 
L 155.664 425.304 
L 155.52 426.06 
L 162.72 425.664 
L 170.28 422.892 
L 177.84 421.92 
L 185.328 420.768 
L 190.44 413.208 
L 211.176 412.128 
L 233.1 418.5 
L 253.8 422.82 
L 273.6 425.7 
L 299.7 434.52 
L 321.3 444.6 
L 340.74 458.82 
L 350.352 466.992 
L 359.568 474.84 
" clip-path="url(#p7c9f272d39)" style="fill: none; stroke: #993404; stroke-width: 1.85; stroke-linecap: square"/>
</g>
<g id="line2d_304">
<defs>
<path id="mf9477e1cd5" d="M 0 2.8 
C 0.742569 2.8 1.454824 2.504974 1.979899 1.979899 
C 2.504974 1.454824 2.8 0.742569 2.8 0 
C 2.8 -0.742569 2.504974 -1.454824 1.979899 -1.979899 
C 1.454824 -2.504974 0.742569 -2.8 0 -2.8 
C -0.742569 -2.8 -1.454824 -2.504974 -1.979899 -1.979899 
C -2.504974 -1.454824 -2.8 -0.742569 -2.8 0 
C -2.8 0.742569 -2.504974 1.454824 -1.979899 1.979899 
C -1.454824 2.504974 -0.742569 2.8 0 2.8 
z
" style="stroke: #993404; stroke-width: 0.4"/>
</defs>
<g clip-path="url(#p7c9f272d39)">
<use href="#mf9477e1cd5" x="116.64" y="392.184" style="fill: #993404; stroke: #993404; stroke-width: 0.4"/>
</g>
</g>
<g id="line2d_305">
<path d="M 102.6 374.04 
L 117 391.824 
L 132.12 401.4 
L 148.32 414.54 
L 151.38 424.44 
L 152.28 428.256 
L 150.12 431.568 
L 146.52 431.568 
L 142.848 431.568 
L 152.64 430.56 
L 165.24 427.32 
L 193.536 429.66 
" clip-path="url(#p7c9f272d39)" style="fill: none; stroke: #cc4c02; stroke-width: 1.85; stroke-linecap: square"/>
</g>
<g id="line2d_306">
<defs>
<path id="ma277a6dc00" d="M 0 2.8 
C 0.742569 2.8 1.454824 2.504974 1.979899 1.979899 
C 2.504974 1.454824 2.8 0.742569 2.8 0 
C 2.8 -0.742569 2.504974 -1.454824 1.979899 -1.979899 
C 1.454824 -2.504974 0.742569 -2.8 0 -2.8 
C -0.742569 -2.8 -1.454824 -2.504974 -1.979899 -1.979899 
C -2.504974 -1.454824 -2.8 -0.742569 -2.8 0 
C -2.8 0.742569 -2.504974 1.454824 -1.979899 1.979899 
C -1.454824 2.504974 -0.742569 2.8 0 2.8 
z
" style="stroke: #cc4c02; stroke-width: 0.4"/>
</defs>
<g clip-path="url(#p7c9f272d39)">
<use href="#ma277a6dc00" x="102.6" y="374.04" style="fill: #cc4c02; stroke: #cc4c02; stroke-width: 0.4"/>
</g>
</g>
<g id="legend_5">
<g id="line2d_307">
<path d="M 52.98 250.885 
L 61.225 250.885 
L 69.47 250.885 
" style="fill: none; stroke: #252525; stroke-width: 2.5; stroke-linecap: square"/>
</g>
<g id="text_94">
<g transform="matrix(0.08167 0.00000 0.00000 -0.08556 75.606 253.310)">
<use href="#DejaVuSans-42"/>
<use href="#DejaVuSans-45" transform="translate(68.603516 0)"/>
<use href="#DejaVuSans-53" transform="translate(131.787109 0)"/>
<use href="#DejaVuSans-54" transform="translate(195.263672 0)"/>
</g>
</g>
<g id="line2d_308">
<path d="M 52.98 260.9675 
L 61.225 260.9675 
L 69.47 260.9675 
" style="fill: none; stroke: #993404; stroke-width: 2.5; stroke-linecap: square"/>
</g>
<g id="text_95">
<g transform="matrix(0.08321 0.00000 0.00000 -0.08500 75.599 263.391)">
<use href="#DejaVuSans-30"/>
<use href="#DejaVuSans-36" transform="translate(63.623047 0)"/>
<use href="#DejaVuSans-7a" transform="translate(127.246094 0)"/>
<use href="#DejaVuSans-20" transform="translate(179.736328 0)"/>
<use href="#DejaVuSans-30" transform="translate(211.523438 0)"/>
<use href="#DejaVuSans-37" transform="translate(275.146484 0)"/>
<use href="#DejaVuSans-20" transform="translate(338.769531 0)"/>
<use href="#DejaVuSans-46" transform="translate(370.556641 0)"/>
<use href="#DejaVuSans-65" transform="translate(422.576172 0)"/>
<use href="#DejaVuSans-62" transform="translate(484.099609 0)"/>
</g>
</g>
<g id="line2d_309">
<path d="M 52.98 271.05 
L 61.225 271.05 
L 69.47 271.05 
" style="fill: none; stroke: #cc4c02; stroke-width: 2.5; stroke-linecap: square"/>
</g>
<g id="text_96">
<g transform="matrix(0.08304 0.00000 0.00000 -0.08500 75.600 273.462)">
<use href="#DejaVuSans-30"/>
<use href="#DejaVuSans-30" transform="translate(63.623047 0)"/>
<use href="#DejaVuSans-7a" transform="translate(127.246094 0)"/>
<use href="#DejaVuSans-20" transform="translate(179.736328 0)"/>
<use href="#DejaVuSans-30" transform="translate(211.523438 0)"/>
<use href="#DejaVuSans-37" transform="translate(275.146484 0)"/>
<use href="#DejaVuSans-20" transform="translate(338.769531 0)"/>
<use href="#DejaVuSans-46" transform="translate(370.556641 0)"/>
<use href="#DejaVuSans-65" transform="translate(422.576172 0)"/>
<use href="#DejaVuSans-62" transform="translate(484.099609 0)"/>
</g>
</g>
<g id="line2d_310">
<path d="M 52.98 281.1325 
L 61.225 281.1325 
L 69.47 281.1325 
" style="fill: none; stroke: #777777; stroke-width: 2.5; stroke-linecap: square"/>
</g>
<g id="text_97">
<g transform="matrix(0.08117 0.00000 0.00000 -0.09079 76.308 283.938)">
<use href="#DejaVuSans-4a"/>
<use href="#DejaVuSans-54" transform="translate(29.492188 0)"/>
<use href="#DejaVuSans-57" transform="translate(90.576172 0)"/>
<use href="#DejaVuSans-43" transform="translate(189.453125 0)"/>
</g>
</g>
</g>
<g id="line2d_311">
<path d="M 141.624 393.264 
L 158.04 413.532 
L 160.848 425.7 
L 160.848 431.568 
" clip-path="url(#p7c9f272d39)" style="fill: none; stroke: #777777; stroke-width: 1.85; stroke-linecap: square"/>
</g>
<g id="line2d_312">
<defs>
<path id="m53be42795e" d="M 0 2.8 
C 0.742569 2.8 1.454824 2.504974 1.979899 1.979899 
C 2.504974 1.454824 2.8 0.742569 2.8 0 
C 2.8 -0.742569 2.504974 -1.454824 1.979899 -1.979899 
C 1.454824 -2.504974 0.742569 -2.8 0 -2.8 
C -0.742569 -2.8 -1.454824 -2.504974 -1.979899 -1.979899 
C -2.504974 -1.454824 -2.8 -0.742569 -2.8 0 
C -2.8 0.742569 -2.504974 1.454824 -1.979899 1.979899 
C -1.454824 2.504974 -0.742569 2.8 0 2.8 
z
" style="stroke: #777777; stroke-width: 0.4"/>
</defs>
<g clip-path="url(#p7c9f272d39)">
<use href="#m53be42795e" x="141.624" y="393.264" style="fill: #777777; stroke: #777777; stroke-width: 0.4"/>
</g>
</g>
<g id="line2d_313">
<defs>
<path id="m3f994926ac" d="M 0 2.225 
C 0.590077 2.225 1.156065 1.99056 1.573313 1.573313 
C 1.99056 1.156065 2.225 0.590077 2.225 0 
C 2.225 -0.590077 1.99056 -1.156065 1.573313 -1.573313 
C 1.156065 -1.99056 0.590077 -2.225 0 -2.225 
C -0.590077 -2.225 -1.156065 -1.99056 -1.573313 -1.573313 
C -1.99056 -1.156065 -2.225 -0.590077 -2.225 0 
C -2.225 0.590077 -1.99056 1.156065 -1.573313 1.573313 
C -1.156065 1.99056 -0.590077 2.225 0 2.225 
z
" style="stroke: #252525"/>
</defs>
<g clip-path="url(#p7c9f272d39)">
<use href="#m3f994926ac" x="53.64" y="329.256" style="fill: #ffffff; stroke: #252525"/>
</g>
</g>
<g id="line2d_314">
<defs>
<path id="mb305a79643" d="M 0 2.225 
C 0.590077 2.225 1.156065 1.99056 1.573313 1.573313 
C 1.99056 1.156065 2.225 0.590077 2.225 0 
C 2.225 -0.590077 1.99056 -1.156065 1.573313 -1.573313 
C 1.156065 -1.99056 0.590077 -2.225 0 -2.225 
C -0.590077 -2.225 -1.156065 -1.99056 -1.573313 -1.573313 
C -1.99056 -1.156065 -2.225 -0.590077 -2.225 0 
C -2.225 0.590077 -1.99056 1.156065 -1.573313 1.573313 
C -1.156065 1.99056 -0.590077 2.225 0 2.225 
z
" style="stroke: #252525"/>
</defs>
<g clip-path="url(#p7c9f272d39)">
<use href="#mb305a79643" x="99.576" y="361.8" style="fill: #252525; stroke: #252525"/>
</g>
</g>
<g id="line2d_315">
<g clip-path="url(#p7c9f272d39)">
<use href="#m3f994926ac" x="136.584" y="401.4" style="fill: #ffffff; stroke: #252525"/>
</g>
</g>
<g id="line2d_316">
<g clip-path="url(#p7c9f272d39)">
<use href="#mb305a79643" x="156.42" y="423" style="fill: #252525; stroke: #252525"/>
</g>
</g>
<g id="line2d_317">
<g clip-path="url(#p7c9f272d39)">
<use href="#mb305a79643" x="155.52" y="426.06" style="fill: #252525; stroke: #252525"/>
</g>
</g>
<g id="line2d_318">
<g clip-path="url(#p7c9f272d39)">
<use href="#m3f994926ac" x="170.28" y="422.892" style="fill: #ffffff; stroke: #252525"/>
</g>
</g>
<g id="line2d_319">
<g clip-path="url(#p7c9f272d39)">
<use href="#mb305a79643" x="185.328" y="420.768" style="fill: #252525; stroke: #252525"/>
</g>
</g>
<g id="line2d_320">
<g clip-path="url(#p7c9f272d39)">
<use href="#m3f994926ac" x="211.176" y="412.128" style="fill: #ffffff; stroke: #252525"/>
</g>
</g>
<g id="line2d_321">
<g clip-path="url(#p7c9f272d39)">
<use href="#mb305a79643" x="253.8" y="422.82" style="fill: #252525; stroke: #252525"/>
</g>
</g>
<g id="line2d_322">
<g clip-path="url(#p7c9f272d39)">
<use href="#m3f994926ac" x="299.7" y="434.52" style="fill: #ffffff; stroke: #252525"/>
</g>
</g>
<g id="line2d_323">
<g clip-path="url(#p7c9f272d39)">
<use href="#mb305a79643" x="340.74" y="458.82" style="fill: #252525; stroke: #252525"/>
</g>
</g>
<g id="line2d_324">
<g clip-path="url(#p7c9f272d39)">
<use href="#m3f994926ac" x="132.12" y="401.4" style="fill: #ffffff; stroke: #252525"/>
</g>
</g>
<g id="line2d_325">
<g clip-path="url(#p7c9f272d39)">
<use href="#mb305a79643" x="151.38" y="424.44" style="fill: #252525; stroke: #252525"/>
</g>
</g>
<g id="line2d_326">
<g clip-path="url(#p7c9f272d39)">
<use href="#m3f994926ac" x="150.12" y="431.568" style="fill: #ffffff; stroke: #252525"/>
</g>
</g>
<g id="line2d_327">
<g clip-path="url(#p7c9f272d39)">
<use href="#mb305a79643" x="142.848" y="431.568" style="fill: #252525; stroke: #252525"/>
</g>
</g>
<g id="line2d_328">
<g clip-path="url(#p7c9f272d39)">
<use href="#m3f994926ac" x="165.24" y="427.32" style="fill: #ffffff; stroke: #252525"/>
</g>
</g>
<g id="line2d_329">
<g clip-path="url(#p7c9f272d39)">
<use href="#mb305a79643" x="158.04" y="413.532" style="fill: #252525; stroke: #252525"/>
</g>
</g>
<g id="line2d_330">
<g clip-path="url(#p7c9f272d39)">
<use href="#m3f994926ac" x="160.848" y="425.7" style="fill: #ffffff; stroke: #252525"/>
</g>
</g>
<g id="line2d_331">
<g clip-path="url(#p7c9f272d39)">
<use href="#mb305a79643" x="160.848" y="431.568" style="fill: #252525; stroke: #252525"/>
</g>
</g>
</g>
<g id="text_98">
<g transform="matrix(0.16010 0.00000 0.00000 -0.16714 8.681 19.440)">
<defs>
<path id="DejaVuSans-Bold-43" d="M 4288 256 
Q 3956 84 3597 -3 
Q 3238 -91 2847 -91 
Q 1681 -91 1000 561 
Q 319 1213 319 2328 
Q 319 3447 1000 4098 
Q 1681 4750 2847 4750 
Q 3238 4750 3597 4662 
Q 3956 4575 4288 4403 
L 4288 3438 
Q 3953 3666 3628 3772 
Q 3303 3878 2944 3878 
Q 2300 3878 1931 3465 
Q 1563 3053 1563 2328 
Q 1563 1606 1931 1193 
Q 2300 781 2944 781 
Q 3303 781 3628 887 
Q 3953 994 4288 1222 
L 4288 256 
z
" transform="scale(0.015625)"/>
<path id="DejaVuSans-Bold-58" d="M 3188 2381 
L 4806 0 
L 3553 0 
L 2463 1594 
L 1381 0 
L 122 0 
L 1741 2381 
L 184 4666 
L 1441 4666 
L 2463 3163 
L 3481 4666 
L 4744 4666 
L 3188 2381 
z
" transform="scale(0.015625)"/>
<path id="DejaVuSans-Bold-75" d="M 500 1363 
L 500 3500 
L 1625 3500 
L 1625 3150 
Q 1625 2866 1622 2436 
Q 1619 2006 1619 1863 
Q 1619 1441 1641 1255 
Q 1663 1069 1716 984 
Q 1784 875 1895 815 
Q 2006 756 2150 756 
Q 2500 756 2700 1025 
Q 2900 1294 2900 1772 
L 2900 3500 
L 4019 3500 
L 4019 0 
L 2900 0 
L 2900 506 
Q 2647 200 2364 54 
Q 2081 -91 1741 -91 
Q 1134 -91 817 281 
Q 500 653 500 1363 
z
" transform="scale(0.015625)"/>
<path id="DejaVuSans-Bold-67" d="M 2919 594 
Q 2688 288 2409 144 
Q 2131 0 1766 0 
Q 1125 0 706 504 
Q 288 1009 288 1791 
Q 288 2575 706 3076 
Q 1125 3578 1766 3578 
Q 2131 3578 2409 3434 
Q 2688 3291 2919 2981 
L 2919 3500 
L 4044 3500 
L 4044 353 
Q 4044 -491 3511 -936 
Q 2978 -1381 1966 -1381 
Q 1638 -1381 1331 -1331 
Q 1025 -1281 716 -1178 
L 716 -306 
Q 1009 -475 1290 -558 
Q 1572 -641 1856 -641 
Q 2406 -641 2662 -400 
Q 2919 -159 2919 353 
L 2919 594 
z
M 2181 2772 
Q 1834 2772 1640 2515 
Q 1447 2259 1447 1791 
Q 1447 1309 1634 1061 
Q 1822 813 2181 813 
Q 2531 813 2725 1069 
Q 2919 1325 2919 1791 
Q 2919 2259 2725 2515 
Q 2531 2772 2181 2772 
z
" transform="scale(0.015625)"/>
<path id="DejaVuSans-Bold-6f" d="M 2203 2784 
Q 1831 2784 1636 2517 
Q 1441 2250 1441 1747 
Q 1441 1244 1636 976 
Q 1831 709 2203 709 
Q 2569 709 2762 976 
Q 2956 1244 2956 1747 
Q 2956 2250 2762 2517 
Q 2569 2784 2203 2784 
z
M 2203 3584 
Q 3106 3584 3614 3096 
Q 4122 2609 4122 1747 
Q 4122 884 3614 396 
Q 3106 -91 2203 -91 
Q 1297 -91 786 396 
Q 275 884 275 1747 
Q 275 2609 786 3096 
Q 1297 3584 2203 3584 
z
" transform="scale(0.015625)"/>
<path id="DejaVuSans-Bold-6d" d="M 3781 2919 
Q 3994 3244 4286 3414 
Q 4578 3584 4928 3584 
Q 5531 3584 5847 3212 
Q 6163 2841 6163 2131 
L 6163 0 
L 5038 0 
L 5038 1825 
Q 5041 1866 5042 1909 
Q 5044 1953 5044 2034 
Q 5044 2406 4934 2573 
Q 4825 2741 4581 2741 
Q 4263 2741 4089 2478 
Q 3916 2216 3909 1719 
L 3909 0 
L 2784 0 
L 2784 1825 
Q 2784 2406 2684 2573 
Q 2584 2741 2328 2741 
Q 2006 2741 1831 2477 
Q 1656 2213 1656 1722 
L 1656 0 
L 531 0 
L 531 3500 
L 1656 3500 
L 1656 2988 
Q 1863 3284 2130 3434 
Q 2397 3584 2719 3584 
Q 3081 3584 3359 3409 
Q 3638 3234 3781 2919 
z
" transform="scale(0.015625)"/>
</defs>
<use href="#DejaVuSans-Bold-43"/>
<use href="#DejaVuSans-Bold-54" transform="translate(73.388672 0)"/>
<use href="#DejaVuSans-Bold-43" transform="translate(141.601562 0)"/>
<use href="#DejaVuSans-Bold-58" transform="translate(214.990234 0)"/>
<use href="#DejaVuSans-Bold-20" transform="translate(292.089844 0)"/>
<use href="#DejaVuSans-Bold-4d" transform="translate(326.904297 0)"/>
<use href="#DejaVuSans-Bold-75" transform="translate(426.416016 0)"/>
<use href="#DejaVuSans-Bold-6c" transform="translate(497.607422 0)"/>
<use href="#DejaVuSans-Bold-74" transform="translate(531.884766 0)"/>
<use href="#DejaVuSans-Bold-69" transform="translate(579.6875 0)"/>
<use href="#DejaVuSans-Bold-2d" transform="translate(613.964844 0)"/>
<use href="#DejaVuSans-Bold-52" transform="translate(655.46875 0)"/>
<use href="#DejaVuSans-Bold-75" transform="translate(732.470703 0)"/>
<use href="#DejaVuSans-Bold-6e" transform="translate(803.662109 0)"/>
<use href="#DejaVuSans-Bold-20" transform="translate(874.853516 0)"/>
<use href="#DejaVuSans-Bold-44" transform="translate(909.667969 0)"/>
<use href="#DejaVuSans-Bold-69" transform="translate(992.675781 0)"/>
<use href="#DejaVuSans-Bold-61" transform="translate(1026.953125 0)"/>
<use href="#DejaVuSans-Bold-67" transform="translate(1094.433594 0)"/>
<use href="#DejaVuSans-Bold-6e" transform="translate(1166.015625 0)"/>
<use href="#DejaVuSans-Bold-6f" transform="translate(1237.207031 0)"/>
<use href="#DejaVuSans-Bold-73" transform="translate(1305.908203 0)"/>
<use href="#DejaVuSans-Bold-74" transform="translate(1365.429688 0)"/>
<use href="#DejaVuSans-Bold-69" transform="translate(1413.232422 0)"/>
<use href="#DejaVuSans-Bold-63" transform="translate(1447.509766 0)"/>
<use href="#DejaVuSans-Bold-20" transform="translate(1506.787109 0)"/>
<use href="#DejaVuSans-Bold-43" transform="translate(1541.601562 0)"/>
<use href="#DejaVuSans-Bold-6f" transform="translate(1614.990234 0)"/>
<use href="#DejaVuSans-Bold-6d" transform="translate(1683.691406 0)"/>
<use href="#DejaVuSans-Bold-70" transform="translate(1787.890625 0)"/>
<use href="#DejaVuSans-Bold-61" transform="translate(1859.472656 0)"/>
<use href="#DejaVuSans-Bold-72" transform="translate(1926.953125 0)"/>
<use href="#DejaVuSans-Bold-69" transform="translate(1976.269531 0)"/>
<use href="#DejaVuSans-Bold-73" transform="translate(2010.546875 0)"/>
<use href="#DejaVuSans-Bold-6f" transform="translate(2070.068359 0)"/>
<use href="#DejaVuSans-Bold-6e" transform="translate(2138.769531 0)"/>
</g>
</g>
<g id="text_99">
<g transform="matrix(0.15974 0.00000 0.00000 -0.16714 728.891 19.440)">
<defs>
<path id="DejaVuSans-Bold-2a" d="M 3219 3803 
L 2188 3263 
L 3219 2719 
L 2981 2278 
L 1941 2853 
L 1941 1778 
L 1409 1778 
L 1409 2853 
L 366 2278 
L 128 2719 
L 1172 3263 
L 128 3803 
L 366 4244 
L 1409 3675 
L 1409 4750 
L 1941 4750 
L 1941 3675 
L 2981 4244 
L 3219 3803 
z
" transform="scale(0.015625)"/>
<path id="DejaVuSans-Bold-31" d="M 750 831 
L 1813 831 
L 1813 3847 
L 722 3622 
L 722 4441 
L 1806 4666 
L 2950 4666 
L 2950 831 
L 4013 831 
L 4013 0 
L 750 0 
L 750 831 
z
" transform="scale(0.015625)"/>
<path id="DejaVuSans-Bold-32" d="M 1844 884 
L 3897 884 
L 3897 0 
L 506 0 
L 506 884 
L 2209 2388 
Q 2438 2594 2547 2791 
Q 2656 2988 2656 3200 
Q 2656 3528 2436 3728 
Q 2216 3928 1850 3928 
Q 1569 3928 1234 3808 
Q 900 3688 519 3450 
L 519 4475 
Q 925 4609 1322 4679 
Q 1719 4750 2100 4750 
Q 2938 4750 3402 4381 
Q 3866 4013 3866 3353 
Q 3866 2972 3669 2642 
Q 3472 2313 2841 1759 
L 1844 884 
z
" transform="scale(0.015625)"/>
<path id="DejaVuSans-Bold-30" d="M 2944 2338 
Q 2944 3213 2780 3570 
Q 2616 3928 2228 3928 
Q 1841 3928 1675 3570 
Q 1509 3213 1509 2338 
Q 1509 1453 1675 1090 
Q 1841 728 2228 728 
Q 2613 728 2778 1090 
Q 2944 1453 2944 2338 
z
M 4147 2328 
Q 4147 1169 3647 539 
Q 3147 -91 2228 -91 
Q 1306 -91 806 539 
Q 306 1169 306 2328 
Q 306 3491 806 4120 
Q 1306 4750 2228 4750 
Q 3147 4750 3647 4120 
Q 4147 3491 4147 2328 
z
" transform="scale(0.015625)"/>
<path id="DejaVuSans-Bold-34" d="M 2356 3675 
L 1038 1722 
L 2356 1722 
L 2356 3675 
z
M 2156 4666 
L 3494 4666 
L 3494 1722 
L 4159 1722 
L 4159 850 
L 3494 850 
L 3494 0 
L 2356 0 
L 2356 850 
L 288 850 
L 288 1881 
L 2156 4666 
z
" transform="scale(0.015625)"/>
</defs>
<use href="#DejaVuSans-Bold-2a"/>
<use href="#DejaVuSans-Bold-20" transform="translate(52.294922 0)"/>
<use href="#DejaVuSans-Bold-2d" transform="translate(87.109375 0)"/>
<use href="#DejaVuSans-Bold-20" transform="translate(128.613281 0)"/>
<use href="#DejaVuSans-Bold-53" transform="translate(163.427734 0)"/>
<use href="#DejaVuSans-Bold-48" transform="translate(235.449219 0)"/>
<use href="#DejaVuSans-Bold-31" transform="translate(319.140625 0)"/>
<use href="#DejaVuSans-Bold-31" transform="translate(388.720703 0)"/>
<use href="#DejaVuSans-Bold-32" transform="translate(458.300781 0)"/>
<use href="#DejaVuSans-Bold-30" transform="translate(527.880859 0)"/>
<use href="#DejaVuSans-Bold-32" transform="translate(597.460938 0)"/>
<use href="#DejaVuSans-Bold-34" transform="translate(667.041016 0)"/>
</g>
</g>
</g>
<defs>
<clipPath id="pd9d3201587">
<rect x="47.88" y="26.28" width="366.48" height="175.68"/>
</clipPath>
<clipPath id="pa40de9cebc">
<rect x="476.28" y="26.28" width="366.48" height="175.68"/>
</clipPath>
<clipPath id="pa3eb995bca">
<rect x="476.28" y="233.2944" width="366.48" height="175.3776"/>
</clipPath>
<clipPath id="p1802058db7">
<rect x="476.28" y="440.28" width="366.48" height="175.68"/>
</clipPath>
<clipPath id="p7c9f272d39">
<rect x="47.88" y="241.56" width="366.48" height="366.48"/>
</clipPath>
</defs>
</svg>
<svg width="1200" height="900" viewBox="0 0 1200 900" style="display:block;position:absolute;left:0;top:0">
<defs>
<clipPath id="lgc"><circle cx="20" cy="883" r="15.1"/></clipPath>
<linearGradient id="lgI" x1="0" y1="0" x2="0" y2="1"><stop offset="0" stop-color="#2456a4"/><stop offset="0.55" stop-color="#1f4394"/><stop offset="1" stop-color="#1f3185"/></linearGradient>
<linearGradient id="lgR" x1="0" y1="0" x2="0.6" y2="1"><stop offset="0" stop-color="#1f4f9f"/><stop offset="0.45" stop-color="#1f5ca8"/><stop offset="1" stop-color="#20388a"/></linearGradient>
<linearGradient id="lgA" x1="0" y1="0" x2="1" y2="1"><stop offset="0" stop-color="#2a6db3"/><stop offset="0.5" stop-color="#2359a5"/><stop offset="1" stop-color="#272f80"/></linearGradient>
<linearGradient id="lgC" x1="0" y1="0" x2="1" y2="0"><stop offset="0" stop-color="#20469a"/><stop offset="1" stop-color="#1e3687"/></linearGradient>
<linearGradient id="lgG" x1="0" y1="0.3" x2="1" y2="0.6"><stop offset="0" stop-color="#b9c3c4"/><stop offset="0.3" stop-color="#8fa3a8"/><stop offset="0.5" stop-color="#3f66b4"/><stop offset="0.75" stop-color="#3a4fb2"/><stop offset="1" stop-color="#33409f"/></linearGradient>
<clipPath id="lgcC"><rect x="39" y="868" width="20.7" height="29"/></clipPath>
<clipPath id="lgcG"><ellipse cx="52.2" cy="882.4" rx="8.6" ry="9.8"/></clipPath>
</defs>
<g>
<ellipse cx="501.5" cy="567" rx="2.4" ry="1.9" fill="#cbcbcb"/>
<ellipse cx="506" cy="570.2" rx="1" ry="0.8" fill="#d6d6d6"/>
<ellipse cx="464.4" cy="552" rx="0.55" ry="1" fill="#d2d2d2"/>
<path d="M69 489.6 l1.2 1.2 M71.6 494.4 l0.8 1 M74.6 495.3 l2 0.8 M77.4 496.4 l1.6 0.2" stroke="#e4e4e4" stroke-width="0.7" fill="none"/>
<ellipse cx="494" cy="565" rx="0.8" ry="0.5" fill="#ececec"/>
<ellipse cx="115.5" cy="593.7" rx="0.5" ry="0.6" fill="#e2e2e2"/>
</g>
<g clip-path="url(#lgc)">
<rect x="4" y="867" width="32" height="32" fill="#ffffff"/>
<path d="M3.5 877.6 C7 881.2 10.5 884.6 14.5 886.4 C17 887.5 19 888.2 20.5 887.6 C24 886.6 27.5 884.3 30 881.5 C32 879.2 33.6 876.6 35.2 873.8 L37 900 L3 900 Z" fill="#0a83d2"/>
<path d="M6.8 874.9 C9.5 876.2 11.5 878.2 13 880.6 C14.8 883.5 17 885.6 20 885.8 C23 885.4 25.2 883.2 26.8 880.4 C28.4 877.5 30 875.2 32.9 873.4 L36 866 L4 866 Z" fill="#263e86"/>
<path d="M15.3 889.5 C17.5 888.6 19 887.6 20.3 886.6 C22 886.2 24.5 886 26.6 886 C24.5 887 22.5 887.6 21 888.2 C19.5 889 17.5 889.6 15.3 889.5 Z" fill="#ffffff"/>
</g>
<g fill="none" stroke="#ffffff" stroke-width="0.75" stroke-linejoin="round" opacity="0.88">
<path d="M13.4 877.5 V874.3 L15.6 877.5 V874.3"/>
<ellipse cx="17.9" cy="875.9" rx="1.05" ry="1.6"/>
<path d="M19.9 877.5 L21.1 874.3 L22.3 877.5 M20.4 876.5 H21.8"/>
<path d="M23.1 877.5 L24.3 874.3 L25.5 877.5 M23.6 876.5 H25"/>
</g>
<g clip-path="url(#lgcC)">
<path fill-rule="evenodd" fill="url(#lgC)" d="M40 882.4 a10.9 12.4 0 1 0 21.8 0 a10.9 12.4 0 1 0 -21.8 0 Z M43.9 882.4 a8.3 9.6 0 1 1 16.6 0 a8.3 9.6 0 1 1 -16.6 0 Z"/>
</g>
<rect x="55.2" y="870.2" width="4.4" height="5.8" fill="#1f3d8d"/>
<rect x="55.6" y="888.8" width="4.1" height="4.6" fill="#1e3687"/>
<g clip-path="url(#lgcG)">
<rect x="43" y="872" width="19" height="21" fill="url(#lgG)"/>
<ellipse cx="46.6" cy="879" rx="2.4" ry="4" fill="#e4e7e4" opacity="0.85"/>
<ellipse cx="49.8" cy="876.3" rx="2.6" ry="2" fill="#58713f" opacity="0.85"/>
<ellipse cx="47" cy="886.5" rx="2.2" ry="2.4" fill="#3d5f7a" opacity="0.8"/>
<ellipse cx="47.3" cy="884.5" rx="2.2" ry="0.9" fill="#f2f4f4" opacity="0.9"/>
<path d="M54.4 876.5 L53 884.5 L51 888.5" stroke="#45b7d8" stroke-width="1.1" fill="none" opacity="0.85"/>
<ellipse cx="51.2" cy="882.6" rx="2" ry="1.3" fill="#1c2a6b" opacity="0.85"/>
<ellipse cx="50" cy="889" rx="2.4" ry="1.6" fill="#244a86" opacity="0.8"/>
</g>
<rect x="62.3" y="870.3" width="4.7" height="24.2" fill="url(#lgI)"/>
<path d="M71.3 870.3 L80.2 870.3 C83.6 870.5 85.2 873 85.2 876 C85.2 879 83.6 881.6 80.6 882.4 L87 894.5 L81.6 894.5 L76 883.6 L76 894.5 L71.3 894.5 Z" fill="url(#lgR)"/>
<path d="M76.2 874.2 L77.4 873.9 L78.6 877.4 L79.6 879.6 L78 880.8 L77.2 879.2 Z" fill="#dfe6ee" opacity="0.9"/>
<path d="M97.7 870.4 L109.5 894.5 L87.2 894.5 Z" fill="url(#lgA)"/>
<path d="M92.4 890.4 L93.4 884.8 L100 882.6 L100.9 888.4 L99.2 890.2 L100 894.5 L97.2 894.5 L97.2 890.8 Z" fill="#e6eaee"/>
</svg>

</div></body></html>
